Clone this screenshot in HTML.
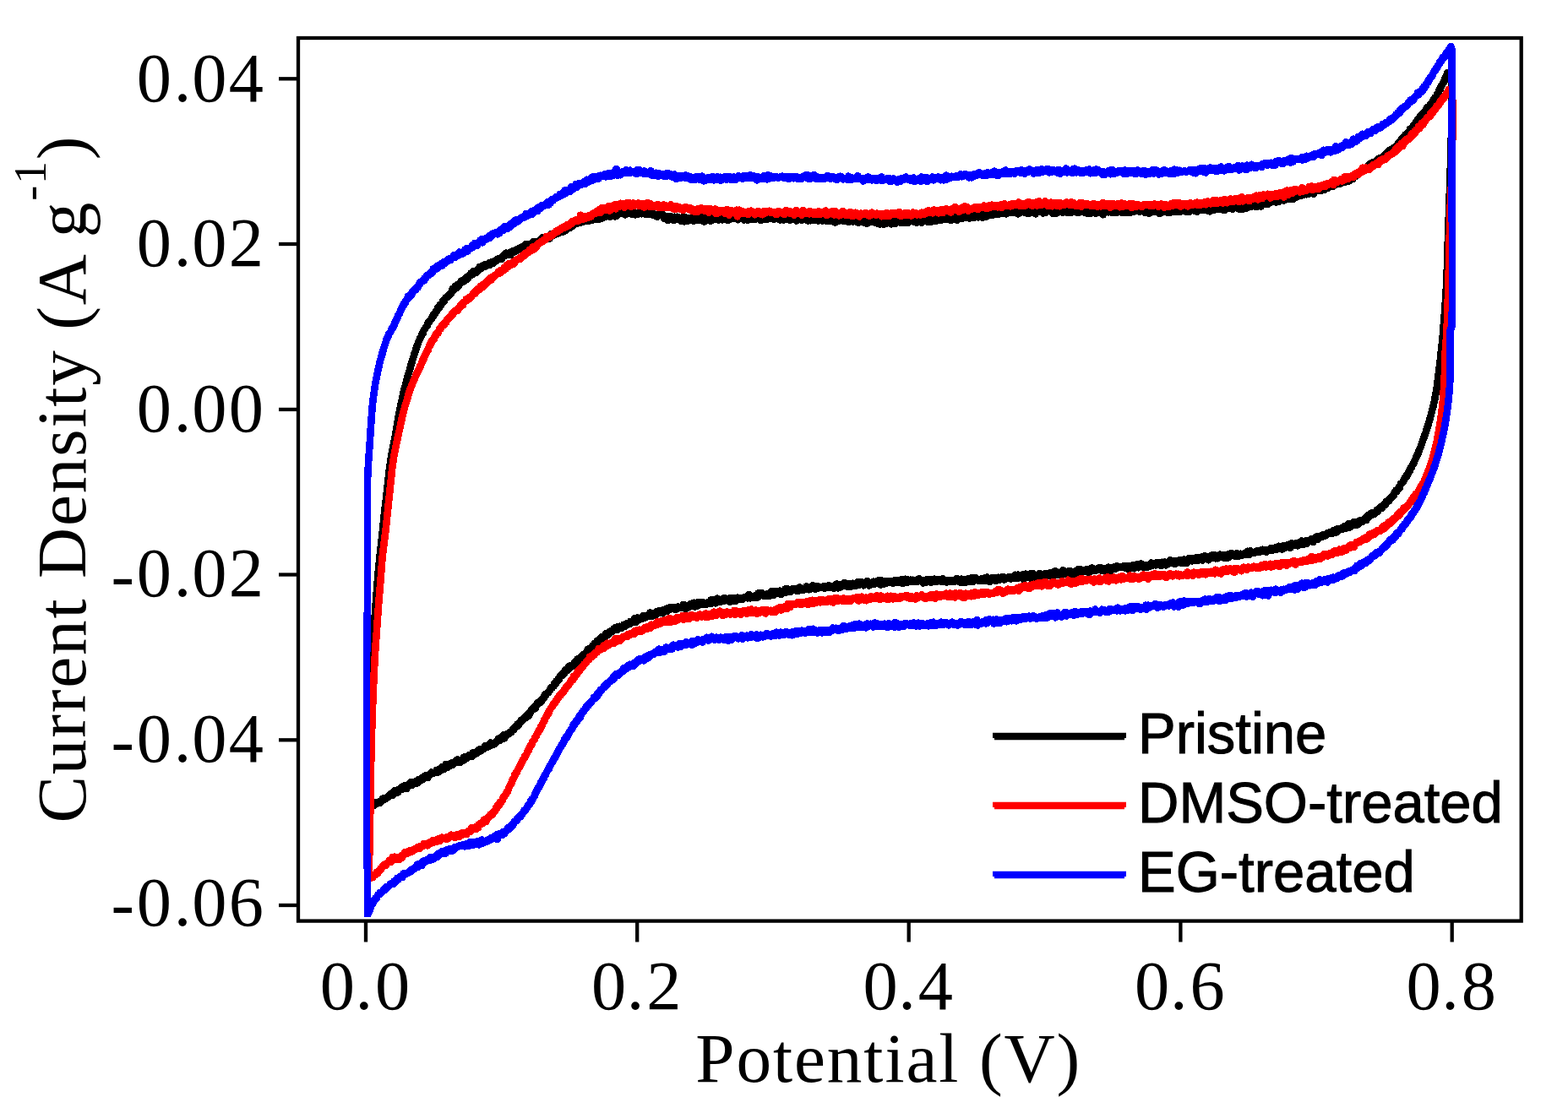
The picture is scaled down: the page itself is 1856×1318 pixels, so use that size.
<!DOCTYPE html>
<html lang="en"><head><meta charset="utf-8"><title>Cyclic voltammetry</title>
<style>html,body{margin:0;padding:0;background:#fff}svg{display:block}</style></head><body>
<svg width="1856" height="1318" viewBox="0 0 1856 1318">
<rect width="1856" height="1318" fill="#fff"/>
<defs><filter id="soft" x="-5%" y="-5%" width="110%" height="110%"><feGaussianBlur stdDeviation="0.7"/></filter></defs>
<path d="M437.0 955.0 L437.0 954.2 L437.0 953.4 L437.0 952.6 L437.0 951.8 L437.0 951.0 L437.0 950.1 L437.1 949.3 L437.1 948.5 L437.1 947.7 L437.1 946.9 L437.1 946.1 L437.1 945.3 L437.1 944.5 L437.1 943.7 L437.1 942.9 L437.1 942.1 L437.1 941.3 L437.1 940.4 L437.1 939.6 L437.2 938.8 L437.2 938.0 L437.2 937.2 L437.2 936.4 L437.2 935.6 L437.2 934.8 L437.2 934.0 L437.2 933.1 L437.2 932.4 L437.2 931.5 L437.2 930.7 L437.2 929.9 L437.2 929.1 L437.3 928.3 L437.3 927.5 L437.3 926.7 L437.3 925.9 L437.3 925.1 L437.3 924.3 L437.3 923.5 L437.3 922.6 L437.3 921.8 L437.3 921.0 L437.3 920.2 L437.3 919.4 L437.3 918.6 L437.4 917.8 L437.4 917.0 L437.4 916.2 L437.4 915.4 L437.4 914.6 L437.4 913.7 L437.4 913.0 L437.4 912.1 L437.4 911.3 L437.4 910.5 L437.4 909.7 L437.4 908.9 L437.4 908.1 L437.4 907.3 L437.4 906.5 L437.5 905.7 L437.5 904.9 L437.5 904.1 L437.5 903.2 L437.5 902.4 L437.5 901.6 L437.5 900.8 L437.5 900.0 L437.5 899.2 L437.5 898.4 L437.5 897.6 L437.5 896.8 L437.5 896.0 L437.5 895.2 L437.5 894.4 L437.5 893.6 L437.5 892.8 L437.5 892.0 L437.6 891.2 L437.6 890.4 L437.6 889.6 L437.6 888.8 L437.6 888.0 L437.6 887.2 L437.6 886.4 L437.6 885.6 L437.6 884.8 L437.6 884.0 L437.6 883.2 L437.6 882.4 L437.6 881.6 L437.6 880.8 L437.6 880.0 L437.6 879.2 L437.6 878.4 L437.6 877.6 L437.6 876.8 L437.6 876.0 L437.6 875.2 L437.6 874.4 L437.6 873.6 L437.6 872.8 L437.6 872.0 L437.6 871.2 L437.6 870.4 L437.6 869.6 L437.6 868.8 L437.6 868.0 L437.6 867.2 L437.6 866.4 L437.6 865.6 L437.6 864.8 L437.6 864.0 L437.6 863.2 L437.6 862.4 L437.6 861.6 L437.6 860.8 L437.6 860.0 L437.6 859.2 L437.6 858.4 L437.6 857.6 L437.6 856.8 L437.6 856.0 L437.6 855.2 L437.6 854.4 L437.6 853.6 L437.6 852.8 L437.6 852.0 L437.6 851.2 L437.6 850.4 L437.7 849.6 L437.7 848.8 L437.7 848.0 L437.7 847.2 L437.7 846.4 L437.7 845.6 L437.7 844.8 L437.7 844.0 L437.7 843.2 L437.7 842.4 L437.7 841.6 L437.7 840.8 L437.7 840.0 L437.7 839.2 L437.7 838.4 L437.7 837.6 L437.7 836.8 L437.8 836.0 L437.8 835.2 L437.8 834.4 L437.8 833.6 L437.8 832.8 L437.8 832.0 L437.8 831.2 L437.8 830.4 L437.8 829.6 L437.8 828.8 L437.9 828.0 L437.9 827.2 L437.9 826.4 L437.9 825.6 L437.9 824.8 L437.9 824.0 L437.9 823.2 L438.0 822.4 L438.0 821.6 L438.0 820.8 L438.0 820.0 L438.0 819.2 L438.0 818.4 L438.1 817.6 L438.1 816.7 L438.1 816.0 L438.1 815.2 L438.2 814.3 L438.2 813.6 L438.2 812.8 L438.2 812.1 L438.3 811.2 L438.3 810.4 L438.3 809.5 L438.4 808.8 L438.4 808.0 L438.4 807.1 L438.5 806.4 L438.5 805.7 L438.6 804.8 L438.6 804.1 L438.6 803.3 L438.7 802.4 L438.7 801.6 L438.8 800.7 L438.8 800.1 L438.8 799.2 L438.9 798.4 L438.9 797.7 L439.0 796.8 L439.0 796.0 L439.1 795.1 L439.1 794.5 L439.2 793.5 L439.2 792.7 L439.3 792.0 L439.3 791.2 L439.4 790.5 L439.4 789.6 L439.5 788.8 L439.5 787.9 L439.6 787.2 L439.6 786.5 L439.7 785.5 L439.7 784.7 L439.8 784.1 L439.8 783.0 L439.9 782.3 L439.9 781.6 L440.0 780.8 L440.0 780.2 L440.0 779.1 L440.1 778.4 L440.2 777.5 L440.2 776.9 L440.3 775.7 L440.3 775.2 L440.4 774.2 L440.4 773.5 L440.5 772.7 L440.5 771.8 L440.6 770.9 L440.7 770.3 L440.7 769.3 L440.8 768.6 L440.8 767.7 L440.9 767.0 L441.0 766.2 L441.0 765.4 L441.1 764.4 L441.1 763.7 L441.2 762.9 L441.3 762.1 L441.3 761.4 L441.4 760.4 L441.4 759.6 L441.5 758.7 L441.6 758.1 L441.6 757.2 L441.7 756.4 L441.8 755.4 L441.8 754.5 L441.9 753.8 L441.9 753.0 L442.0 752.2 L442.1 751.3 L442.1 750.5 L442.2 749.9 L442.3 748.9 L442.3 748.0 L442.4 747.5 L442.4 746.5 L442.5 745.6 L442.6 744.7 L442.6 744.0 L442.7 743.2 L442.7 742.2 L442.8 741.5 L442.9 740.9 L442.9 739.9 L443.0 739.2 L443.0 738.3 L443.1 737.7 L443.2 736.7 L443.2 735.8 L443.3 735.1 L443.3 734.2 L443.4 733.4 L443.5 732.5 L443.5 731.8 L443.6 730.9 L443.6 730.2 L443.7 729.4 L443.8 728.6 L443.8 727.6 L443.9 726.9 L443.9 726.1 L444.0 725.3 L444.1 724.3 L444.1 723.5 L444.2 722.7 L444.2 721.7 L444.3 721.1 L444.4 720.3 L444.4 719.6 L444.5 718.6 L444.5 717.7 L444.6 717.1 L444.7 716.1 L444.7 715.3 L444.8 714.6 L444.8 713.9 L444.9 712.8 L445.0 712.3 L445.0 711.4 L445.1 710.6 L445.1 709.6 L445.2 708.9 L445.2 708.2 L445.3 707.3 L445.4 706.6 L445.4 705.7 L445.5 705.0 L445.5 704.2 L445.6 703.3 L445.7 702.6 L445.7 701.9 L445.8 700.9 L445.8 700.0 L445.9 699.2 L446.0 698.6 L446.0 697.6 L446.1 696.8 L446.1 696.0 L446.2 695.1 L446.3 694.5 L446.3 693.6 L446.4 693.0 L446.5 692.0 L446.5 691.3 L446.6 690.6 L446.7 689.6 L446.7 688.7 L446.8 688.1 L446.9 687.3 L446.9 686.3 L447.0 685.7 L447.1 684.8 L447.1 684.0 L447.2 683.3 L447.3 682.4 L447.4 681.6 L447.4 680.9 L447.5 680.0 L447.6 679.4 L447.6 678.5 L447.7 677.7 L447.8 676.7 L447.9 676.2 L447.9 675.2 L448.0 674.6 L448.1 673.6 L448.2 672.7 L448.2 672.0 L448.3 671.2 L448.4 670.5 L448.5 669.6 L448.6 668.7 L448.6 668.1 L448.7 667.2 L448.8 666.7 L448.9 665.5 L448.9 665.1 L449.0 664.2 L449.1 663.3 L449.2 662.5 L449.3 661.8 L449.3 661.0 L449.4 660.3 L449.5 659.3 L449.6 658.5 L449.7 657.7 L449.7 656.9 L449.8 656.2 L449.9 655.4 L450.0 654.4 L450.1 653.6 L450.2 652.9 L450.2 652.3 L450.3 651.2 L450.4 650.2 L450.5 649.8 L450.6 648.8 L450.7 647.9 L450.8 647.3 L450.9 646.6 L450.9 645.8 L451.0 645.0 L451.1 644.2 L451.2 643.1 L451.3 642.4 L451.4 641.8 L451.5 640.8 L451.6 640.1 L451.6 639.3 L451.7 638.5 L451.8 638.0 L451.9 636.7 L452.0 636.4 L452.1 635.1 L452.2 634.3 L452.3 633.7 L452.3 632.8 L452.4 631.9 L452.5 631.2 L452.6 630.4 L452.7 629.6 L452.8 628.9 L452.9 627.8 L452.9 627.2 L453.0 626.5 L453.1 625.7 L453.2 624.9 L453.3 624.2 L453.4 623.2 L453.5 622.5 L453.5 621.6 L453.6 620.8 L453.7 619.9 L453.8 619.5 L453.9 618.6 L454.0 617.6 L454.1 616.7 L454.1 616.2 L454.2 615.4 L454.3 614.3 L454.4 613.7 L454.5 613.0 L454.6 611.9 L454.7 611.3 L454.7 610.6 L454.8 609.5 L454.9 608.8 L455.0 608.1 L455.1 607.4 L455.2 606.5 L455.3 605.7 L455.3 604.6 L455.4 603.9 L455.5 603.2 L455.6 602.6 L455.7 601.7 L455.8 600.8 L455.9 600.3 L456.0 599.4 L456.1 598.5 L456.1 597.7 L456.2 596.7 L456.3 596.4 L456.4 595.2 L456.5 594.8 L456.6 593.6 L456.7 592.9 L456.8 592.0 L456.9 591.2 L457.0 590.6 L457.1 589.7 L457.1 588.9 L457.2 588.2 L457.3 587.1 L457.4 586.5 L457.5 585.9 L457.6 584.7 L457.7 584.2 L457.8 583.0 L457.9 582.5 L458.0 582.0 L458.1 581.2 L458.2 580.1 L458.3 579.5 L458.3 578.4 L458.4 577.4 L458.5 577.1 L458.6 576.1 L458.7 575.6 L458.8 574.4 L458.9 573.5 L459.0 573.0 L459.1 572.1 L459.2 571.5 L459.3 570.5 L459.4 569.5 L459.5 568.8 L459.5 568.0 L459.6 567.5 L459.7 566.7 L459.8 565.7 L459.9 564.8 L460.0 564.4 L460.1 563.0 L460.2 562.6 L460.3 561.5 L460.3 561.0 L460.4 560.2 L460.5 559.6 L460.6 558.2 L460.7 557.4 L460.8 556.9 L460.9 556.0 L461.0 555.5 L461.1 554.5 L461.2 553.8 L461.3 552.6 L461.4 552.0 L461.5 551.2 L461.6 550.7 L461.7 549.5 L461.8 549.0 L461.9 548.2 L462.0 547.6 L462.1 546.6 L462.3 545.7 L462.4 545.0 L462.5 543.6 L462.6 543.1 L462.8 542.5 L462.9 541.8 L463.0 540.9 L463.2 539.9 L463.3 539.0 L463.5 538.2 L463.6 537.4 L463.7 536.9 L463.9 535.8 L464.1 534.8 L464.2 534.0 L464.4 533.5 L464.5 532.9 L464.7 532.1 L464.8 531.1 L465.0 531.0 L465.2 530.1 L465.3 528.5 L465.5 527.9 L465.6 526.9 L465.8 526.7 L466.0 525.6 L466.1 524.8 L466.3 524.5 L466.5 523.6 L466.6 522.8 L466.8 522.0 L466.9 520.4 L467.1 519.8 L467.2 519.4 L467.4 518.3 L467.6 517.8 L467.7 517.1 L467.9 516.2 L468.0 515.1 L468.1 514.6 L468.3 513.5 L468.4 512.8 L468.6 511.9 L468.7 510.8 L468.8 510.3 L469.0 509.4 L469.1 508.6 L469.3 507.7 L469.4 507.0 L469.5 506.5 L469.6 505.2 L469.8 505.0 L469.9 504.3 L470.0 503.3 L470.2 502.4 L470.3 501.2 L470.4 500.7 L470.6 500.2 L470.7 499.5 L470.8 498.6 L471.0 497.6 L471.1 496.6 L471.2 496.2 L471.4 495.2 L471.5 494.1 L471.7 493.7 L471.8 492.5 L471.9 491.6 L472.1 491.1 L472.2 490.2 L472.4 489.8 L472.5 488.7 L472.7 487.9 L472.8 487.3 L473.0 486.5 L473.2 485.6 L473.3 484.6 L473.5 484.3 L473.7 483.0 L473.8 482.4 L474.0 481.3 L474.2 480.7 L474.3 479.9 L474.5 478.8 L474.7 478.3 L474.8 477.6 L475.0 476.6 L475.2 476.1 L475.4 475.6 L475.5 474.4 L475.7 473.8 L475.9 472.8 L476.1 472.4 L476.3 470.9 L476.4 470.0 L476.6 469.4 L476.8 468.9 L477.0 468.0 L477.2 467.2 L477.4 465.9 L477.6 465.0 L477.7 464.2 L477.9 464.0 L478.1 463.0 L478.3 462.4 L478.5 461.8 L478.7 460.3 L478.9 459.6 L479.1 458.5 L479.3 458.2 L479.5 457.7 L479.7 457.2 L479.9 456.2 L480.1 455.2 L480.3 454.5 L480.5 454.1 L480.7 453.0 L480.9 451.4 L481.1 450.6 L481.3 450.1 L481.5 449.9 L481.7 449.5 L481.9 448.6 L482.2 447.5 L482.4 446.6 L482.6 445.8 L482.8 444.9 L483.0 444.6 L483.2 443.0 L483.4 442.9 L483.7 441.5 L483.9 441.4 L484.1 440.0 L484.3 439.6 L484.5 439.2 L484.8 438.4 L485.0 437.5 L485.2 436.5 L485.4 436.1 L485.7 435.8 L485.9 433.9 L486.1 433.0 L486.3 432.4 L486.6 431.9 L486.8 431.3 L487.0 431.1 L487.3 430.0 L487.5 429.2 L487.7 428.1 L488.0 426.8 L488.2 426.1 L488.4 425.8 L488.7 424.7 L488.9 423.6 L489.2 423.8 L489.4 422.9 L489.6 422.2 L489.9 420.9 L490.1 420.9 L490.4 419.4 L490.6 418.6 L490.9 417.9 L491.1 417.1 L491.4 417.1 L491.6 416.4 L491.9 414.4 L492.1 414.3 L492.4 412.6 L492.7 413.2 L492.9 412.4 L493.2 410.8 L493.5 409.6 L493.8 409.2 L494.0 409.4 L494.3 408.0 L494.6 407.3 L494.9 406.6 L495.2 405.4 L495.5 404.9 L495.8 404.0 L496.1 403.0 L496.5 402.9 L496.8 401.6 L497.1 400.6 L497.5 400.5 L497.8 399.5 L498.2 399.3 L498.5 398.8 L498.9 396.5 L499.3 395.5 L499.6 395.9 L500.0 395.3 L500.4 395.4 L500.8 394.3 L501.2 392.9 L501.6 391.2 L502.0 390.6 L502.4 389.9 L502.8 390.2 L503.2 389.1 L503.6 388.5 L504.0 387.4 L504.4 386.9 L504.8 386.7 L505.3 385.7 L505.7 385.7 L506.1 384.4 L506.5 382.9 L507.0 382.5 L507.4 381.3 L507.8 380.8 L508.3 380.7 L508.7 380.2 L509.2 379.2 L509.6 378.8 L510.1 378.1 L510.5 377.2 L511.0 377.0 L511.4 375.9 L511.9 376.2 L512.4 374.2 L512.8 373.7 L513.3 373.7 L513.7 371.4 L514.2 372.8 L514.7 371.0 L515.1 371.1 L515.6 370.0 L516.1 368.7 L516.5 368.1 L517.0 368.3 L517.5 366.8 L517.9 365.0 L518.4 366.6 L518.8 365.9 L519.3 365.5 L519.8 364.6 L520.2 363.5 L520.7 361.2 L521.1 361.2 L521.6 361.0 L522.1 361.9 L522.6 360.2 L523.0 360.0 L523.5 358.5 L524.0 357.5 L524.5 356.0 L524.9 357.3 L525.4 357.5 L525.9 356.2 L526.4 354.5 L526.9 354.2 L527.4 352.6 L528.0 352.1 L528.5 351.6 L529.0 352.5 L529.5 351.0 L530.1 350.9 L530.6 349.8 L531.2 350.0 L531.7 350.3 L532.3 347.8 L532.8 348.2 L533.4 347.7 L533.9 346.5 L534.5 346.5 L535.1 344.4 L535.6 342.1 L536.2 343.7 L536.8 341.6 L537.4 341.1 L538.0 341.0 L538.5 342.4 L539.1 338.8 L539.7 340.1 L540.3 341.2 L540.9 338.2 L541.5 339.7 L542.1 336.8 L542.7 337.0 L543.3 338.5 L544.0 335.1 L544.6 336.3 L545.2 335.1 L545.8 332.7 L546.4 333.2 L547.0 333.4 L547.7 333.5 L548.3 332.3 L548.9 333.5 L549.5 332.7 L550.2 330.5 L550.8 330.3 L551.4 329.1 L552.1 331.4 L552.7 328.6 L553.4 327.4 L554.0 329.6 L554.6 328.1 L555.3 326.7 L555.9 326.6 L556.6 326.0 L557.3 323.6 L557.9 324.6 L558.6 325.5 L559.2 324.8 L559.9 321.5 L560.6 323.2 L561.2 323.0 L561.9 322.0 L562.6 320.7 L563.3 320.8 L563.9 322.6 L564.6 320.0 L565.3 318.9 L566.0 320.8 L566.7 319.1 L567.4 316.2 L568.1 318.5 L568.8 318.5 L569.5 315.9 L570.2 317.1 L571.0 315.0 L571.7 314.9 L572.4 314.8 L573.1 313.6 L573.8 315.9 L574.6 314.0 L575.3 314.3 L576.0 314.6 L576.8 313.0 L577.5 313.1 L578.2 312.6 L579.0 311.3 L579.7 313.9 L580.4 310.8 L581.2 311.5 L581.9 311.6 L582.7 310.1 L583.4 312.1 L584.1 309.5 L584.9 310.6 L585.6 310.2 L586.3 309.1 L587.1 309.2 L587.8 309.0 L588.5 308.0 L589.3 306.4 L590.0 307.2 L590.7 307.0 L591.5 306.3 L592.2 305.9 L592.9 305.7 L593.6 306.8 L594.4 305.7 L595.1 303.9 L595.8 302.4 L596.6 303.1 L597.3 301.1 L598.0 302.9 L598.8 299.7 L599.5 301.7 L600.2 301.1 L601.0 300.1 L601.7 300.9 L602.4 300.6 L603.2 302.2 L603.9 298.7 L604.6 302.0 L605.4 298.0 L606.1 299.3 L606.8 297.1 L607.6 297.8 L608.3 298.6 L609.1 298.3 L609.8 296.4 L610.6 296.0 L611.3 296.2 L612.1 297.0 L612.8 295.0 L613.5 295.3 L614.3 294.3 L615.0 294.7 L615.8 293.6 L616.6 292.6 L617.3 295.3 L618.1 292.8 L618.8 294.0 L619.6 292.2 L620.3 292.8 L621.1 290.9 L621.9 289.3 L622.6 293.9 L623.4 291.3 L624.2 290.4 L624.9 289.7 L625.7 289.9 L626.5 289.6 L627.2 291.3 L628.0 289.7 L628.8 290.6 L629.5 290.3 L630.3 289.3 L631.1 286.2 L631.8 286.5 L632.6 286.2 L633.3 287.9 L634.1 287.8 L634.9 288.9 L635.6 287.8 L636.4 287.8 L637.1 286.7 L637.9 287.5 L638.6 284.9 L639.4 284.1 L640.1 284.0 L640.9 283.8 L641.6 283.2 L642.3 280.9 L643.1 280.8 L643.8 282.1 L644.6 281.8 L645.3 283.5 L646.0 283.7 L646.8 281.0 L647.5 281.5 L648.2 280.5 L649.0 280.5 L649.7 283.1 L650.4 282.8 L651.2 279.6 L651.9 280.5 L652.7 276.9 L653.4 279.5 L654.1 278.5 L654.9 276.6 L655.6 278.5 L656.3 277.2 L657.1 275.8 L657.8 277.2 L658.5 277.1 L659.2 276.1 L660.0 273.9 L660.7 276.3 L661.4 276.3 L662.2 274.5 L662.9 274.1 L663.6 272.8 L664.4 274.1 L665.1 274.4 L665.9 274.8 L666.6 272.4 L667.3 270.1 L668.1 270.4 L668.8 273.3 L669.5 271.4 L670.2 272.6 L671.0 268.2 L671.7 271.0 L672.4 270.0 L673.2 269.2 L673.9 269.5 L674.6 267.1 L675.3 269.4 L676.1 266.7 L676.8 267.8 L677.5 268.2 L678.3 267.2 L679.0 266.9 L679.7 265.9 L680.5 264.1 L681.2 263.8 L682.0 265.2 L682.7 263.5 L683.5 264.2 L684.2 263.1 L685.0 262.0 L685.7 261.6 L686.5 264.0 L687.2 263.8 L688.0 261.6 L688.8 262.4 L689.6 262.5 L690.3 262.6 L691.1 262.5 L691.9 259.8 L692.7 260.1 L693.5 259.8 L694.3 260.7 L695.1 261.1 L695.9 259.4 L696.7 261.9 L697.5 260.7 L698.3 258.7 L699.2 260.0 L700.0 257.8 L700.8 260.7 L701.6 258.9 L702.4 259.5 L703.2 260.2 L704.0 257.5 L704.9 258.0 L705.7 259.5 L706.5 259.1 L707.3 255.2 L708.1 259.1 L708.9 259.5 L709.8 259.4 L710.6 257.4 L711.4 255.7 L712.2 258.5 L713.0 256.2 L713.8 255.8 L714.6 257.3 L715.4 256.9 L716.2 257.1 L717.0 256.9 L717.8 254.5 L718.6 252.9 L719.4 253.3 L720.2 254.4 L721.0 256.4 L721.8 252.4 L722.6 256.7 L723.4 252.2 L724.2 254.0 L725.0 253.8 L725.8 252.9 L726.6 255.2 L727.4 254.4 L728.2 256.3 L729.0 251.6 L729.8 256.1 L730.6 255.0 L731.4 253.0 L732.2 253.2 L733.0 250.9 L733.8 253.1 L734.6 251.5 L735.4 252.5 L736.2 252.4 L737.0 252.9 L737.8 252.1 L738.6 252.7 L739.4 253.3 L740.2 254.4 L741.0 249.8 L741.8 252.9 L742.6 251.8 L743.4 252.8 L744.2 251.9 L745.0 249.7 L745.8 253.2 L746.6 251.3 L747.4 250.5 L748.2 252.4 L749.0 254.2 L749.8 251.8 L750.6 251.6 L751.4 252.8 L752.2 254.3 L753.0 253.6 L753.8 252.2 L754.6 252.7 L755.4 253.3 L756.3 252.2 L757.1 251.3 L757.9 253.0 L758.7 252.8 L759.5 253.3 L760.3 251.7 L761.1 250.7 L761.9 251.7 L762.7 250.9 L763.5 253.6 L764.3 249.9 L765.1 254.2 L766.0 253.5 L766.8 253.8 L767.6 253.4 L768.4 251.7 L769.2 253.9 L770.0 251.8 L770.8 253.2 L771.6 254.1 L772.4 252.5 L773.2 254.6 L774.0 253.0 L774.8 253.8 L775.6 254.5 L776.4 254.3 L777.2 256.5 L778.0 256.6 L778.8 254.6 L779.6 254.8 L780.5 254.7 L781.3 252.0 L782.1 253.5 L782.9 254.8 L783.7 255.0 L784.5 254.3 L785.3 256.0 L786.1 258.8 L786.9 255.9 L787.7 256.9 L788.5 256.3 L789.3 256.1 L790.1 257.6 L790.9 261.1 L791.7 258.1 L792.5 256.9 L793.3 256.1 L794.1 257.0 L794.9 257.0 L795.7 257.4 L796.5 257.7 L797.4 261.2 L798.2 256.8 L799.0 258.8 L799.8 258.2 L800.6 257.3 L801.4 256.8 L802.2 258.7 L803.0 257.1 L803.8 260.0 L804.6 258.2 L805.4 258.2 L806.2 261.9 L807.0 258.7 L807.8 260.5 L808.6 257.2 L809.4 262.3 L810.2 262.3 L811.0 257.3 L811.8 260.1 L812.6 262.0 L813.4 262.1 L814.2 259.1 L815.0 261.3 L815.8 259.3 L816.6 257.9 L817.4 260.5 L818.2 260.2 L819.0 257.0 L819.8 258.3 L820.6 258.1 L821.4 261.9 L822.2 257.8 L823.0 258.0 L823.8 259.6 L824.6 258.7 L825.4 259.9 L826.2 261.2 L827.0 257.9 L827.8 260.3 L828.6 261.2 L829.4 260.4 L830.2 256.6 L831.0 261.0 L831.8 259.8 L832.6 259.1 L833.4 262.5 L834.2 257.9 L835.0 256.8 L835.8 261.2 L836.6 259.9 L837.4 260.4 L838.2 260.8 L839.0 260.1 L839.8 261.1 L840.6 261.8 L841.4 257.2 L842.2 259.7 L843.0 258.3 L843.8 259.5 L844.7 260.1 L845.5 259.0 L846.3 257.9 L847.1 257.0 L847.9 259.9 L848.7 259.1 L849.5 258.3 L850.3 260.6 L851.1 258.7 L851.9 260.2 L852.7 257.7 L853.5 255.5 L854.3 255.5 L855.1 260.5 L855.9 256.1 L856.7 259.9 L857.5 257.1 L858.4 259.1 L859.2 256.7 L860.0 258.3 L860.8 256.6 L861.6 260.9 L862.4 257.9 L863.2 260.0 L864.0 257.9 L864.8 257.4 L865.6 258.6 L866.4 258.4 L867.2 256.9 L868.0 259.1 L868.8 256.8 L869.6 257.5 L870.4 256.7 L871.2 258.0 L872.0 258.0 L872.8 258.4 L873.6 260.3 L874.4 258.6 L875.2 257.0 L876.0 257.4 L876.8 257.3 L877.6 259.0 L878.4 257.1 L879.2 259.4 L880.0 258.1 L880.8 260.5 L881.6 257.6 L882.4 259.7 L883.2 257.6 L884.0 257.3 L884.8 260.8 L885.6 257.7 L886.4 259.8 L887.2 260.1 L888.0 258.5 L888.8 257.8 L889.6 259.0 L890.4 259.5 L891.3 260.1 L892.1 256.9 L892.9 260.2 L893.7 258.1 L894.5 258.6 L895.3 257.7 L896.1 256.6 L896.9 258.8 L897.7 258.6 L898.5 258.5 L899.3 258.1 L900.1 259.5 L900.9 261.1 L901.7 259.3 L902.5 257.6 L903.3 258.8 L904.1 260.0 L904.9 259.8 L905.7 258.0 L906.5 258.0 L907.3 260.0 L908.1 258.3 L908.9 259.0 L909.7 257.9 L910.5 258.7 L911.3 259.1 L912.1 257.2 L912.9 257.9 L913.7 257.5 L914.5 258.4 L915.3 257.4 L916.1 259.7 L916.9 258.9 L917.7 257.0 L918.5 257.2 L919.3 258.5 L920.1 258.7 L920.9 259.2 L921.7 257.3 L922.5 259.1 L923.3 260.6 L924.1 259.3 L924.9 258.1 L925.7 258.4 L926.5 258.5 L927.3 260.6 L928.1 256.9 L928.9 258.5 L929.7 259.3 L930.5 259.9 L931.3 258.9 L932.1 259.9 L932.9 258.8 L933.7 257.8 L934.5 259.5 L935.3 260.7 L936.1 260.1 L936.9 258.2 L937.7 257.7 L938.6 259.2 L939.4 259.9 L940.2 258.5 L941.0 258.3 L941.8 260.1 L942.6 261.6 L943.4 257.9 L944.2 258.6 L945.0 258.6 L945.8 256.5 L946.6 259.6 L947.4 257.6 L948.2 256.9 L949.0 260.6 L949.8 260.3 L950.6 257.8 L951.4 259.4 L952.2 258.6 L953.0 260.2 L953.8 259.7 L954.6 259.4 L955.4 259.6 L956.2 261.5 L957.0 260.3 L957.8 260.8 L958.6 257.8 L959.4 261.3 L960.2 259.0 L961.0 258.1 L961.8 259.4 L962.6 260.0 L963.4 259.8 L964.2 261.1 L965.0 259.8 L965.8 258.8 L966.6 260.6 L967.4 259.3 L968.2 261.5 L969.0 260.7 L969.9 260.4 L970.7 260.7 L971.5 257.9 L972.3 261.0 L973.1 258.1 L973.9 261.5 L974.7 261.2 L975.5 260.2 L976.3 259.5 L977.1 261.4 L977.9 260.2 L978.7 260.4 L979.5 258.1 L980.4 262.0 L981.2 261.0 L982.0 258.5 L982.8 259.4 L983.6 261.6 L984.4 259.5 L985.2 261.2 L986.0 258.5 L986.8 260.3 L987.6 260.7 L988.4 263.6 L989.2 260.2 L990.0 261.8 L990.9 260.3 L991.7 261.2 L992.5 261.6 L993.3 261.6 L994.1 261.1 L994.9 259.8 L995.7 258.6 L996.5 260.9 L997.3 260.3 L998.1 262.0 L998.9 260.9 L999.7 260.7 L1000.5 258.7 L1001.3 260.1 L1002.2 261.7 L1003.0 260.0 L1003.8 261.2 L1004.6 262.9 L1005.4 262.2 L1006.2 260.8 L1007.0 262.2 L1007.8 259.0 L1008.6 259.9 L1009.4 262.4 L1010.2 261.5 L1011.0 261.6 L1011.8 262.2 L1012.7 260.3 L1013.5 262.6 L1014.3 260.7 L1015.1 262.6 L1015.9 263.7 L1016.7 261.4 L1017.5 261.7 L1018.3 262.1 L1019.1 262.2 L1019.9 262.4 L1020.7 259.6 L1021.5 262.9 L1022.3 263.4 L1023.2 260.6 L1024.0 262.5 L1024.8 260.1 L1025.6 261.8 L1026.4 264.7 L1027.2 263.7 L1028.0 261.9 L1028.8 261.9 L1029.6 261.1 L1030.4 260.2 L1031.2 262.8 L1032.0 263.1 L1032.8 262.7 L1033.6 261.6 L1034.5 261.2 L1035.3 261.9 L1036.1 264.1 L1036.9 263.8 L1037.7 263.1 L1038.5 262.9 L1039.3 260.0 L1040.1 265.0 L1040.9 265.0 L1041.7 265.5 L1042.5 261.4 L1043.3 264.0 L1044.1 262.3 L1045.0 265.4 L1045.8 265.7 L1046.6 263.6 L1047.4 264.0 L1048.2 262.3 L1049.0 264.5 L1049.8 262.1 L1050.6 263.3 L1051.4 262.5 L1052.2 262.8 L1053.0 264.4 L1053.8 262.2 L1054.7 265.3 L1055.5 265.2 L1056.3 265.2 L1057.1 265.0 L1057.9 261.5 L1058.7 262.7 L1059.5 263.6 L1060.3 264.6 L1061.1 261.6 L1061.9 262.5 L1062.7 263.2 L1063.5 262.8 L1064.4 261.1 L1065.2 262.6 L1066.0 264.0 L1066.8 263.5 L1067.6 261.8 L1068.4 262.6 L1069.2 260.5 L1070.0 263.8 L1070.8 262.9 L1071.6 262.4 L1072.4 263.1 L1073.2 263.0 L1074.1 262.2 L1074.9 264.1 L1075.7 261.0 L1076.5 262.7 L1077.3 261.5 L1078.1 258.8 L1078.9 261.4 L1079.7 261.4 L1080.5 260.9 L1081.3 261.3 L1082.1 262.7 L1082.9 262.0 L1083.7 261.0 L1084.6 261.6 L1085.4 263.8 L1086.2 260.5 L1087.0 259.9 L1087.8 262.2 L1088.6 261.4 L1089.4 261.7 L1090.2 263.4 L1091.0 263.9 L1091.8 257.9 L1092.6 260.9 L1093.4 260.2 L1094.2 261.0 L1095.1 262.1 L1095.9 261.5 L1096.7 258.8 L1097.5 260.2 L1098.3 263.0 L1099.1 259.8 L1099.9 260.1 L1100.7 261.8 L1101.5 259.3 L1102.3 262.5 L1103.1 259.3 L1103.9 260.6 L1104.7 259.8 L1105.5 258.4 L1106.4 261.8 L1107.2 261.1 L1108.0 259.4 L1108.8 258.9 L1109.6 261.3 L1110.4 259.8 L1111.2 258.6 L1112.0 260.5 L1112.8 257.2 L1113.6 258.9 L1114.4 260.4 L1115.2 260.2 L1116.0 259.1 L1116.8 256.8 L1117.6 258.7 L1118.5 259.9 L1119.3 259.5 L1120.1 256.2 L1120.9 259.6 L1121.7 259.6 L1122.5 256.0 L1123.3 259.1 L1124.1 259.9 L1124.9 258.0 L1125.7 261.0 L1126.5 258.4 L1127.3 259.2 L1128.1 258.3 L1128.9 259.6 L1129.7 257.3 L1130.5 258.3 L1131.4 257.8 L1132.2 258.8 L1133.0 260.5 L1133.8 257.1 L1134.6 258.2 L1135.4 257.6 L1136.2 257.1 L1137.0 259.2 L1137.8 259.1 L1138.6 258.8 L1139.4 258.5 L1140.2 257.5 L1141.0 257.0 L1141.8 255.7 L1142.6 256.4 L1143.4 257.3 L1144.2 257.6 L1145.0 255.1 L1145.8 256.6 L1146.6 257.4 L1147.4 258.5 L1148.2 255.9 L1149.0 253.6 L1149.8 257.4 L1150.6 254.8 L1151.4 255.2 L1152.2 257.9 L1153.0 257.0 L1153.8 255.8 L1154.6 254.6 L1155.4 254.9 L1156.2 255.3 L1157.0 255.6 L1157.8 257.3 L1158.6 256.5 L1159.4 255.7 L1160.2 254.3 L1161.0 255.6 L1161.8 254.4 L1162.6 255.2 L1163.4 257.9 L1164.2 254.2 L1165.0 253.9 L1165.8 255.7 L1166.6 253.2 L1167.4 252.0 L1168.2 256.5 L1169.0 253.9 L1169.8 251.1 L1170.6 252.8 L1171.4 254.1 L1172.2 255.0 L1173.0 253.3 L1173.8 253.7 L1174.6 251.7 L1175.4 254.4 L1176.2 252.5 L1177.0 253.8 L1177.8 254.1 L1178.6 251.0 L1179.4 251.3 L1180.2 251.7 L1181.0 252.9 L1181.8 253.9 L1182.6 251.9 L1183.4 251.0 L1184.2 252.1 L1185.0 252.9 L1185.8 252.1 L1186.6 251.8 L1187.4 248.7 L1188.2 252.9 L1189.0 251.0 L1189.8 252.2 L1190.6 251.3 L1191.4 253.3 L1192.2 251.0 L1193.0 251.7 L1193.8 250.2 L1194.6 251.6 L1195.4 252.2 L1196.2 249.4 L1197.0 252.1 L1197.8 250.0 L1198.6 250.6 L1199.4 248.8 L1200.2 250.8 L1201.0 251.5 L1201.8 250.2 L1202.6 252.0 L1203.4 251.5 L1204.2 249.7 L1205.0 253.4 L1205.8 250.7 L1206.6 252.0 L1207.4 252.1 L1208.2 248.5 L1209.0 251.5 L1209.8 247.7 L1210.6 250.9 L1211.4 250.6 L1212.2 251.3 L1213.0 251.8 L1213.8 250.6 L1214.6 252.3 L1215.4 249.7 L1216.2 251.2 L1217.0 251.6 L1217.8 252.9 L1218.6 248.6 L1219.4 250.7 L1220.3 248.8 L1221.1 250.7 L1221.9 249.4 L1222.7 251.9 L1223.5 249.3 L1224.3 250.3 L1225.1 250.9 L1225.9 253.3 L1226.7 248.3 L1227.5 249.5 L1228.3 249.1 L1229.1 250.1 L1229.9 249.4 L1230.8 250.8 L1231.6 249.0 L1232.4 248.9 L1233.2 247.4 L1234.0 251.3 L1234.8 252.5 L1235.6 249.8 L1236.4 249.8 L1237.2 249.5 L1238.0 251.6 L1238.8 249.8 L1239.6 250.0 L1240.5 249.4 L1241.3 248.7 L1242.1 249.9 L1242.9 249.4 L1243.7 250.2 L1244.5 250.1 L1245.3 247.5 L1246.1 252.7 L1246.9 250.0 L1247.7 249.8 L1248.5 251.8 L1249.3 252.7 L1250.2 248.7 L1251.0 252.5 L1251.8 249.8 L1252.6 249.4 L1253.4 250.1 L1254.2 250.4 L1255.0 249.8 L1255.8 249.6 L1256.6 248.6 L1257.4 251.3 L1258.2 251.9 L1259.0 250.5 L1259.9 250.1 L1260.7 249.3 L1261.5 249.6 L1262.3 250.3 L1263.1 250.7 L1263.9 252.2 L1264.7 250.0 L1265.5 252.0 L1266.3 249.1 L1267.1 249.8 L1267.9 249.8 L1268.7 251.3 L1269.5 250.0 L1270.3 250.0 L1271.1 249.1 L1271.9 250.1 L1272.7 251.0 L1273.5 248.3 L1274.3 251.5 L1275.1 249.8 L1275.9 248.3 L1276.7 251.9 L1277.5 251.3 L1278.3 250.4 L1279.1 249.9 L1279.9 249.9 L1280.7 250.0 L1281.5 251.0 L1282.3 250.5 L1283.1 251.4 L1283.9 250.5 L1284.7 250.3 L1285.5 250.5 L1286.3 250.1 L1287.1 252.8 L1287.9 247.9 L1288.7 250.3 L1289.5 250.0 L1290.3 249.7 L1291.1 252.8 L1291.9 249.6 L1292.7 251.4 L1293.5 246.9 L1294.3 250.4 L1295.1 247.7 L1295.9 250.3 L1296.8 252.7 L1297.6 249.6 L1298.4 250.8 L1299.2 249.5 L1300.0 251.3 L1300.8 249.8 L1301.6 249.5 L1302.4 250.5 L1303.2 251.6 L1304.0 251.4 L1304.8 248.1 L1305.6 254.3 L1306.4 251.1 L1307.2 249.2 L1308.0 248.0 L1308.8 251.2 L1309.6 250.4 L1310.4 249.1 L1311.2 249.5 L1312.0 251.4 L1312.8 249.8 L1313.6 249.6 L1314.4 249.1 L1315.2 247.3 L1316.0 250.1 L1316.8 252.2 L1317.6 249.7 L1318.4 250.2 L1319.2 249.2 L1320.0 250.1 L1320.8 250.2 L1321.6 251.9 L1322.4 249.1 L1323.2 248.2 L1324.0 249.8 L1324.8 250.1 L1325.6 251.2 L1326.4 248.7 L1327.2 251.3 L1328.0 250.3 L1328.8 248.7 L1329.6 250.4 L1330.4 252.1 L1331.2 250.7 L1332.0 249.1 L1332.8 250.1 L1333.7 248.8 L1334.5 251.4 L1335.3 249.0 L1336.1 247.7 L1336.9 251.4 L1337.7 250.2 L1338.5 251.5 L1339.3 248.8 L1340.1 249.6 L1340.9 251.1 L1341.7 251.2 L1342.5 249.3 L1343.4 249.0 L1344.2 249.4 L1345.0 249.2 L1345.8 249.9 L1346.6 248.8 L1347.4 249.5 L1348.2 249.1 L1349.0 250.6 L1349.8 249.0 L1350.6 249.5 L1351.4 246.8 L1352.2 249.6 L1353.1 250.1 L1353.9 250.0 L1354.7 248.8 L1355.5 251.8 L1356.3 248.3 L1357.1 250.8 L1357.9 249.7 L1358.7 249.6 L1359.5 248.9 L1360.3 252.9 L1361.1 249.1 L1361.9 250.7 L1362.7 248.7 L1363.6 248.3 L1364.4 249.3 L1365.2 249.3 L1366.0 250.9 L1366.8 249.8 L1367.6 248.3 L1368.4 250.4 L1369.2 249.5 L1370.0 250.2 L1370.8 249.7 L1371.6 248.2 L1372.4 253.0 L1373.3 248.0 L1374.1 248.0 L1374.9 251.6 L1375.7 250.2 L1376.5 249.9 L1377.3 251.2 L1378.1 249.5 L1378.9 249.7 L1379.7 249.4 L1380.5 247.1 L1381.3 251.5 L1382.1 249.5 L1383.0 248.6 L1383.8 251.4 L1384.6 250.5 L1385.4 250.2 L1386.2 251.4 L1387.0 250.8 L1387.8 249.3 L1388.6 247.9 L1389.4 250.6 L1390.2 249.1 L1391.0 250.4 L1391.8 246.9 L1392.7 250.3 L1393.5 248.8 L1394.3 248.8 L1395.1 251.0 L1395.9 249.0 L1396.7 247.0 L1397.5 249.2 L1398.3 250.3 L1399.1 248.9 L1399.9 250.0 L1400.7 248.1 L1401.5 249.4 L1402.4 249.8 L1403.2 247.5 L1404.0 250.9 L1404.8 249.1 L1405.6 250.3 L1406.4 248.7 L1407.2 251.1 L1408.0 248.0 L1408.8 247.3 L1409.6 246.5 L1410.4 248.7 L1411.2 248.2 L1412.0 248.0 L1412.9 247.7 L1413.7 249.2 L1414.5 249.8 L1415.3 248.4 L1416.1 247.4 L1416.9 250.7 L1417.7 249.9 L1418.5 248.3 L1419.3 248.7 L1420.1 248.7 L1420.9 247.3 L1421.7 247.0 L1422.5 248.4 L1423.4 248.0 L1424.2 247.7 L1425.0 248.6 L1425.8 247.0 L1426.6 249.2 L1427.4 248.8 L1428.2 246.7 L1429.0 249.5 L1429.8 248.0 L1430.6 249.1 L1431.4 248.7 L1432.2 250.4 L1433.0 248.6 L1433.9 248.8 L1434.7 245.0 L1435.5 246.4 L1436.3 248.9 L1437.1 248.1 L1437.9 246.8 L1438.7 247.2 L1439.5 247.9 L1440.3 246.9 L1441.1 247.0 L1441.9 246.0 L1442.8 247.6 L1443.6 246.3 L1444.4 247.2 L1445.2 248.2 L1446.0 247.0 L1446.8 247.4 L1447.6 246.4 L1448.4 248.8 L1449.2 249.1 L1450.0 245.1 L1450.8 245.3 L1451.6 246.1 L1452.5 245.3 L1453.3 245.9 L1454.1 245.4 L1454.9 246.8 L1455.7 245.0 L1456.5 245.0 L1457.3 244.8 L1458.1 247.2 L1458.9 247.7 L1459.7 244.9 L1460.5 246.1 L1461.3 245.9 L1462.1 245.4 L1463.0 243.4 L1463.8 245.3 L1464.6 246.8 L1465.4 243.1 L1466.2 246.2 L1467.0 248.0 L1467.8 246.1 L1468.6 244.8 L1469.4 245.8 L1470.2 245.4 L1471.0 248.0 L1471.8 242.4 L1472.6 242.4 L1473.4 246.3 L1474.2 246.6 L1475.0 242.4 L1475.8 246.5 L1476.6 244.6 L1477.4 243.9 L1478.2 244.8 L1479.0 244.0 L1479.8 243.6 L1480.6 243.7 L1481.4 244.6 L1482.1 244.4 L1482.9 242.1 L1483.7 243.2 L1484.5 243.4 L1485.3 242.5 L1486.1 241.9 L1486.9 245.1 L1487.7 242.6 L1488.4 243.6 L1489.2 244.4 L1490.0 242.6 L1490.8 241.0 L1491.6 240.9 L1492.4 244.6 L1493.2 239.3 L1493.9 241.0 L1494.7 241.2 L1495.5 240.7 L1496.3 239.2 L1497.1 238.6 L1497.9 241.2 L1498.6 241.7 L1499.4 240.9 L1500.2 242.1 L1501.0 237.3 L1501.8 240.9 L1502.6 239.7 L1503.3 240.3 L1504.1 238.9 L1504.9 238.1 L1505.7 237.5 L1506.5 239.2 L1507.2 237.6 L1508.0 237.1 L1508.8 237.8 L1509.6 237.3 L1510.4 239.5 L1511.2 239.0 L1511.9 237.5 L1512.7 237.3 L1513.5 239.0 L1514.3 236.1 L1515.1 237.8 L1515.8 236.3 L1516.6 236.3 L1517.4 236.4 L1518.2 235.8 L1519.0 236.5 L1519.7 237.6 L1520.5 235.5 L1521.3 234.0 L1522.1 236.0 L1522.8 235.5 L1523.6 235.2 L1524.4 235.1 L1525.2 235.5 L1526.0 232.3 L1526.7 236.2 L1527.5 231.2 L1528.3 234.2 L1529.1 231.7 L1529.9 234.8 L1530.7 235.7 L1531.5 231.5 L1532.2 232.3 L1533.0 234.3 L1533.8 233.3 L1534.6 232.4 L1535.4 230.4 L1536.2 230.8 L1537.0 232.4 L1537.8 231.5 L1538.6 230.0 L1539.4 230.0 L1540.1 231.4 L1540.9 231.2 L1541.7 231.3 L1542.5 229.1 L1543.3 229.2 L1544.1 229.7 L1544.9 229.5 L1545.7 226.8 L1546.4 227.6 L1547.2 230.2 L1548.0 230.0 L1548.8 229.5 L1549.6 229.4 L1550.4 226.7 L1551.2 227.2 L1551.9 227.7 L1552.7 228.4 L1553.5 227.9 L1554.3 229.2 L1555.1 229.6 L1555.8 227.7 L1556.6 226.8 L1557.4 224.4 L1558.2 226.4 L1559.0 224.2 L1559.7 224.9 L1560.5 226.1 L1561.3 224.8 L1562.0 224.0 L1562.8 224.6 L1563.6 225.7 L1564.4 225.6 L1565.1 223.4 L1565.9 222.5 L1566.7 224.4 L1567.4 222.4 L1568.2 224.5 L1569.0 222.2 L1569.7 221.9 L1570.5 221.0 L1571.3 223.1 L1572.0 221.1 L1572.8 219.7 L1573.5 220.9 L1574.3 219.5 L1575.1 217.5 L1575.8 219.8 L1576.6 220.2 L1577.4 218.0 L1578.1 220.9 L1578.9 219.0 L1579.6 218.9 L1580.4 219.1 L1581.2 216.8 L1581.9 216.5 L1582.7 218.2 L1583.4 217.2 L1584.2 216.3 L1584.9 217.7 L1585.7 217.7 L1586.4 213.3 L1587.2 215.3 L1588.0 215.9 L1588.7 216.3 L1589.4 214.5 L1590.2 215.8 L1590.9 213.2 L1591.7 215.9 L1592.4 212.8 L1593.2 214.3 L1593.9 212.6 L1594.7 214.4 L1595.4 213.9 L1596.1 211.9 L1596.9 214.3 L1597.6 211.6 L1598.3 209.4 L1599.1 211.0 L1599.8 212.3 L1600.5 211.5 L1601.2 212.2 L1602.0 208.9 L1602.7 208.5 L1603.4 209.2 L1604.1 207.2 L1604.9 209.1 L1605.6 207.0 L1606.3 206.6 L1607.0 205.9 L1607.7 204.9 L1608.4 206.3 L1609.0 204.9 L1609.7 203.9 L1610.4 202.9 L1611.1 204.1 L1611.7 203.7 L1612.4 201.7 L1613.1 202.2 L1613.7 201.3 L1614.4 202.4 L1615.0 200.7 L1615.7 199.5 L1616.3 201.2 L1617.0 198.0 L1617.7 197.8 L1618.3 197.1 L1619.0 197.9 L1619.7 196.8 L1620.3 195.1 L1621.0 195.2 L1621.7 193.8 L1622.3 196.1 L1623.0 194.6 L1623.7 193.0 L1624.4 192.7 L1625.0 192.5 L1625.7 192.0 L1626.4 193.7 L1627.1 193.8 L1627.8 192.0 L1628.4 192.0 L1629.1 190.6 L1629.8 189.9 L1630.5 189.5 L1631.2 190.0 L1631.9 187.9 L1632.5 189.2 L1633.2 186.9 L1633.9 187.2 L1634.6 187.5 L1635.3 186.9 L1636.0 186.5 L1636.6 185.7 L1637.3 185.4 L1638.0 186.6 L1638.7 183.9 L1639.3 184.9 L1640.0 183.3 L1640.7 183.8 L1641.3 181.2 L1642.0 182.2 L1642.7 181.0 L1643.3 181.3 L1644.0 178.5 L1644.7 178.6 L1645.3 179.3 L1646.0 180.8 L1646.6 177.2 L1647.2 178.5 L1647.9 177.5 L1648.5 175.7 L1649.1 177.3 L1649.8 176.4 L1650.4 175.6 L1651.0 175.0 L1651.6 174.7 L1652.2 173.2 L1652.8 173.5 L1653.4 174.0 L1654.0 172.8 L1654.5 172.2 L1655.1 171.0 L1655.6 168.5 L1656.2 169.3 L1656.7 170.1 L1657.3 168.6 L1657.8 169.8 L1658.3 168.1 L1658.8 166.8 L1659.3 164.5 L1659.9 163.5 L1660.4 165.2 L1660.9 164.7 L1661.4 164.4 L1661.9 162.3 L1662.4 161.7 L1662.9 163.2 L1663.4 159.6 L1663.9 160.5 L1664.4 159.4 L1665.0 160.6 L1665.5 158.2 L1666.0 157.3 L1666.5 157.9 L1667.0 156.7 L1667.6 155.8 L1668.1 155.5 L1668.6 154.4 L1669.1 152.7 L1669.7 153.4 L1670.2 154.3 L1670.7 151.4 L1671.2 151.2 L1671.7 151.4 L1672.2 151.1 L1672.8 148.8 L1673.3 148.2 L1673.8 148.8 L1674.3 147.0 L1674.8 146.7 L1675.3 146.0 L1675.9 145.6 L1676.4 143.8 L1676.9 143.4 L1677.4 144.1 L1677.9 144.0 L1678.4 141.0 L1678.9 143.0 L1679.5 140.6 L1680.0 140.1 L1680.5 139.5 L1681.0 138.0 L1681.5 136.8 L1682.0 136.6 L1682.5 137.8 L1683.0 136.1 L1683.5 135.8 L1684.1 134.7 L1684.6 135.2 L1685.1 133.3 L1685.6 134.1 L1686.1 132.5 L1686.7 133.6 L1687.2 130.5 L1687.7 130.4 L1688.2 131.2 L1688.7 127.9 L1689.2 127.9 L1689.8 127.4 L1690.3 126.6 L1690.8 127.2 L1691.3 128.2 L1691.8 125.2 L1692.3 126.3 L1692.8 123.9 L1693.3 124.4 L1693.7 124.2 L1694.2 122.9 L1694.7 122.8 L1695.2 121.5 L1695.6 121.3 L1696.1 119.9 L1696.6 118.1 L1697.0 118.7 L1697.4 117.6 L1697.9 118.7 L1698.3 116.3 L1698.7 115.3 L1699.1 116.4 L1699.5 114.7 L1699.9 115.3 L1700.3 115.0 L1700.7 112.7 L1701.1 111.1 L1701.5 111.1 L1701.8 110.6 L1702.2 110.5 L1702.6 109.7 L1702.9 109.3 L1703.3 107.8 L1703.6 106.4 L1704.0 107.0 L1704.4 105.1 L1704.7 105.7 L1705.1 104.6 L1705.4 103.5 L1705.8 102.1 L1706.2 101.4 L1706.5 101.0 L1706.9 100.5 L1707.3 100.0 L1707.6 99.4 L1708.0 98.5 L1708.4 97.2 L1708.8 97.1 L1709.2 97.3 L1709.5 95.4 L1709.9 94.1 L1710.3 92.5 L1710.7 92.8 L1711.0 92.2 L1711.4 91.1 L1711.8 90.0 L1712.2 89.1 L1712.6 89.6 L1712.9 87.2 L1713.3 86.0 L1713.7 87.3 L1714.1 86.4 L1714.5 87.9 L1715.0 86.4 L1715.5 85.8 L1716.1 86.6 L1716.6 86.9 L1717.1 88.3 L1717.6 90.7 L1717.9 91.0 L1718.0 92.1 L1718.0 92.8 L1718.1 93.6 L1718.1 94.3 L1718.2 95.1 L1718.2 95.9 L1718.2 96.8 L1718.3 97.5 L1718.3 98.4 L1718.3 99.2 L1718.3 100.0 L1718.4 100.8 L1718.4 101.5 L1718.4 102.4 L1718.4 103.2 L1718.4 104.0 L1718.4 104.8 L1718.5 105.6 L1718.5 106.4 L1718.5 107.2 L1718.5 108.0 L1718.5 108.8 L1718.5 109.6 L1718.5 110.4 L1718.5 111.2 L1718.5 112.0 L1718.5 112.8 L1718.5 113.6 L1718.5 114.4 L1718.5 115.2 L1718.5 116.1 L1718.5 116.8 L1718.5 117.7 L1718.5 118.5 L1718.5 119.3 L1718.5 120.1 L1718.5 120.9 L1718.5 121.7 L1718.5 122.5 L1718.5 123.3 L1718.4 124.1 L1718.4 124.9 L1718.4 125.7 L1718.4 126.5 L1718.4 127.4 L1718.4 128.2 L1718.4 129.0 L1718.4 129.8 L1718.3 130.6 L1718.3 131.4 L1718.3 132.2 L1718.3 133.1 L1718.3 133.8 L1718.3 134.7 L1718.3 135.5 L1718.2 136.3 L1718.2 137.1 L1718.2 137.9 L1718.2 138.7 L1718.2 139.5 L1718.2 140.3 L1718.1 141.2 L1718.1 141.9 L1718.1 142.7 L1718.1 143.6 L1718.1 144.4 L1718.1 145.2 L1718.1 146.0 L1718.0 146.8 L1718.0 147.6 L1718.0 148.4 L1718.0 149.2 L1718.0 150.0 L1718.0 150.8 L1718.0 151.6 L1718.0 152.4 L1718.0 153.2 L1717.9 154.0 L1717.9 154.8 L1717.9 155.7 L1717.9 156.4 L1717.9 157.2 L1717.9 158.0 L1717.9 158.8 L1717.8 159.7 L1717.8 160.4 L1717.8 161.3 L1717.8 162.0 L1717.8 162.9 L1717.8 163.7 L1717.7 164.4 L1717.7 165.2 L1717.7 166.1 L1717.7 166.9 L1717.7 167.7 L1717.6 168.5 L1717.6 169.3 L1717.6 170.1 L1717.6 170.8 L1717.6 171.7 L1717.5 172.5 L1717.5 173.3 L1717.5 174.1 L1717.5 174.9 L1717.5 175.7 L1717.4 176.5 L1717.4 177.3 L1717.4 178.1 L1717.4 178.9 L1717.3 179.6 L1717.3 180.5 L1717.3 181.3 L1717.3 182.1 L1717.2 182.9 L1717.2 183.7 L1717.2 184.5 L1717.2 185.4 L1717.2 186.1 L1717.1 187.0 L1717.1 187.8 L1717.1 188.5 L1717.1 189.3 L1717.0 190.1 L1717.0 190.9 L1717.0 191.8 L1717.0 192.6 L1716.9 193.4 L1716.9 194.1 L1716.9 194.9 L1716.9 195.7 L1716.8 196.6 L1716.8 197.3 L1716.8 198.2 L1716.8 198.9 L1716.7 199.8 L1716.7 200.5 L1716.7 201.3 L1716.7 202.2 L1716.6 203.0 L1716.6 203.8 L1716.6 204.5 L1716.5 205.3 L1716.5 206.2 L1716.5 207.1 L1716.5 207.7 L1716.5 208.6 L1716.4 209.4 L1716.4 210.2 L1716.4 211.0 L1716.3 211.7 L1716.3 212.6 L1716.3 213.4 L1716.3 214.2 L1716.2 215.0 L1716.2 215.8 L1716.2 216.6 L1716.2 217.4 L1716.1 218.2 L1716.1 218.9 L1716.1 219.8 L1716.1 220.6 L1716.0 221.4 L1716.0 222.2 L1716.0 223.0 L1716.0 223.8 L1715.9 224.6 L1715.9 225.5 L1715.9 226.3 L1715.8 227.0 L1715.8 227.8 L1715.8 228.6 L1715.8 229.4 L1715.7 230.3 L1715.7 230.9 L1715.7 231.9 L1715.6 232.6 L1715.6 233.4 L1715.6 234.2 L1715.6 235.0 L1715.5 235.8 L1715.5 236.5 L1715.5 237.4 L1715.4 238.2 L1715.4 239.1 L1715.4 239.8 L1715.4 240.5 L1715.3 241.4 L1715.3 242.2 L1715.3 243.0 L1715.2 243.7 L1715.2 244.6 L1715.2 245.4 L1715.2 246.2 L1715.1 246.9 L1715.1 247.8 L1715.1 248.6 L1715.0 249.4 L1715.0 250.2 L1715.0 251.0 L1715.0 251.8 L1714.9 252.6 L1714.9 253.5 L1714.9 254.2 L1714.8 255.0 L1714.8 255.8 L1714.8 256.6 L1714.8 257.4 L1714.7 258.2 L1714.7 259.0 L1714.7 259.8 L1714.6 260.7 L1714.6 261.5 L1714.6 262.3 L1714.6 263.1 L1714.5 263.8 L1714.5 264.5 L1714.5 265.3 L1714.4 266.1 L1714.4 267.0 L1714.4 267.8 L1714.4 268.6 L1714.3 269.3 L1714.3 270.2 L1714.3 271.0 L1714.2 271.8 L1714.2 272.5 L1714.2 273.4 L1714.2 274.3 L1714.1 275.0 L1714.1 275.8 L1714.1 276.7 L1714.1 277.4 L1714.0 278.1 L1714.0 278.9 L1714.0 279.8 L1713.9 280.6 L1713.9 281.4 L1713.9 282.2 L1713.9 283.0 L1713.8 283.9 L1713.8 284.6 L1713.8 285.4 L1713.8 286.1 L1713.7 287.0 L1713.7 287.8 L1713.7 288.6 L1713.7 289.5 L1713.6 290.2 L1713.6 291.0 L1713.6 291.7 L1713.6 292.6 L1713.5 293.4 L1713.5 294.1 L1713.5 295.1 L1713.5 295.8 L1713.5 296.6 L1713.4 297.4 L1713.4 298.2 L1713.4 299.0 L1713.4 299.7 L1713.3 300.6 L1713.3 301.5 L1713.3 302.3 L1713.3 303.0 L1713.2 303.8 L1713.2 304.6 L1713.2 305.4 L1713.2 306.2 L1713.1 307.1 L1713.1 307.8 L1713.1 308.6 L1713.1 309.4 L1713.0 310.2 L1713.0 311.0 L1713.0 311.8 L1713.0 312.6 L1712.9 313.4 L1712.9 314.2 L1712.9 315.0 L1712.9 315.8 L1712.8 316.6 L1712.8 317.4 L1712.8 318.1 L1712.8 318.9 L1712.7 319.8 L1712.7 320.6 L1712.7 321.5 L1712.6 322.2 L1712.6 323.1 L1712.6 323.7 L1712.6 324.5 L1712.5 325.3 L1712.5 326.2 L1712.5 327.1 L1712.4 327.8 L1712.4 328.5 L1712.4 329.3 L1712.3 330.2 L1712.3 331.0 L1712.3 331.8 L1712.2 332.6 L1712.2 333.5 L1712.2 334.1 L1712.1 335.0 L1712.1 335.8 L1712.0 336.7 L1712.0 337.5 L1712.0 338.2 L1711.9 339.0 L1711.9 339.8 L1711.8 340.7 L1711.8 341.5 L1711.8 342.2 L1711.7 343.0 L1711.7 343.8 L1711.6 344.9 L1711.6 345.6 L1711.5 346.2 L1711.5 346.9 L1711.4 348.0 L1711.4 348.6 L1711.3 349.6 L1711.3 350.2 L1711.2 351.2 L1711.2 352.0 L1711.1 352.6 L1711.1 353.5 L1711.0 354.2 L1711.0 355.2 L1710.9 355.8 L1710.9 356.7 L1710.8 357.6 L1710.8 358.2 L1710.7 359.3 L1710.7 359.9 L1710.6 360.8 L1710.6 361.4 L1710.5 362.5 L1710.5 363.2 L1710.4 364.0 L1710.4 364.8 L1710.3 365.5 L1710.2 366.3 L1710.2 367.2 L1710.1 368.0 L1710.1 368.8 L1710.0 369.6 L1710.0 370.3 L1709.9 371.2 L1709.8 371.9 L1709.8 372.7 L1709.7 373.6 L1709.7 374.4 L1709.6 375.1 L1709.5 376.0 L1709.5 376.9 L1709.4 377.4 L1709.3 378.4 L1709.3 379.2 L1709.2 380.0 L1709.1 380.6 L1709.1 381.5 L1709.0 382.2 L1709.0 383.1 L1708.9 383.9 L1708.8 384.7 L1708.7 385.6 L1708.7 386.5 L1708.6 387.2 L1708.5 388.0 L1708.5 388.9 L1708.4 389.6 L1708.3 390.1 L1708.3 391.2 L1708.2 392.0 L1708.1 392.7 L1708.1 393.7 L1708.0 394.3 L1707.9 395.2 L1707.9 396.0 L1707.8 396.8 L1707.7 397.8 L1707.6 398.6 L1707.6 399.3 L1707.5 400.3 L1707.4 401.0 L1707.3 401.6 L1707.2 402.6 L1707.2 403.6 L1707.1 404.2 L1707.0 404.9 L1706.9 406.1 L1706.8 406.9 L1706.8 407.4 L1706.7 408.4 L1706.6 409.1 L1706.5 410.2 L1706.4 410.8 L1706.3 411.5 L1706.2 412.4 L1706.2 413.5 L1706.1 414.0 L1706.0 414.9 L1705.9 415.5 L1705.8 416.3 L1705.7 417.2 L1705.6 418.2 L1705.6 418.9 L1705.5 419.5 L1705.4 420.2 L1705.3 421.3 L1705.2 422.0 L1705.1 423.2 L1705.0 423.7 L1704.9 424.9 L1704.9 425.4 L1704.8 426.3 L1704.7 426.8 L1704.6 427.8 L1704.5 428.4 L1704.4 429.3 L1704.3 430.1 L1704.2 431.3 L1704.1 432.0 L1704.0 432.6 L1703.9 433.6 L1703.8 434.1 L1703.7 435.1 L1703.6 435.9 L1703.5 436.6 L1703.4 437.6 L1703.3 438.2 L1703.2 439.0 L1703.1 439.9 L1703.0 440.6 L1702.9 441.4 L1702.8 442.3 L1702.7 443.3 L1702.6 444.1 L1702.5 444.8 L1702.4 445.9 L1702.4 446.5 L1702.3 447.2 L1702.2 447.9 L1702.1 448.6 L1702.0 449.7 L1701.8 450.7 L1701.7 451.3 L1701.6 452.2 L1701.5 453.2 L1701.4 453.7 L1701.3 454.6 L1701.2 455.5 L1701.1 456.1 L1701.0 456.9 L1700.9 457.8 L1700.7 458.6 L1700.6 459.6 L1700.5 460.0 L1700.4 461.2 L1700.2 461.9 L1700.1 463.1 L1700.0 463.8 L1699.8 464.2 L1699.7 465.2 L1699.6 465.7 L1699.4 466.5 L1699.3 467.7 L1699.1 467.8 L1699.0 469.1 L1698.8 470.2 L1698.7 470.4 L1698.5 471.1 L1698.4 472.4 L1698.2 472.8 L1698.0 474.1 L1697.9 474.5 L1697.7 475.6 L1697.5 476.5 L1697.4 477.2 L1697.2 477.9 L1697.0 478.6 L1696.8 479.6 L1696.7 479.8 L1696.5 480.9 L1696.3 482.0 L1696.1 482.7 L1695.9 483.1 L1695.7 484.1 L1695.5 485.0 L1695.3 485.2 L1695.1 486.4 L1694.9 487.8 L1694.7 487.7 L1694.5 488.7 L1694.3 489.4 L1694.1 490.7 L1693.9 490.7 L1693.7 491.8 L1693.5 492.6 L1693.3 493.5 L1693.1 494.6 L1692.9 495.2 L1692.6 495.3 L1692.4 496.6 L1692.2 497.2 L1692.0 497.9 L1691.7 498.5 L1691.5 499.9 L1691.3 500.4 L1691.1 501.1 L1690.8 501.8 L1690.6 502.5 L1690.3 503.9 L1690.1 504.4 L1689.9 504.9 L1689.6 506.1 L1689.4 505.8 L1689.1 507.4 L1688.9 508.3 L1688.6 508.2 L1688.4 509.9 L1688.1 509.6 L1687.9 511.0 L1687.6 512.2 L1687.3 513.3 L1687.1 513.3 L1686.8 513.7 L1686.6 515.1 L1686.3 514.7 L1686.0 516.7 L1685.8 517.6 L1685.5 517.9 L1685.2 518.0 L1685.0 519.5 L1684.7 519.8 L1684.4 521.3 L1684.1 521.4 L1683.9 522.5 L1683.6 523.1 L1683.3 524.2 L1683.0 525.0 L1682.8 525.3 L1682.5 526.4 L1682.2 528.1 L1681.9 528.4 L1681.6 529.4 L1681.3 529.6 L1681.0 530.6 L1680.7 530.9 L1680.4 531.6 L1680.2 532.2 L1679.9 533.7 L1679.6 533.6 L1679.2 534.9 L1678.9 535.9 L1678.6 537.0 L1678.3 536.5 L1678.0 537.7 L1677.7 538.3 L1677.4 539.6 L1677.0 540.3 L1676.7 540.6 L1676.4 541.3 L1676.1 541.6 L1675.7 542.6 L1675.4 544.0 L1675.0 544.3 L1674.7 545.0 L1674.4 546.2 L1674.0 547.8 L1673.7 547.6 L1673.3 549.1 L1672.9 549.0 L1672.6 549.3 L1672.2 550.8 L1671.8 551.2 L1671.5 551.7 L1671.1 553.3 L1670.7 553.8 L1670.3 553.3 L1669.9 554.7 L1669.6 555.0 L1669.2 557.0 L1668.8 556.0 L1668.4 558.0 L1668.0 558.3 L1667.6 557.8 L1667.2 559.5 L1666.8 560.7 L1666.4 560.8 L1666.0 562.2 L1665.6 563.6 L1665.1 562.0 L1664.7 564.9 L1664.3 563.3 L1663.9 565.2 L1663.5 565.6 L1663.0 565.8 L1662.6 567.4 L1662.2 568.2 L1661.8 568.0 L1661.4 569.3 L1660.9 570.2 L1660.5 571.2 L1660.1 571.4 L1659.6 571.9 L1659.2 572.4 L1658.8 572.5 L1658.3 573.4 L1657.9 573.3 L1657.5 574.8 L1657.0 576.4 L1656.6 578.3 L1656.1 576.9 L1655.7 577.4 L1655.2 578.2 L1654.8 579.5 L1654.3 580.3 L1653.8 579.9 L1653.4 580.2 L1652.9 582.4 L1652.4 580.7 L1651.9 582.2 L1651.4 583.5 L1650.9 583.7 L1650.4 583.7 L1649.9 587.0 L1649.4 586.1 L1648.9 587.3 L1648.4 587.4 L1647.9 587.3 L1647.3 588.4 L1646.8 589.5 L1646.3 589.7 L1645.7 590.9 L1645.2 590.1 L1644.6 592.6 L1644.1 593.0 L1643.5 591.8 L1642.9 593.8 L1642.4 594.5 L1641.8 594.3 L1641.2 593.9 L1640.6 594.1 L1640.0 597.6 L1639.4 595.9 L1638.8 597.4 L1638.2 597.1 L1637.6 599.4 L1637.0 598.9 L1636.4 599.9 L1635.8 601.9 L1635.2 601.0 L1634.6 599.8 L1634.0 601.8 L1633.4 602.6 L1632.8 602.6 L1632.1 602.4 L1631.5 602.7 L1630.9 605.6 L1630.3 604.5 L1629.6 604.3 L1629.0 605.8 L1628.3 605.9 L1627.6 607.4 L1627.0 608.8 L1626.3 607.4 L1625.6 606.9 L1625.0 607.9 L1624.3 609.5 L1623.6 609.0 L1622.9 607.6 L1622.2 610.4 L1621.5 610.7 L1620.8 611.3 L1620.2 612.3 L1619.5 609.8 L1618.7 613.6 L1618.0 612.7 L1617.3 616.1 L1616.6 614.2 L1615.9 613.5 L1615.2 614.3 L1614.5 615.7 L1613.7 616.0 L1613.0 618.0 L1612.3 615.8 L1611.5 617.2 L1610.8 616.1 L1610.1 616.5 L1609.3 619.5 L1608.5 616.8 L1607.8 618.3 L1607.0 621.5 L1606.3 619.7 L1605.5 618.6 L1604.7 620.0 L1603.9 617.9 L1603.2 622.0 L1602.4 619.6 L1601.6 618.5 L1600.8 619.5 L1600.1 622.9 L1599.3 621.6 L1598.5 624.2 L1597.7 624.3 L1596.9 622.0 L1596.2 619.9 L1595.4 621.8 L1594.6 624.9 L1593.8 624.4 L1593.1 623.7 L1592.3 626.2 L1591.5 624.9 L1590.8 623.5 L1590.0 626.2 L1589.3 624.9 L1588.5 627.2 L1587.8 625.3 L1587.0 626.9 L1586.2 625.9 L1585.5 627.6 L1584.7 626.9 L1584.0 627.8 L1583.2 629.5 L1582.5 626.5 L1581.7 627.5 L1581.0 631.0 L1580.2 629.8 L1579.4 630.7 L1578.7 628.6 L1577.9 628.3 L1577.2 631.7 L1576.4 630.5 L1575.7 630.2 L1574.9 630.1 L1574.1 630.2 L1573.4 632.1 L1572.6 631.5 L1571.9 631.8 L1571.1 630.9 L1570.3 633.5 L1569.6 633.3 L1568.8 632.9 L1568.1 634.5 L1567.3 633.2 L1566.5 635.2 L1565.8 634.6 L1565.0 633.6 L1564.3 636.2 L1563.5 634.6 L1562.8 634.8 L1562.0 636.0 L1561.3 635.5 L1560.5 638.3 L1559.8 638.8 L1559.0 638.7 L1558.3 635.6 L1557.5 637.2 L1556.7 636.8 L1556.0 637.8 L1555.2 638.9 L1554.5 641.8 L1553.7 641.5 L1553.0 639.2 L1552.2 638.3 L1551.4 640.6 L1550.7 640.5 L1549.9 641.1 L1549.1 640.4 L1548.4 640.0 L1547.6 643.4 L1546.8 642.2 L1546.1 640.3 L1545.3 641.6 L1544.5 642.1 L1543.8 643.3 L1543.0 644.7 L1542.2 641.5 L1541.4 644.3 L1540.6 640.6 L1539.8 642.6 L1539.1 645.0 L1538.3 642.3 L1537.5 642.9 L1536.7 644.5 L1535.9 646.4 L1535.1 646.0 L1534.3 644.3 L1533.5 643.3 L1532.7 646.1 L1531.9 645.3 L1531.1 645.8 L1530.3 644.4 L1529.5 646.0 L1528.7 643.3 L1527.9 645.7 L1527.1 649.0 L1526.3 648.5 L1525.5 648.2 L1524.7 646.6 L1523.9 645.5 L1523.1 647.3 L1522.3 647.1 L1521.5 648.7 L1520.7 646.0 L1519.9 645.9 L1519.1 646.5 L1518.3 648.9 L1517.5 650.5 L1516.7 648.1 L1515.9 649.8 L1515.1 648.0 L1514.3 648.8 L1513.5 646.7 L1512.7 650.3 L1511.9 649.3 L1511.1 649.8 L1510.3 651.2 L1509.5 648.6 L1508.7 650.7 L1507.9 649.9 L1507.1 651.4 L1506.3 650.0 L1505.5 650.9 L1504.7 649.1 L1503.9 652.2 L1503.1 652.1 L1502.3 651.1 L1501.5 652.2 L1500.7 651.2 L1499.9 650.8 L1499.1 653.7 L1498.3 650.8 L1497.5 651.2 L1496.7 653.2 L1495.9 651.1 L1495.1 652.0 L1494.3 650.9 L1493.5 651.4 L1492.7 651.9 L1491.9 651.7 L1491.1 652.6 L1490.3 654.2 L1489.5 652.1 L1488.7 653.0 L1487.9 652.2 L1487.1 653.7 L1486.3 653.4 L1485.5 653.4 L1484.7 654.7 L1483.9 654.4 L1483.1 654.5 L1482.3 654.9 L1481.5 653.6 L1480.7 655.4 L1479.9 652.2 L1479.1 656.6 L1478.3 655.9 L1477.5 656.5 L1476.7 652.8 L1475.9 655.4 L1475.1 656.6 L1474.3 654.6 L1473.5 655.7 L1472.7 655.3 L1471.9 657.0 L1471.1 657.3 L1470.3 657.0 L1469.5 656.6 L1468.7 655.7 L1467.9 656.8 L1467.1 657.2 L1466.3 658.8 L1465.5 656.7 L1464.7 657.2 L1463.9 655.4 L1463.1 659.2 L1462.3 657.0 L1461.5 657.8 L1460.7 657.5 L1459.9 657.0 L1459.1 656.7 L1458.3 655.4 L1457.5 655.3 L1456.7 657.5 L1455.9 655.8 L1455.2 658.9 L1454.4 660.3 L1453.6 658.2 L1452.8 656.7 L1452.0 660.6 L1451.2 656.8 L1450.4 657.2 L1449.6 660.0 L1448.8 660.9 L1448.0 658.1 L1447.2 659.1 L1446.4 658.3 L1445.6 657.0 L1444.8 659.0 L1444.0 656.7 L1443.2 657.1 L1442.4 659.0 L1441.6 661.3 L1440.8 658.9 L1440.0 658.3 L1439.2 661.3 L1438.4 657.9 L1437.6 657.2 L1436.8 660.5 L1436.0 660.2 L1435.2 659.8 L1434.4 657.6 L1433.6 661.1 L1432.8 661.4 L1432.0 659.3 L1431.2 660.1 L1430.4 663.3 L1429.6 661.6 L1428.8 659.1 L1428.0 660.8 L1427.2 660.1 L1426.4 658.2 L1425.6 661.0 L1424.8 659.0 L1424.0 660.6 L1423.2 663.6 L1422.4 659.5 L1421.6 661.4 L1420.8 662.6 L1420.0 661.1 L1419.2 660.6 L1418.4 663.2 L1417.6 664.0 L1416.8 660.1 L1416.0 661.4 L1415.2 662.4 L1414.4 660.9 L1413.6 663.7 L1412.8 662.6 L1412.0 661.5 L1411.2 664.3 L1410.4 663.0 L1409.6 664.1 L1408.8 663.2 L1408.0 664.3 L1407.2 661.1 L1406.4 663.5 L1405.6 664.4 L1404.8 664.1 L1404.0 667.0 L1403.2 667.0 L1402.4 665.7 L1401.6 662.7 L1400.8 662.8 L1400.0 666.4 L1399.2 663.5 L1398.4 666.8 L1397.6 663.8 L1396.8 664.4 L1396.0 663.5 L1395.2 665.7 L1394.5 666.2 L1393.7 665.2 L1392.9 666.7 L1392.1 664.5 L1391.3 664.7 L1390.5 668.2 L1389.7 664.1 L1388.9 666.1 L1388.1 665.0 L1387.3 666.0 L1386.5 666.1 L1385.7 665.4 L1384.9 663.4 L1384.1 667.4 L1383.3 666.2 L1382.5 666.2 L1381.7 667.6 L1380.9 668.3 L1380.1 669.3 L1379.3 667.2 L1378.5 665.3 L1377.7 667.0 L1376.9 667.0 L1376.1 667.2 L1375.3 665.8 L1374.5 669.9 L1373.8 668.1 L1373.0 667.9 L1372.2 669.0 L1371.4 667.2 L1370.6 665.8 L1369.8 665.8 L1369.0 667.2 L1368.2 669.3 L1367.4 668.1 L1366.6 669.0 L1365.8 667.3 L1365.0 667.9 L1364.2 667.6 L1363.4 670.1 L1362.6 666.6 L1361.8 668.7 L1361.0 670.8 L1360.2 670.2 L1359.4 670.5 L1358.6 671.6 L1357.8 669.1 L1357.0 669.0 L1356.2 671.2 L1355.4 671.8 L1354.6 669.6 L1353.8 669.4 L1353.0 672.0 L1352.2 670.0 L1351.5 667.9 L1350.7 667.6 L1349.9 670.6 L1349.1 671.4 L1348.3 671.6 L1347.5 672.3 L1346.7 668.9 L1345.9 668.2 L1345.1 670.2 L1344.3 670.2 L1343.5 670.7 L1342.7 673.3 L1341.9 669.0 L1341.1 669.2 L1340.3 670.7 L1339.5 669.9 L1338.7 673.3 L1337.9 671.8 L1337.1 671.1 L1336.3 670.3 L1335.5 673.4 L1334.7 671.5 L1333.9 673.4 L1333.1 670.5 L1332.3 672.9 L1331.5 670.8 L1330.7 671.4 L1329.9 670.3 L1329.1 672.0 L1328.3 671.6 L1327.6 671.7 L1326.8 671.6 L1326.0 672.1 L1325.2 671.8 L1324.4 671.9 L1323.6 671.4 L1322.8 671.1 L1322.0 670.3 L1321.2 673.1 L1320.4 673.7 L1319.6 671.9 L1318.8 671.2 L1318.0 674.0 L1317.2 672.4 L1316.4 672.4 L1315.6 674.8 L1314.8 675.7 L1314.0 672.0 L1313.2 675.0 L1312.4 671.7 L1311.6 672.3 L1310.8 675.4 L1310.0 674.0 L1309.2 675.1 L1308.4 675.9 L1307.6 674.5 L1306.8 675.5 L1306.0 673.3 L1305.2 673.8 L1304.4 676.1 L1303.6 674.7 L1302.8 672.1 L1302.0 673.1 L1301.2 673.4 L1300.4 672.5 L1299.6 673.6 L1298.8 674.3 L1298.0 675.3 L1297.2 675.8 L1296.4 674.9 L1295.6 674.1 L1294.8 676.2 L1294.0 673.5 L1293.2 675.9 L1292.4 672.3 L1291.6 676.3 L1290.8 676.9 L1290.0 675.2 L1289.2 677.4 L1288.4 675.6 L1287.6 674.1 L1286.8 677.3 L1286.0 674.2 L1285.2 676.9 L1284.4 675.9 L1283.6 675.9 L1282.9 675.6 L1282.1 675.8 L1281.3 676.1 L1280.5 677.9 L1279.7 676.7 L1278.9 673.9 L1278.1 676.9 L1277.3 678.6 L1276.5 674.1 L1275.7 679.8 L1274.9 678.3 L1274.1 677.1 L1273.3 676.4 L1272.5 676.6 L1271.7 677.8 L1270.9 680.2 L1270.1 680.1 L1269.3 677.1 L1268.5 677.2 L1267.7 676.6 L1266.9 678.5 L1266.1 677.7 L1265.3 676.2 L1264.5 677.9 L1263.7 677.6 L1262.9 680.5 L1262.1 678.4 L1261.3 680.1 L1260.5 678.0 L1259.7 676.0 L1258.9 675.6 L1258.1 675.5 L1257.3 677.9 L1256.5 677.7 L1255.7 680.8 L1254.9 678.6 L1254.1 680.1 L1253.3 679.5 L1252.5 680.9 L1251.7 678.2 L1250.9 679.9 L1250.1 678.6 L1249.3 676.2 L1248.5 680.7 L1247.7 676.8 L1246.9 678.5 L1246.1 677.6 L1245.3 679.4 L1244.5 679.2 L1243.7 682.7 L1242.9 678.3 L1242.1 680.5 L1241.3 680.9 L1240.5 680.7 L1239.7 681.8 L1238.9 680.1 L1238.1 679.2 L1237.3 681.4 L1236.5 679.6 L1235.7 681.3 L1234.9 680.7 L1234.1 680.8 L1233.3 681.8 L1232.5 680.5 L1231.7 679.8 L1230.9 682.7 L1230.1 679.0 L1229.3 679.8 L1228.5 681.9 L1227.7 682.1 L1226.9 681.3 L1226.1 682.8 L1225.3 681.8 L1224.5 680.7 L1223.7 683.4 L1222.9 682.6 L1222.1 679.0 L1221.3 681.7 L1220.5 684.9 L1219.7 682.1 L1218.9 679.7 L1218.1 682.5 L1217.3 682.9 L1216.5 682.2 L1215.7 682.3 L1214.9 683.7 L1214.1 679.7 L1213.4 684.5 L1212.6 683.7 L1211.8 684.3 L1211.0 685.6 L1210.2 680.7 L1209.4 684.3 L1208.6 683.3 L1207.8 683.7 L1207.0 683.0 L1206.2 682.4 L1205.4 684.8 L1204.6 680.6 L1203.8 684.0 L1203.0 685.1 L1202.2 683.1 L1201.4 680.8 L1200.6 683.4 L1199.8 684.0 L1199.0 684.0 L1198.2 684.7 L1197.4 683.7 L1196.6 685.4 L1195.8 684.1 L1195.0 683.6 L1194.2 683.0 L1193.4 684.7 L1192.6 683.8 L1191.8 683.8 L1191.0 684.4 L1190.2 684.9 L1189.4 686.1 L1188.6 686.5 L1187.8 684.3 L1187.0 682.9 L1186.2 683.2 L1185.4 685.3 L1184.6 685.9 L1183.8 685.7 L1183.0 686.8 L1182.2 686.2 L1181.4 683.8 L1180.6 685.2 L1179.8 686.1 L1179.0 687.7 L1178.2 684.3 L1177.4 687.4 L1176.6 685.9 L1175.8 687.1 L1175.0 684.0 L1174.2 685.6 L1173.4 684.4 L1172.6 686.7 L1171.8 689.1 L1171.0 687.2 L1170.2 687.1 L1169.4 686.0 L1168.6 683.6 L1167.8 686.2 L1167.0 687.1 L1166.2 688.2 L1165.4 684.4 L1164.6 686.6 L1163.8 686.9 L1163.0 687.0 L1162.2 685.4 L1161.4 687.3 L1160.6 687.9 L1159.8 686.1 L1159.0 687.3 L1158.2 688.1 L1157.4 686.6 L1156.6 686.1 L1155.8 685.2 L1155.0 684.0 L1154.2 685.8 L1153.4 687.5 L1152.6 687.4 L1151.8 688.8 L1151.0 684.3 L1150.2 685.5 L1149.4 684.6 L1148.6 688.4 L1147.8 687.5 L1147.0 687.9 L1146.2 685.3 L1145.4 687.5 L1144.6 686.0 L1143.8 689.5 L1143.0 688.4 L1142.2 686.3 L1141.4 687.4 L1140.6 687.8 L1139.8 689.6 L1139.0 687.3 L1138.2 685.7 L1137.4 686.0 L1136.6 689.5 L1135.8 687.7 L1135.0 688.3 L1134.2 688.4 L1133.4 688.1 L1132.6 684.9 L1131.8 686.5 L1131.0 687.5 L1130.2 686.8 L1129.4 689.1 L1128.6 687.0 L1127.8 689.0 L1127.0 688.2 L1126.2 688.7 L1125.4 688.5 L1124.6 687.3 L1123.8 687.8 L1123.0 688.1 L1122.2 687.4 L1121.4 688.3 L1120.6 689.6 L1119.8 688.5 L1119.0 687.3 L1118.2 687.6 L1117.4 687.7 L1116.6 687.0 L1115.8 685.2 L1115.0 689.1 L1114.2 686.8 L1113.4 686.7 L1112.6 686.1 L1111.8 688.1 L1111.0 686.4 L1110.2 686.2 L1109.4 688.6 L1108.6 688.6 L1107.8 686.6 L1107.0 687.2 L1106.2 685.7 L1105.4 686.9 L1104.6 688.9 L1103.8 686.2 L1103.0 688.6 L1102.2 689.7 L1101.4 687.5 L1100.6 688.5 L1099.8 685.8 L1099.0 688.8 L1098.2 687.9 L1097.4 687.7 L1096.6 686.6 L1095.8 690.1 L1095.0 687.1 L1094.2 688.4 L1093.4 687.2 L1092.6 690.4 L1091.8 688.7 L1091.0 688.0 L1090.2 687.9 L1089.4 688.0 L1088.6 686.8 L1087.8 685.3 L1087.0 686.6 L1086.2 686.1 L1085.4 689.2 L1084.5 688.5 L1083.7 687.1 L1082.9 688.7 L1082.1 688.3 L1081.3 687.8 L1080.5 686.7 L1079.7 689.1 L1078.9 689.1 L1078.1 686.6 L1077.3 688.0 L1076.5 687.6 L1075.7 688.7 L1074.8 686.5 L1074.0 689.9 L1073.2 688.6 L1072.4 690.0 L1071.6 685.7 L1070.8 689.4 L1070.0 686.9 L1069.2 689.5 L1068.4 691.0 L1067.6 687.7 L1066.8 686.2 L1066.0 688.8 L1065.2 689.3 L1064.3 690.0 L1063.5 688.8 L1062.7 687.6 L1061.9 689.5 L1061.1 689.6 L1060.3 687.1 L1059.5 688.0 L1058.7 688.3 L1057.9 687.7 L1057.1 690.6 L1056.3 690.3 L1055.5 689.0 L1054.6 689.7 L1053.8 689.0 L1053.0 688.5 L1052.2 688.9 L1051.4 689.9 L1050.6 688.4 L1049.8 688.7 L1049.0 689.2 L1048.2 691.2 L1047.4 688.4 L1046.6 689.6 L1045.8 691.7 L1045.0 689.6 L1044.1 688.5 L1043.3 687.5 L1042.5 692.7 L1041.7 690.0 L1040.9 689.5 L1040.1 687.3 L1039.3 691.0 L1038.5 687.7 L1037.7 691.2 L1036.9 690.9 L1036.1 690.5 L1035.3 691.0 L1034.5 692.2 L1033.7 688.7 L1032.8 691.7 L1032.0 691.6 L1031.2 692.0 L1030.4 690.4 L1029.6 691.5 L1028.8 693.5 L1028.0 692.2 L1027.2 690.9 L1026.4 688.0 L1025.6 690.3 L1024.8 691.1 L1024.0 691.0 L1023.2 692.2 L1022.4 693.4 L1021.5 690.4 L1020.7 691.4 L1019.9 688.9 L1019.1 691.2 L1018.3 692.4 L1017.5 691.8 L1016.7 692.8 L1015.9 691.9 L1015.1 689.0 L1014.3 690.7 L1013.5 690.5 L1012.7 694.1 L1011.9 693.2 L1011.1 693.9 L1010.3 693.5 L1009.5 690.7 L1008.7 692.9 L1007.9 692.4 L1007.1 691.5 L1006.3 695.2 L1005.5 692.6 L1004.7 691.1 L1003.9 692.5 L1003.1 693.0 L1002.3 694.5 L1001.5 693.0 L1000.7 691.7 L999.9 693.4 L999.1 689.9 L998.3 692.1 L997.5 692.7 L996.7 692.4 L995.9 694.7 L995.1 691.9 L994.3 692.9 L993.5 695.9 L992.7 693.3 L991.9 696.4 L991.1 694.2 L990.3 691.5 L989.5 694.2 L988.7 692.5 L987.9 693.5 L987.1 696.7 L986.3 695.5 L985.5 693.8 L984.7 693.8 L983.9 694.5 L983.1 695.7 L982.3 695.3 L981.5 694.5 L980.7 693.3 L979.9 695.5 L979.1 696.2 L978.3 695.0 L977.5 695.2 L976.7 694.1 L975.9 696.9 L975.1 694.5 L974.3 695.0 L973.5 695.1 L972.7 695.1 L971.9 695.7 L971.1 695.1 L970.3 695.2 L969.5 696.3 L968.7 696.2 L967.9 694.1 L967.1 695.9 L966.3 695.9 L965.5 696.8 L964.7 697.8 L963.9 693.8 L963.1 695.7 L962.3 696.0 L961.5 693.6 L960.7 695.0 L959.9 697.3 L959.2 695.9 L958.4 697.3 L957.6 698.3 L956.8 698.1 L956.0 696.4 L955.2 697.3 L954.4 694.4 L953.6 698.0 L952.8 697.1 L952.0 698.4 L951.2 698.7 L950.4 698.2 L949.6 698.4 L948.8 698.9 L948.0 698.6 L947.2 698.0 L946.4 695.3 L945.6 696.9 L944.8 699.0 L944.0 700.1 L943.2 698.1 L942.4 699.4 L941.6 699.4 L940.8 698.2 L940.0 697.4 L939.2 698.5 L938.4 697.9 L937.6 697.5 L936.8 698.9 L936.0 701.1 L935.2 700.1 L934.4 699.3 L933.6 697.9 L932.8 699.6 L932.0 697.3 L931.2 700.9 L930.4 701.8 L929.6 697.4 L928.8 700.1 L928.0 699.5 L927.3 700.7 L926.5 700.0 L925.7 701.9 L924.9 701.3 L924.1 704.1 L923.3 699.7 L922.5 701.7 L921.7 702.4 L920.9 700.4 L920.1 702.5 L919.3 701.1 L918.5 699.9 L917.7 703.0 L916.9 699.8 L916.1 702.2 L915.3 705.0 L914.5 701.1 L913.7 699.8 L912.9 702.2 L912.2 703.4 L911.4 705.7 L910.6 702.5 L909.8 704.0 L909.0 704.7 L908.2 705.7 L907.4 705.6 L906.6 703.7 L905.8 705.1 L905.0 704.7 L904.2 705.6 L903.4 705.0 L902.6 704.1 L901.8 703.8 L901.0 701.8 L900.2 703.9 L899.4 705.1 L898.6 705.8 L897.8 702.1 L897.0 707.0 L896.3 707.7 L895.5 705.8 L894.7 704.7 L893.9 705.3 L893.1 707.2 L892.3 706.9 L891.5 707.7 L890.7 707.1 L889.9 706.7 L889.1 705.6 L888.3 708.3 L887.5 705.2 L886.7 704.1 L885.9 707.3 L885.1 708.5 L884.3 707.6 L883.5 706.5 L882.7 708.2 L881.9 707.8 L881.1 708.1 L880.3 707.6 L879.5 708.5 L878.8 709.8 L878.0 710.0 L877.2 708.1 L876.4 708.7 L875.6 709.5 L874.8 708.6 L874.0 708.4 L873.2 707.6 L872.4 709.1 L871.6 709.7 L870.8 711.8 L870.0 709.3 L869.2 707.9 L868.4 711.9 L867.6 709.5 L866.8 709.1 L866.0 708.0 L865.2 709.3 L864.4 712.7 L863.6 708.3 L862.8 712.3 L862.0 709.8 L861.1 709.6 L860.3 709.3 L859.5 711.0 L858.7 708.6 L857.9 708.4 L857.1 710.6 L856.3 712.1 L855.5 708.8 L854.7 710.4 L853.9 710.3 L853.1 712.7 L852.3 710.3 L851.5 710.2 L850.7 711.0 L849.9 711.8 L849.1 708.7 L848.3 713.5 L847.5 714.4 L846.6 710.1 L845.8 711.6 L845.0 713.3 L844.2 712.8 L843.4 714.1 L842.6 714.6 L841.8 710.2 L841.0 714.7 L840.2 713.3 L839.4 713.8 L838.6 712.8 L837.8 713.5 L837.0 715.3 L836.2 714.6 L835.4 716.2 L834.6 715.5 L833.8 715.4 L833.0 716.1 L832.2 713.2 L831.4 713.0 L830.6 714.2 L829.8 714.4 L829.0 716.2 L828.2 713.3 L827.4 716.4 L826.6 714.8 L825.8 717.3 L825.0 713.7 L824.2 714.2 L823.4 716.8 L822.6 718.7 L821.8 713.8 L821.0 718.2 L820.2 715.9 L819.4 716.4 L818.6 714.7 L817.8 714.9 L817.0 717.5 L816.2 718.9 L815.4 718.1 L814.6 717.7 L813.8 717.6 L813.0 720.1 L812.2 720.7 L811.4 716.7 L810.6 720.8 L809.8 719.3 L809.0 715.8 L808.2 718.3 L807.4 718.9 L806.6 718.6 L805.8 720.2 L805.0 719.7 L804.2 719.6 L803.4 719.5 L802.6 718.3 L801.8 719.9 L801.0 721.4 L800.2 718.8 L799.4 722.1 L798.6 721.5 L797.8 720.0 L797.0 721.0 L796.2 719.2 L795.4 721.2 L794.6 719.8 L793.8 721.2 L793.0 718.9 L792.3 722.1 L791.5 722.2 L790.7 722.4 L789.9 720.1 L789.1 724.0 L788.3 721.5 L787.5 721.6 L786.7 722.8 L786.0 722.3 L785.2 724.7 L784.4 726.3 L783.6 722.8 L782.8 726.1 L782.0 723.9 L781.2 723.7 L780.5 725.5 L779.7 723.5 L778.9 724.9 L778.1 726.4 L777.3 724.1 L776.6 725.1 L775.8 728.7 L775.0 726.7 L774.2 728.1 L773.5 729.0 L772.7 726.2 L771.9 729.9 L771.2 726.7 L770.4 729.6 L769.6 725.4 L768.9 728.9 L768.1 728.2 L767.3 729.3 L766.5 728.8 L765.8 729.0 L765.0 731.0 L764.2 730.3 L763.5 731.2 L762.7 732.2 L762.0 731.6 L761.2 729.1 L760.4 729.7 L759.7 732.6 L758.9 732.6 L758.2 732.0 L757.4 733.4 L756.6 732.1 L755.9 734.5 L755.1 732.1 L754.4 731.6 L753.6 736.0 L752.9 737.1 L752.1 734.4 L751.4 732.1 L750.6 734.4 L749.9 737.2 L749.1 735.0 L748.4 735.4 L747.6 737.2 L746.9 737.9 L746.1 735.8 L745.4 739.1 L744.7 739.0 L743.9 737.9 L743.2 739.3 L742.5 740.2 L741.7 738.2 L741.0 739.3 L740.3 740.3 L739.5 741.9 L738.8 739.9 L738.1 739.8 L737.3 741.3 L736.6 741.4 L735.9 743.7 L735.1 741.9 L734.4 744.0 L733.7 741.8 L733.0 742.7 L732.2 743.3 L731.5 742.2 L730.8 746.1 L730.1 743.2 L729.3 745.7 L728.6 746.2 L727.9 743.2 L727.2 745.5 L726.5 744.5 L725.8 745.9 L725.1 747.9 L724.4 747.0 L723.7 748.1 L723.0 747.1 L722.3 748.9 L721.7 747.8 L721.0 750.9 L720.3 751.4 L719.6 750.7 L718.9 751.1 L718.3 751.3 L717.6 752.8 L717.0 750.4 L716.3 752.8 L715.7 753.6 L715.0 756.1 L714.4 754.8 L713.8 754.2 L713.2 754.7 L712.5 756.8 L711.9 754.2 L711.3 755.4 L710.7 756.2 L710.1 759.4 L709.5 760.8 L708.9 760.4 L708.3 759.8 L707.7 758.6 L707.1 758.6 L706.4 761.3 L705.8 762.8 L705.2 761.7 L704.6 762.2 L704.0 765.5 L703.4 762.1 L702.8 764.9 L702.2 765.8 L701.6 764.2 L701.0 766.4 L700.4 768.5 L699.7 767.0 L699.1 767.3 L698.5 768.4 L697.9 767.8 L697.3 767.9 L696.7 768.4 L696.1 772.3 L695.5 769.1 L694.9 772.7 L694.3 771.7 L693.7 773.0 L693.1 775.2 L692.5 774.5 L691.9 774.3 L691.3 774.9 L690.7 775.3 L690.1 777.4 L689.5 775.6 L688.9 776.8 L688.3 778.6 L687.7 777.5 L687.1 781.0 L686.5 779.7 L685.9 780.3 L685.3 780.7 L684.7 780.5 L684.1 783.0 L683.4 780.5 L682.8 784.1 L682.2 784.1 L681.6 785.7 L680.9 785.8 L680.3 785.8 L679.7 784.4 L679.1 787.9 L678.4 786.8 L677.8 787.8 L677.2 788.0 L676.5 789.6 L675.9 787.8 L675.3 789.2 L674.7 788.3 L674.0 790.7 L673.4 789.5 L672.8 792.5 L672.2 790.6 L671.6 793.6 L671.0 794.4 L670.4 793.9 L669.8 794.5 L669.2 793.3 L668.6 794.9 L668.1 797.4 L667.5 795.7 L666.9 796.6 L666.4 799.4 L665.8 798.0 L665.3 799.1 L664.8 798.9 L664.2 799.9 L663.7 800.1 L663.2 801.5 L662.7 801.3 L662.1 804.0 L661.6 803.0 L661.1 805.8 L660.6 804.0 L660.1 805.2 L659.6 806.1 L659.1 807.3 L658.6 808.7 L658.1 806.8 L657.6 808.8 L657.1 809.2 L656.6 809.5 L656.1 809.7 L655.6 812.6 L655.1 812.3 L654.6 812.9 L654.1 813.8 L653.5 814.6 L653.0 813.8 L652.5 815.4 L652.0 815.2 L651.5 815.2 L650.9 817.4 L650.4 817.6 L649.9 819.0 L649.4 819.7 L648.9 820.4 L648.4 820.5 L647.8 820.4 L647.3 820.9 L646.8 822.4 L646.3 822.7 L645.7 823.5 L645.2 822.3 L644.7 823.7 L644.2 826.1 L643.7 824.8 L643.1 827.7 L642.6 827.3 L642.1 827.5 L641.5 830.2 L641.0 830.3 L640.5 829.1 L639.9 829.9 L639.4 831.8 L638.9 831.4 L638.3 832.3 L637.8 831.1 L637.2 833.8 L636.7 833.3 L636.2 833.2 L635.6 833.1 L635.1 834.1 L634.5 835.9 L634.0 839.0 L633.4 837.5 L632.9 837.4 L632.3 836.9 L631.8 839.3 L631.2 840.2 L630.7 839.8 L630.1 839.9 L629.5 841.3 L629.0 840.4 L628.4 842.5 L627.9 843.8 L627.3 844.8 L626.7 843.7 L626.2 846.2 L625.6 847.9 L625.0 845.7 L624.5 846.8 L623.9 848.5 L623.3 846.8 L622.8 848.9 L622.2 849.8 L621.6 850.7 L621.0 849.6 L620.4 850.1 L619.9 851.8 L619.3 851.6 L618.7 851.7 L618.1 853.7 L617.5 852.6 L617.0 854.6 L616.4 853.2 L615.8 855.6 L615.2 856.5 L614.6 856.1 L614.0 857.1 L613.5 859.4 L612.9 859.6 L612.3 857.5 L611.7 860.2 L611.1 859.8 L610.5 861.2 L609.9 861.6 L609.3 861.6 L608.8 861.6 L608.2 863.8 L607.6 864.7 L607.0 863.1 L606.4 865.2 L605.7 865.6 L605.1 867.3 L604.5 866.6 L603.9 867.3 L603.3 868.2 L602.7 868.8 L602.1 868.3 L601.4 869.0 L600.8 869.2 L600.2 870.7 L599.5 869.4 L598.9 869.9 L598.2 872.0 L597.6 872.0 L597.0 874.4 L596.3 872.1 L595.6 870.5 L595.0 871.5 L594.3 874.9 L593.6 874.8 L593.0 874.8 L592.3 875.3 L591.6 877.2 L590.9 875.2 L590.3 874.5 L589.6 875.4 L588.9 876.4 L588.2 877.9 L587.5 879.3 L586.8 878.9 L586.1 880.7 L585.4 881.2 L584.7 880.3 L584.0 880.6 L583.3 880.8 L582.6 881.0 L581.9 882.3 L581.2 880.4 L580.5 879.6 L579.8 883.6 L579.1 882.5 L578.4 882.9 L577.6 883.2 L576.9 884.6 L576.2 883.1 L575.5 883.7 L574.8 885.3 L574.1 883.2 L573.4 885.9 L572.7 886.8 L572.0 887.2 L571.3 886.9 L570.6 887.6 L569.9 887.9 L569.2 889.1 L568.5 887.8 L567.8 888.8 L567.1 887.6 L566.4 890.4 L565.7 890.3 L565.0 889.4 L564.3 892.3 L563.6 892.5 L562.8 891.1 L562.1 892.4 L561.4 893.4 L560.7 891.6 L560.0 894.7 L559.3 891.6 L558.6 893.0 L557.9 896.2 L557.2 894.4 L556.5 895.4 L555.7 894.0 L555.0 895.7 L554.3 895.0 L553.6 897.0 L552.9 897.7 L552.2 897.1 L551.5 898.1 L550.7 895.8 L550.0 899.6 L549.3 899.4 L548.6 897.0 L547.9 898.9 L547.2 900.4 L546.4 901.7 L545.7 900.7 L545.0 902.0 L544.2 903.1 L543.5 901.3 L542.7 900.2 L542.0 900.9 L541.2 899.5 L540.4 902.6 L539.6 902.9 L538.9 901.4 L538.1 903.6 L537.3 904.4 L536.5 903.8 L535.8 903.4 L535.0 906.2 L534.2 903.7 L533.4 906.5 L532.7 907.2 L531.9 904.6 L531.1 907.7 L530.4 907.1 L529.6 908.0 L528.9 909.2 L528.1 906.9 L527.4 905.3 L526.7 908.4 L526.0 909.0 L525.2 911.2 L524.5 908.6 L523.8 911.2 L523.1 908.1 L522.4 911.2 L521.6 912.7 L520.9 911.7 L520.2 913.5 L519.5 912.3 L518.8 911.5 L518.1 914.6 L517.3 912.0 L516.6 912.1 L515.9 913.8 L515.2 914.5 L514.5 914.5 L513.8 914.6 L513.0 915.7 L512.3 916.1 L511.6 915.0 L510.9 914.5 L510.2 916.1 L509.4 917.5 L508.7 917.1 L508.0 918.6 L507.3 918.4 L506.6 920.5 L505.8 920.3 L505.1 918.6 L504.4 918.1 L503.7 920.5 L503.0 920.6 L502.2 919.1 L501.5 921.4 L500.8 922.8 L500.1 922.0 L499.4 922.6 L498.6 921.5 L497.9 924.3 L497.2 924.3 L496.5 923.5 L495.8 922.9 L495.0 926.6 L494.3 927.0 L493.6 925.9 L492.9 924.9 L492.2 928.2 L491.4 925.5 L490.7 927.0 L490.0 927.1 L489.3 926.7 L488.6 927.9 L487.8 929.8 L487.1 926.8 L486.4 926.0 L485.7 929.4 L485.0 927.8 L484.2 930.5 L483.5 929.2 L482.8 931.6 L482.1 931.0 L481.3 934.2 L480.6 931.1 L479.9 929.9 L479.2 933.0 L478.4 931.6 L477.7 932.6 L477.0 934.4 L476.3 933.9 L475.6 931.7 L474.8 933.4 L474.1 935.0 L473.4 935.8 L472.7 934.9 L472.0 935.7 L471.3 938.3 L470.6 936.9 L469.9 935.6 L469.2 936.6 L468.5 936.4 L467.8 938.1 L467.2 936.3 L466.5 939.5 L465.8 940.3 L465.1 941.8 L464.4 939.8 L463.8 939.5 L463.1 942.0 L462.4 939.8 L461.7 942.3 L461.0 942.1 L460.3 943.7 L459.7 943.9 L459.0 943.5 L458.3 944.0 L457.6 944.8 L456.9 945.5 L456.2 946.3 L455.4 945.1 L454.7 946.7 L454.0 947.4 L453.3 947.0 L452.6 945.8 L451.8 949.2 L451.1 948.7 L450.4 948.4 L449.7 951.2 L449.0 949.1 L448.2 950.0 L447.5 950.0 L446.8 950.9 L446.1 951.7 L445.4 950.5 L444.6 950.8 L443.9 950.2 L443.2 952.1 L442.5 952.3 L441.7 954.7 L441.0 955.3 L440.3 956.5" fill="none" stroke="#000" stroke-width="8.6" stroke-linejoin="round" stroke-linecap="butt" shape-rendering="crispEdges"/>
<path d="M436.0 1040.1 L436.0 1039.2 L436.1 1038.4 L436.1 1037.5 L436.1 1036.7 L436.2 1035.9 L436.2 1035.1 L436.2 1034.4 L436.3 1033.6 L436.3 1032.7 L436.3 1031.9 L436.4 1031.1 L436.4 1030.2 L436.4 1029.6 L436.5 1028.7 L436.5 1027.9 L436.6 1026.9 L436.6 1026.2 L436.6 1025.5 L436.7 1024.6 L436.7 1023.8 L436.7 1022.9 L436.8 1022.2 L436.8 1021.4 L436.8 1020.5 L436.9 1019.8 L436.9 1018.9 L436.9 1018.2 L437.0 1017.4 L437.0 1016.5 L437.0 1015.7 L437.1 1014.9 L437.1 1014.1 L437.1 1013.3 L437.2 1012.6 L437.2 1011.7 L437.2 1010.8 L437.3 1010.1 L437.3 1009.3 L437.3 1008.5 L437.3 1007.6 L437.4 1006.8 L437.4 1006.1 L437.4 1005.2 L437.4 1004.4 L437.5 1003.6 L437.5 1002.8 L437.5 1002.0 L437.5 1001.2 L437.5 1000.5 L437.6 999.6 L437.6 998.8 L437.6 998.1 L437.6 997.2 L437.6 996.4 L437.6 995.6 L437.7 994.8 L437.7 994.0 L437.7 993.2 L437.7 992.4 L437.7 991.5 L437.7 990.7 L437.8 990.0 L437.8 989.2 L437.8 988.4 L437.8 987.5 L437.8 986.7 L437.8 986.0 L437.8 985.2 L437.9 984.4 L437.9 983.5 L437.9 982.7 L437.9 982.0 L437.9 981.1 L437.9 980.4 L437.9 979.5 L437.9 978.7 L438.0 977.9 L438.0 977.1 L438.0 976.3 L438.0 975.5 L438.0 974.7 L438.0 973.9 L438.0 973.1 L438.0 972.3 L438.0 971.5 L438.1 970.7 L438.1 969.9 L438.1 969.1 L438.1 968.3 L438.1 967.5 L438.1 966.7 L438.1 965.9 L438.1 965.1 L438.1 964.3 L438.2 963.5 L438.2 962.7 L438.2 961.9 L438.2 961.1 L438.2 960.3 L438.2 959.5 L438.2 958.7 L438.2 957.9 L438.2 957.1 L438.3 956.3 L438.3 955.4 L438.3 954.7 L438.3 953.8 L438.3 953.1 L438.3 952.3 L438.3 951.5 L438.3 950.7 L438.3 949.8 L438.3 949.0 L438.4 948.2 L438.4 947.5 L438.4 946.6 L438.4 945.8 L438.4 945.0 L438.4 944.2 L438.4 943.4 L438.4 942.6 L438.5 941.8 L438.5 941.0 L438.5 940.2 L438.5 939.4 L438.5 938.6 L438.5 937.8 L438.5 937.0 L438.5 936.2 L438.6 935.4 L438.6 934.6 L438.6 933.8 L438.6 932.9 L438.6 932.2 L438.6 931.4 L438.6 930.6 L438.7 929.8 L438.7 929.0 L438.7 928.2 L438.7 927.4 L438.7 926.6 L438.7 925.8 L438.7 925.0 L438.8 924.1 L438.8 923.4 L438.8 922.5 L438.8 921.7 L438.8 920.9 L438.8 920.1 L438.8 919.3 L438.9 918.5 L438.9 917.7 L438.9 916.9 L438.9 916.1 L438.9 915.2 L438.9 914.5 L438.9 913.6 L439.0 912.8 L439.0 912.1 L439.0 911.3 L439.0 910.5 L439.0 909.6 L439.0 908.8 L439.1 908.0 L439.1 907.2 L439.1 906.4 L439.1 905.6 L439.1 904.8 L439.1 904.0 L439.1 903.2 L439.2 902.4 L439.2 901.5 L439.2 900.8 L439.2 900.0 L439.2 899.2 L439.2 898.3 L439.3 897.6 L439.3 896.7 L439.3 895.9 L439.3 895.2 L439.3 894.3 L439.3 893.5 L439.4 892.7 L439.4 891.9 L439.4 891.1 L439.4 890.3 L439.4 889.5 L439.5 888.7 L439.5 887.9 L439.5 887.1 L439.5 886.2 L439.5 885.5 L439.5 884.7 L439.6 883.8 L439.6 883.0 L439.6 882.3 L439.6 881.5 L439.6 880.6 L439.7 879.8 L439.7 879.0 L439.7 878.2 L439.7 877.4 L439.8 876.6 L439.8 875.8 L439.8 875.0 L439.8 874.2 L439.8 873.4 L439.9 872.6 L439.9 871.8 L439.9 871.0 L439.9 870.1 L440.0 869.3 L440.0 868.6 L440.0 867.7 L440.0 866.9 L440.1 866.1 L440.1 865.4 L440.1 864.5 L440.1 863.6 L440.2 862.9 L440.2 862.0 L440.2 861.2 L440.2 860.4 L440.3 859.6 L440.3 858.8 L440.3 858.1 L440.3 857.3 L440.4 856.4 L440.4 855.6 L440.4 854.8 L440.4 854.0 L440.5 853.2 L440.5 852.4 L440.5 851.5 L440.5 850.7 L440.6 850.0 L440.6 849.1 L440.6 848.3 L440.7 847.5 L440.7 846.7 L440.7 846.0 L440.7 845.1 L440.8 844.3 L440.8 843.4 L440.8 842.7 L440.9 841.9 L440.9 841.0 L440.9 840.1 L440.9 839.5 L441.0 838.6 L441.0 837.8 L441.0 836.9 L441.1 836.2 L441.1 835.4 L441.1 834.5 L441.2 833.8 L441.2 833.0 L441.2 832.2 L441.2 831.3 L441.3 830.4 L441.3 829.8 L441.3 828.9 L441.4 828.1 L441.4 827.2 L441.4 826.6 L441.5 825.7 L441.5 824.9 L441.5 824.0 L441.6 823.2 L441.6 822.6 L441.6 821.6 L441.7 820.9 L441.7 820.1 L441.7 819.2 L441.8 818.4 L441.8 817.5 L441.8 816.8 L441.9 816.0 L441.9 815.1 L441.9 814.5 L442.0 813.6 L442.0 812.7 L442.0 812.0 L442.1 811.1 L442.1 810.4 L442.2 809.5 L442.2 808.7 L442.2 807.9 L442.3 807.2 L442.3 806.4 L442.3 805.5 L442.4 804.6 L442.4 803.8 L442.4 803.1 L442.5 802.2 L442.5 801.5 L442.6 800.5 L442.6 799.9 L442.6 799.1 L442.7 798.3 L442.7 797.6 L442.8 796.6 L442.8 795.8 L442.8 795.0 L442.9 794.1 L442.9 793.3 L443.0 792.6 L443.0 791.8 L443.0 790.9 L443.1 790.2 L443.1 789.3 L443.2 788.5 L443.2 787.8 L443.3 787.0 L443.3 786.0 L443.3 785.3 L443.4 784.5 L443.4 783.7 L443.5 783.0 L443.5 782.0 L443.6 781.3 L443.6 780.5 L443.6 779.6 L443.7 779.0 L443.7 778.0 L443.8 777.3 L443.8 776.4 L443.9 775.7 L443.9 774.9 L444.0 774.0 L444.0 773.2 L444.1 772.4 L444.1 771.6 L444.2 770.9 L444.2 770.1 L444.2 769.0 L444.3 768.3 L444.3 767.6 L444.4 766.6 L444.5 766.1 L444.5 765.1 L444.6 764.4 L444.6 763.4 L444.7 762.7 L444.7 762.0 L444.8 761.2 L444.9 760.4 L444.9 759.6 L445.0 758.6 L445.1 757.9 L445.1 757.1 L445.2 756.4 L445.3 755.6 L445.3 754.6 L445.4 753.7 L445.4 752.9 L445.5 752.2 L445.6 751.3 L445.6 750.4 L445.7 749.7 L445.8 748.9 L445.8 748.0 L445.9 747.3 L445.9 746.6 L446.0 745.8 L446.1 744.8 L446.1 744.1 L446.2 743.0 L446.2 742.5 L446.3 741.7 L446.3 740.7 L446.4 739.8 L446.5 739.3 L446.5 738.4 L446.6 737.4 L446.6 736.7 L446.7 736.0 L446.7 735.0 L446.8 734.2 L446.8 733.2 L446.9 732.6 L447.0 731.8 L447.0 731.1 L447.1 730.1 L447.1 729.2 L447.2 728.6 L447.2 727.5 L447.3 726.8 L447.3 726.1 L447.4 725.3 L447.5 724.3 L447.5 723.5 L447.6 722.7 L447.6 721.9 L447.7 721.2 L447.8 720.1 L447.8 719.5 L447.9 718.6 L447.9 717.8 L448.0 717.1 L448.1 716.0 L448.1 715.5 L448.2 714.5 L448.3 713.8 L448.3 712.9 L448.4 712.2 L448.4 711.5 L448.5 710.5 L448.6 709.8 L448.6 708.8 L448.7 708.3 L448.8 707.4 L448.8 706.4 L448.9 705.8 L449.0 704.8 L449.0 704.0 L449.1 703.3 L449.2 702.6 L449.2 701.6 L449.3 700.8 L449.4 700.3 L449.5 699.2 L449.5 698.4 L449.6 697.6 L449.7 696.9 L449.7 696.2 L449.8 695.4 L449.9 694.6 L449.9 693.6 L450.0 692.8 L450.1 692.0 L450.1 691.3 L450.2 690.5 L450.3 689.7 L450.3 688.9 L450.4 687.9 L450.5 687.3 L450.5 686.4 L450.6 685.6 L450.7 684.7 L450.7 683.9 L450.8 683.0 L450.8 682.4 L450.9 681.5 L451.0 680.5 L451.0 679.8 L451.1 679.2 L451.1 678.1 L451.2 677.5 L451.3 676.3 L451.3 675.7 L451.4 674.8 L451.5 674.0 L451.5 673.3 L451.6 672.5 L451.6 671.6 L451.7 670.7 L451.8 669.9 L451.8 669.1 L451.9 668.3 L452.0 667.6 L452.0 666.7 L452.1 666.0 L452.2 664.9 L452.2 664.1 L452.3 663.3 L452.4 662.6 L452.5 661.7 L452.5 660.7 L452.6 660.1 L452.7 659.2 L452.8 658.6 L452.9 657.7 L453.0 657.0 L453.0 656.0 L453.1 655.2 L453.2 654.7 L453.3 653.8 L453.4 652.9 L453.5 651.7 L453.6 651.4 L453.7 650.4 L453.8 649.7 L453.9 648.9 L454.0 648.0 L454.1 647.3 L454.2 646.7 L454.3 645.6 L454.4 644.9 L454.5 644.1 L454.6 643.2 L454.7 642.3 L454.8 641.5 L454.9 641.1 L455.0 640.4 L455.1 639.5 L455.2 638.7 L455.3 638.1 L455.4 636.8 L455.5 636.4 L455.6 635.2 L455.7 634.5 L455.8 633.7 L455.9 633.1 L456.0 631.9 L456.1 631.5 L456.2 630.5 L456.3 629.9 L456.4 629.0 L456.5 628.2 L456.6 627.0 L456.7 626.6 L456.7 625.8 L456.8 624.8 L456.9 624.1 L457.0 623.3 L457.1 622.4 L457.2 621.8 L457.3 621.0 L457.4 620.2 L457.4 619.2 L457.5 618.5 L457.6 617.8 L457.7 617.1 L457.8 616.2 L457.9 615.3 L458.0 614.4 L458.0 613.8 L458.1 612.9 L458.2 612.2 L458.3 611.5 L458.4 610.4 L458.5 609.7 L458.5 608.8 L458.6 608.1 L458.7 607.2 L458.8 606.6 L458.9 605.7 L459.0 605.1 L459.0 604.3 L459.1 603.6 L459.2 602.5 L459.3 601.8 L459.4 600.9 L459.5 600.1 L459.6 599.6 L459.6 598.4 L459.7 597.7 L459.8 596.8 L459.9 595.8 L460.0 595.1 L460.0 594.4 L460.1 593.6 L460.2 592.9 L460.3 592.2 L460.4 591.3 L460.5 590.4 L460.5 589.5 L460.6 588.9 L460.7 587.9 L460.8 587.2 L460.9 586.3 L460.9 585.7 L461.0 584.9 L461.1 584.1 L461.2 583.4 L461.3 582.6 L461.4 581.8 L461.4 580.6 L461.5 580.1 L461.6 579.2 L461.7 578.6 L461.8 577.6 L461.9 576.7 L462.0 576.3 L462.0 575.2 L462.1 574.6 L462.2 573.8 L462.3 572.9 L462.4 572.0 L462.5 571.2 L462.6 570.3 L462.6 569.7 L462.7 568.6 L462.8 568.0 L462.9 567.4 L463.0 566.5 L463.1 565.7 L463.2 565.1 L463.2 564.3 L463.3 563.5 L463.4 562.3 L463.5 561.8 L463.6 560.8 L463.7 560.2 L463.7 559.0 L463.8 558.6 L463.9 557.8 L464.0 556.8 L464.1 556.0 L464.2 555.0 L464.3 554.2 L464.4 553.2 L464.5 553.0 L464.6 552.0 L464.7 551.1 L464.8 550.4 L464.9 549.6 L465.0 548.8 L465.1 547.7 L465.2 547.5 L465.3 546.5 L465.5 545.6 L465.6 544.4 L465.7 544.2 L465.8 543.1 L466.0 542.4 L466.1 541.7 L466.2 540.5 L466.4 540.1 L466.5 539.3 L466.7 538.7 L466.8 537.8 L467.0 537.3 L467.1 535.8 L467.3 534.8 L467.4 534.6 L467.6 533.2 L467.8 532.6 L467.9 532.6 L468.1 530.9 L468.2 530.6 L468.4 529.7 L468.6 528.3 L468.7 528.5 L468.9 526.8 L469.1 526.6 L469.3 525.4 L469.4 524.6 L469.6 523.6 L469.8 523.3 L469.9 522.5 L470.1 521.8 L470.3 520.9 L470.5 520.2 L470.6 518.9 L470.8 517.8 L471.0 517.8 L471.2 516.8 L471.3 515.8 L471.5 515.2 L471.7 514.7 L471.8 513.6 L472.0 512.5 L472.2 512.1 L472.3 511.3 L472.5 510.4 L472.7 509.7 L472.9 509.4 L473.0 508.1 L473.2 507.1 L473.4 506.2 L473.5 505.5 L473.7 505.4 L473.9 503.8 L474.0 503.3 L474.2 502.1 L474.4 502.2 L474.6 500.8 L474.7 499.9 L474.9 499.0 L475.1 498.5 L475.3 497.5 L475.5 497.0 L475.6 495.9 L475.8 495.0 L476.0 494.3 L476.2 493.8 L476.4 492.8 L476.6 491.5 L476.8 491.6 L477.0 490.7 L477.2 489.7 L477.4 488.7 L477.6 487.8 L477.8 487.2 L478.0 485.7 L478.2 485.9 L478.4 484.8 L478.6 484.4 L478.8 483.1 L479.1 482.7 L479.3 481.1 L479.5 481.0 L479.7 480.2 L479.9 479.7 L480.2 478.2 L480.4 477.7 L480.6 476.9 L480.8 476.7 L481.1 475.1 L481.3 475.4 L481.5 474.7 L481.7 473.6 L482.0 472.3 L482.2 471.5 L482.5 471.3 L482.7 470.0 L482.9 469.9 L483.2 468.4 L483.4 467.2 L483.7 466.5 L483.9 466.8 L484.2 465.4 L484.5 464.9 L484.7 463.4 L485.0 462.5 L485.2 462.0 L485.5 460.6 L485.8 460.6 L486.1 459.7 L486.3 459.3 L486.6 458.0 L486.9 458.0 L487.2 457.3 L487.5 455.9 L487.8 455.7 L488.1 454.7 L488.4 453.7 L488.7 452.9 L489.0 451.9 L489.3 451.5 L489.6 450.7 L489.9 450.9 L490.2 450.0 L490.5 449.0 L490.8 447.7 L491.2 447.3 L491.5 446.2 L491.8 446.2 L492.1 444.7 L492.5 444.5 L492.8 443.1 L493.1 442.7 L493.5 442.1 L493.8 441.5 L494.1 441.8 L494.5 439.0 L494.8 440.1 L495.2 438.1 L495.5 437.2 L495.8 436.8 L496.2 436.8 L496.5 435.3 L496.9 435.4 L497.2 433.4 L497.6 433.0 L497.9 433.2 L498.2 431.7 L498.6 431.1 L498.9 429.4 L499.3 428.5 L499.6 429.1 L499.9 428.1 L500.3 427.2 L500.6 425.8 L500.9 425.0 L501.3 426.2 L501.6 424.5 L501.9 424.2 L502.3 421.7 L502.6 421.9 L502.9 421.7 L503.3 420.6 L503.6 420.5 L503.9 419.3 L504.3 418.5 L504.6 417.9 L505.0 416.3 L505.3 416.9 L505.6 415.1 L506.0 414.6 L506.3 414.3 L506.7 414.7 L507.0 412.5 L507.4 411.7 L507.7 411.3 L508.1 409.4 L508.4 409.5 L508.8 409.6 L509.2 407.1 L509.6 408.2 L509.9 406.4 L510.3 407.4 L510.7 404.1 L511.1 404.8 L511.5 404.6 L511.9 403.2 L512.3 402.5 L512.7 402.6 L513.1 401.2 L513.5 401.2 L514.0 401.5 L514.4 398.6 L514.8 398.5 L515.2 398.0 L515.7 397.9 L516.1 395.7 L516.6 394.9 L517.0 395.0 L517.5 394.6 L517.9 394.5 L518.4 394.7 L518.8 392.5 L519.3 392.3 L519.8 390.8 L520.2 389.5 L520.7 389.5 L521.2 388.1 L521.7 389.7 L522.2 387.7 L522.6 387.7 L523.1 385.5 L523.6 385.6 L524.1 385.0 L524.6 383.5 L525.1 383.8 L525.6 385.2 L526.1 382.5 L526.6 382.5 L527.1 382.1 L527.6 380.6 L528.1 382.0 L528.7 378.9 L529.2 378.6 L529.7 378.6 L530.2 377.4 L530.7 376.5 L531.3 376.9 L531.8 376.0 L532.3 375.9 L532.9 374.2 L533.4 374.9 L534.0 373.2 L534.5 372.6 L535.1 371.5 L535.6 373.0 L536.2 370.8 L536.8 371.3 L537.3 369.0 L537.9 369.6 L538.5 368.2 L539.1 368.2 L539.6 367.9 L540.2 368.3 L540.8 366.7 L541.4 366.3 L542.0 367.8 L542.5 365.1 L543.1 364.9 L543.7 364.3 L544.3 363.2 L544.9 362.7 L545.5 361.0 L546.1 362.8 L546.7 359.7 L547.3 360.9 L547.8 361.6 L548.4 359.2 L549.0 357.9 L549.6 357.5 L550.2 357.5 L550.8 356.2 L551.4 356.6 L552.0 354.0 L552.5 356.1 L553.1 354.6 L553.7 353.6 L554.3 354.4 L554.9 352.2 L555.5 354.0 L556.1 353.3 L556.7 353.1 L557.2 351.7 L557.8 351.0 L558.4 350.8 L559.0 349.7 L559.6 349.0 L560.2 347.2 L560.8 347.7 L561.4 346.6 L562.0 346.9 L562.6 347.7 L563.2 344.4 L563.8 346.0 L564.4 344.9 L565.0 343.4 L565.6 342.1 L566.2 342.0 L566.8 341.6 L567.4 341.1 L568.0 342.8 L568.6 340.5 L569.2 338.5 L569.8 340.0 L570.4 338.4 L571.0 339.0 L571.6 339.9 L572.2 336.7 L572.8 338.9 L573.5 336.8 L574.1 337.8 L574.7 336.0 L575.3 334.1 L575.9 335.6 L576.5 334.5 L577.2 334.1 L577.8 332.3 L578.4 331.2 L579.0 331.7 L579.7 330.4 L580.3 329.8 L580.9 328.8 L581.6 331.7 L582.2 330.0 L582.8 328.9 L583.5 327.3 L584.1 327.3 L584.7 328.0 L585.4 327.1 L586.0 326.0 L586.7 326.3 L587.3 325.3 L587.9 324.6 L588.6 324.3 L589.2 323.4 L589.9 321.9 L590.5 323.9 L591.2 323.8 L591.8 320.5 L592.5 322.5 L593.1 320.3 L593.8 321.1 L594.4 320.9 L595.1 319.6 L595.7 320.5 L596.4 317.3 L597.0 318.1 L597.7 316.9 L598.3 318.9 L599.0 315.7 L599.6 314.2 L600.3 316.2 L601.0 316.2 L601.6 315.8 L602.3 313.8 L603.0 311.8 L603.6 312.6 L604.3 312.0 L605.0 313.8 L605.7 312.4 L606.3 311.9 L607.0 312.9 L607.7 309.7 L608.4 312.4 L609.1 309.4 L609.7 309.9 L610.4 308.1 L611.1 308.8 L611.8 307.5 L612.5 307.0 L613.2 306.8 L613.8 306.5 L614.5 306.7 L615.2 305.3 L615.9 307.2 L616.6 304.7 L617.3 304.6 L618.0 304.4 L618.6 302.4 L619.3 302.2 L620.0 301.9 L620.7 302.0 L621.4 302.5 L622.0 300.0 L622.7 300.1 L623.4 299.5 L624.1 298.5 L624.7 298.6 L625.4 299.4 L626.1 298.0 L626.7 296.7 L627.4 295.3 L628.1 297.1 L628.7 295.3 L629.4 296.8 L630.0 293.9 L630.7 292.3 L631.3 295.8 L632.0 295.1 L632.6 293.4 L633.3 294.7 L634.0 291.7 L634.6 291.2 L635.3 292.1 L635.9 289.8 L636.6 289.3 L637.2 288.9 L637.9 288.1 L638.5 287.5 L639.2 287.3 L639.8 286.6 L640.5 287.0 L641.1 286.2 L641.8 285.2 L642.4 284.9 L643.1 285.7 L643.7 285.1 L644.4 283.5 L645.1 284.0 L645.7 283.2 L646.4 282.1 L647.0 279.9 L647.7 281.3 L648.4 281.7 L649.1 279.5 L649.7 280.2 L650.4 280.5 L651.1 280.6 L651.8 279.5 L652.4 278.4 L653.1 277.5 L653.8 278.9 L654.5 277.7 L655.1 277.1 L655.8 276.2 L656.5 275.4 L657.2 275.1 L657.9 274.8 L658.6 273.4 L659.2 274.7 L659.9 274.4 L660.6 273.2 L661.3 272.2 L662.0 272.1 L662.7 271.3 L663.4 271.8 L664.1 270.7 L664.8 270.8 L665.5 269.3 L666.2 270.4 L666.9 268.6 L667.6 268.8 L668.3 269.8 L669.0 268.8 L669.7 267.9 L670.4 266.7 L671.1 266.3 L671.8 266.6 L672.5 267.6 L673.2 265.6 L674.0 265.6 L674.7 265.8 L675.4 264.9 L676.1 265.2 L676.8 263.4 L677.5 261.9 L678.3 263.3 L679.0 262.5 L679.7 261.6 L680.4 261.0 L681.2 261.4 L681.9 260.5 L682.6 260.3 L683.4 261.5 L684.1 261.5 L684.8 259.5 L685.6 260.9 L686.3 258.5 L687.1 254.8 L687.8 257.9 L688.6 258.9 L689.3 258.5 L690.1 259.7 L690.8 257.9 L691.6 257.2 L692.3 256.3 L693.0 256.6 L693.8 258.3 L694.5 256.4 L695.3 257.3 L696.0 256.6 L696.8 257.5 L697.5 255.0 L698.3 255.6 L699.0 255.1 L699.8 256.4 L700.5 254.1 L701.3 253.8 L702.0 252.8 L702.8 252.3 L703.6 252.6 L704.4 252.1 L705.1 252.2 L705.9 252.5 L706.7 249.7 L707.5 251.1 L708.2 251.1 L709.0 251.4 L709.8 248.1 L710.6 251.2 L711.4 251.6 L712.2 246.3 L713.0 249.0 L713.8 248.0 L714.6 246.3 L715.4 247.8 L716.1 248.8 L716.9 248.8 L717.7 248.4 L718.5 248.2 L719.3 246.6 L720.1 247.5 L720.9 244.0 L721.7 249.5 L722.5 248.3 L723.2 247.2 L724.0 247.1 L724.8 245.9 L725.6 244.6 L726.4 243.7 L727.2 242.4 L728.0 245.6 L728.8 247.4 L729.6 242.0 L730.4 243.5 L731.2 244.9 L732.0 245.1 L732.8 243.3 L733.6 243.3 L734.4 240.8 L735.2 243.7 L736.0 240.8 L736.8 242.1 L737.6 244.3 L738.4 241.3 L739.2 245.8 L740.0 243.3 L740.8 241.8 L741.6 243.9 L742.4 240.1 L743.2 242.5 L744.0 241.3 L744.8 240.4 L745.6 242.2 L746.4 241.6 L747.2 244.7 L748.0 241.7 L748.8 242.9 L749.6 240.6 L750.4 243.4 L751.2 242.8 L752.0 243.3 L752.9 241.6 L753.7 241.1 L754.5 242.8 L755.3 240.6 L756.1 244.1 L756.9 242.8 L757.7 241.3 L758.5 241.3 L759.3 242.6 L760.2 241.5 L761.0 243.6 L761.8 245.3 L762.6 243.2 L763.4 245.3 L764.2 241.8 L765.0 240.8 L765.9 243.3 L766.7 240.1 L767.5 242.2 L768.3 244.3 L769.1 243.9 L769.9 241.0 L770.7 244.6 L771.5 242.4 L772.4 244.2 L773.2 245.1 L774.0 243.8 L774.8 243.6 L775.6 244.8 L776.4 243.9 L777.2 244.4 L778.0 242.0 L778.8 243.9 L779.6 246.2 L780.4 242.7 L781.2 243.5 L782.1 243.4 L782.9 245.9 L783.7 245.7 L784.5 243.2 L785.3 242.5 L786.1 244.1 L786.9 245.7 L787.7 243.0 L788.5 244.3 L789.3 243.6 L790.1 245.8 L790.9 244.6 L791.7 245.5 L792.5 245.1 L793.3 245.9 L794.1 242.3 L795.0 244.5 L795.8 246.0 L796.6 247.1 L797.4 245.8 L798.2 248.2 L799.0 247.5 L799.8 247.6 L800.6 244.1 L801.4 245.7 L802.2 247.0 L803.0 246.6 L803.8 246.0 L804.6 245.4 L805.4 247.7 L806.2 246.3 L807.0 248.3 L807.8 247.7 L808.6 248.9 L809.4 248.0 L810.2 246.0 L811.0 246.1 L811.8 245.1 L812.6 247.0 L813.4 247.0 L814.2 247.3 L815.0 246.4 L815.8 245.9 L816.6 246.3 L817.4 248.6 L818.2 249.6 L819.0 247.2 L819.8 248.1 L820.6 248.8 L821.4 250.4 L822.2 249.1 L823.0 248.0 L823.8 249.4 L824.6 250.5 L825.4 248.1 L826.2 250.6 L827.0 246.8 L827.8 249.5 L828.6 247.1 L829.4 247.1 L830.2 246.4 L831.0 247.4 L831.8 248.4 L832.6 249.1 L833.4 246.9 L834.2 247.7 L835.0 250.1 L835.8 250.0 L836.6 248.2 L837.4 247.7 L838.2 248.4 L839.0 251.9 L839.8 246.8 L840.6 250.5 L841.4 249.8 L842.2 249.2 L843.0 250.1 L843.8 248.6 L844.6 249.2 L845.5 250.3 L846.3 247.5 L847.1 252.7 L847.9 249.8 L848.7 252.8 L849.5 248.7 L850.3 250.0 L851.1 249.1 L851.9 250.7 L852.7 251.2 L853.5 250.8 L854.3 248.9 L855.1 250.7 L855.9 251.2 L856.7 249.6 L857.5 249.1 L858.3 252.7 L859.2 250.5 L860.0 250.5 L860.8 247.9 L861.6 250.8 L862.4 251.9 L863.2 254.9 L864.0 252.2 L864.8 250.9 L865.6 249.0 L866.4 252.2 L867.2 251.7 L868.0 251.6 L868.8 252.0 L869.6 249.9 L870.4 250.8 L871.2 250.3 L872.0 248.7 L872.8 256.3 L873.6 253.0 L874.4 252.5 L875.2 248.6 L876.0 252.4 L876.8 250.2 L877.6 250.1 L878.4 252.8 L879.2 250.2 L880.0 253.1 L880.8 252.5 L881.6 253.2 L882.4 251.3 L883.2 252.9 L884.0 252.1 L884.8 250.9 L885.6 254.1 L886.4 250.1 L887.2 250.4 L888.0 251.7 L888.8 249.7 L889.6 250.9 L890.4 250.6 L891.2 251.5 L892.0 251.1 L892.8 251.7 L893.6 254.3 L894.5 252.0 L895.3 252.2 L896.1 251.6 L896.9 253.0 L897.7 250.1 L898.5 250.6 L899.3 251.8 L900.1 252.6 L900.9 250.9 L901.7 254.0 L902.5 254.2 L903.3 253.4 L904.1 250.4 L904.9 252.6 L905.7 251.3 L906.5 252.1 L907.3 250.4 L908.1 250.6 L908.9 249.9 L909.7 250.1 L910.5 249.8 L911.3 250.0 L912.1 251.9 L912.9 251.6 L913.7 250.7 L914.5 251.7 L915.3 251.6 L916.1 251.9 L916.9 252.3 L917.7 251.7 L918.5 253.9 L919.3 251.7 L920.1 253.8 L920.9 250.2 L921.7 250.5 L922.5 251.1 L923.3 250.7 L924.1 251.4 L924.9 252.3 L925.7 251.3 L926.5 251.5 L927.3 251.7 L928.1 252.6 L928.9 254.0 L929.7 249.3 L930.5 252.0 L931.3 249.4 L932.1 251.7 L932.9 251.2 L933.7 252.1 L934.5 250.0 L935.3 251.0 L936.1 253.2 L936.9 252.4 L937.7 251.4 L938.5 252.1 L939.3 251.4 L940.2 254.9 L941.0 252.4 L941.8 252.0 L942.6 249.0 L943.4 252.9 L944.2 251.1 L945.0 251.8 L945.8 251.4 L946.6 252.2 L947.4 251.4 L948.2 252.6 L949.0 255.0 L949.8 251.2 L950.6 249.2 L951.4 252.3 L952.2 251.1 L953.0 252.6 L953.8 251.0 L954.6 251.8 L955.4 251.5 L956.2 252.1 L957.0 252.7 L957.8 253.3 L958.6 249.9 L959.4 251.8 L960.2 251.2 L961.0 252.3 L961.8 253.2 L962.6 253.7 L963.4 250.9 L964.2 252.3 L965.0 253.7 L965.8 253.6 L966.6 252.1 L967.4 252.0 L968.2 254.1 L969.0 250.3 L969.9 254.2 L970.7 250.9 L971.5 252.9 L972.3 252.1 L973.1 252.5 L973.9 252.0 L974.7 251.3 L975.5 252.1 L976.3 251.9 L977.1 249.5 L977.9 252.8 L978.7 254.9 L979.5 253.9 L980.4 251.9 L981.2 251.7 L982.0 253.4 L982.8 251.5 L983.6 251.4 L984.4 251.7 L985.2 250.2 L986.0 253.6 L986.8 251.9 L987.6 254.7 L988.4 249.9 L989.2 252.6 L990.0 253.8 L990.8 253.7 L991.7 252.9 L992.5 252.6 L993.3 255.3 L994.1 255.1 L994.9 254.1 L995.7 253.6 L996.5 251.1 L997.3 250.1 L998.1 252.4 L998.9 252.0 L999.7 254.1 L1000.5 251.8 L1001.3 254.8 L1002.2 254.8 L1003.0 253.8 L1003.8 253.2 L1004.6 253.7 L1005.4 254.4 L1006.2 250.9 L1007.0 251.9 L1007.8 253.7 L1008.6 256.0 L1009.4 255.1 L1010.2 255.7 L1011.0 253.0 L1011.8 253.0 L1012.7 251.7 L1013.5 254.6 L1014.3 253.9 L1015.1 252.7 L1015.9 253.5 L1016.7 254.8 L1017.5 256.5 L1018.3 252.9 L1019.1 252.6 L1019.9 253.7 L1020.7 253.1 L1021.5 253.8 L1022.3 253.2 L1023.1 253.0 L1024.0 252.3 L1024.8 253.6 L1025.6 253.3 L1026.4 252.7 L1027.2 252.9 L1028.0 253.1 L1028.8 255.8 L1029.6 254.1 L1030.4 253.8 L1031.2 254.6 L1032.0 251.7 L1032.8 253.6 L1033.6 253.6 L1034.5 253.0 L1035.3 252.9 L1036.1 254.2 L1036.9 254.6 L1037.7 252.7 L1038.5 254.3 L1039.3 254.2 L1040.1 253.3 L1040.9 254.4 L1041.7 253.5 L1042.6 253.7 L1043.4 256.3 L1044.2 253.0 L1045.0 253.1 L1045.8 253.7 L1046.6 255.4 L1047.5 255.8 L1048.3 255.8 L1049.1 252.4 L1049.9 252.1 L1050.7 253.5 L1051.5 254.7 L1052.4 256.1 L1053.2 253.8 L1054.0 254.7 L1054.8 254.1 L1055.6 251.9 L1056.4 253.0 L1057.2 253.8 L1058.1 253.3 L1058.9 252.4 L1059.7 253.2 L1060.5 254.2 L1061.3 252.0 L1062.1 254.0 L1063.0 251.7 L1063.8 251.7 L1064.6 251.2 L1065.4 255.5 L1066.2 254.2 L1067.0 254.0 L1067.8 255.5 L1068.7 253.3 L1069.5 252.7 L1070.3 252.5 L1071.1 254.2 L1071.9 252.1 L1072.7 254.7 L1073.5 255.0 L1074.4 252.3 L1075.2 252.3 L1076.0 254.3 L1076.8 254.5 L1077.6 253.8 L1078.4 255.6 L1079.2 253.8 L1080.0 252.3 L1080.8 251.5 L1081.6 253.2 L1082.4 252.2 L1083.2 251.9 L1084.0 252.4 L1084.8 252.9 L1085.6 254.6 L1086.4 253.2 L1087.2 252.9 L1088.0 252.9 L1088.8 253.5 L1089.6 254.5 L1090.4 252.8 L1091.2 251.7 L1092.0 252.3 L1092.8 252.7 L1093.6 254.0 L1094.4 252.2 L1095.2 251.2 L1096.0 250.6 L1096.8 252.5 L1097.6 251.3 L1098.4 251.0 L1099.2 249.1 L1100.0 251.6 L1100.8 250.9 L1101.6 251.4 L1102.4 250.8 L1103.2 251.3 L1104.0 252.3 L1104.8 251.7 L1105.6 248.4 L1106.4 249.5 L1107.2 250.0 L1108.0 249.8 L1108.8 251.1 L1109.6 249.4 L1110.4 251.0 L1111.2 252.3 L1112.0 250.7 L1112.8 250.1 L1113.6 249.4 L1114.4 248.2 L1115.2 249.6 L1116.0 252.1 L1116.8 249.8 L1117.6 249.5 L1118.4 248.0 L1119.2 248.9 L1120.1 247.1 L1120.9 249.0 L1121.7 248.3 L1122.5 248.2 L1123.3 250.4 L1124.1 248.9 L1124.9 250.2 L1125.7 251.5 L1126.5 249.1 L1127.3 246.9 L1128.1 249.0 L1128.9 247.3 L1129.7 248.7 L1130.6 245.2 L1131.4 247.1 L1132.2 248.5 L1133.0 248.6 L1133.8 248.7 L1134.6 247.2 L1135.4 250.7 L1136.2 249.0 L1137.0 248.8 L1137.8 246.8 L1138.6 245.7 L1139.4 249.1 L1140.3 246.0 L1141.1 248.1 L1141.9 244.3 L1142.7 246.3 L1143.5 244.9 L1144.3 244.9 L1145.1 247.4 L1145.9 249.6 L1146.7 247.1 L1147.5 246.7 L1148.3 246.9 L1149.1 248.1 L1150.0 247.3 L1150.8 246.8 L1151.6 246.3 L1152.4 245.8 L1153.2 247.1 L1154.0 246.7 L1154.8 245.1 L1155.6 245.6 L1156.4 246.6 L1157.2 247.9 L1158.0 246.8 L1158.8 245.5 L1159.7 246.1 L1160.5 245.2 L1161.3 245.4 L1162.1 245.6 L1162.9 245.2 L1163.7 246.2 L1164.5 243.6 L1165.3 245.0 L1166.1 244.4 L1166.9 246.7 L1167.7 245.8 L1168.5 245.1 L1169.3 246.5 L1170.2 243.6 L1171.0 245.4 L1171.8 245.8 L1172.6 244.0 L1173.4 244.0 L1174.2 242.6 L1175.0 245.0 L1175.8 244.4 L1176.6 243.8 L1177.4 243.0 L1178.2 244.5 L1179.0 244.3 L1179.8 243.1 L1180.7 245.3 L1181.5 244.0 L1182.3 243.9 L1183.1 243.2 L1183.9 245.2 L1184.7 242.5 L1185.5 246.1 L1186.3 242.9 L1187.1 242.3 L1187.9 244.2 L1188.7 241.3 L1189.5 242.8 L1190.3 243.9 L1191.2 242.9 L1192.0 243.7 L1192.8 244.2 L1193.6 244.0 L1194.4 243.3 L1195.2 241.9 L1196.0 244.5 L1196.8 243.6 L1197.6 241.3 L1198.4 242.9 L1199.2 243.3 L1200.0 243.2 L1200.9 241.1 L1201.7 242.9 L1202.5 242.9 L1203.3 242.8 L1204.1 241.8 L1204.9 240.5 L1205.7 239.5 L1206.5 240.4 L1207.3 244.0 L1208.1 241.4 L1208.9 241.6 L1209.7 242.4 L1210.6 240.9 L1211.4 243.9 L1212.2 244.0 L1213.0 240.9 L1213.8 243.3 L1214.6 240.3 L1215.4 241.9 L1216.2 239.5 L1217.0 240.7 L1217.8 241.4 L1218.6 239.5 L1219.4 242.5 L1220.2 241.2 L1221.1 239.9 L1221.9 243.7 L1222.7 243.6 L1223.5 242.5 L1224.3 242.3 L1225.1 242.5 L1225.9 241.8 L1226.7 239.6 L1227.5 243.4 L1228.3 241.3 L1229.1 242.6 L1229.9 238.2 L1230.8 240.1 L1231.6 240.1 L1232.4 242.9 L1233.2 240.5 L1234.0 240.4 L1234.8 241.6 L1235.6 240.2 L1236.4 241.8 L1237.2 238.2 L1238.0 242.1 L1238.8 241.6 L1239.6 242.7 L1240.4 244.0 L1241.3 241.1 L1242.1 243.7 L1242.9 242.4 L1243.7 239.7 L1244.5 242.8 L1245.3 244.2 L1246.1 243.9 L1246.9 240.7 L1247.7 242.2 L1248.5 240.9 L1249.3 241.9 L1250.2 243.3 L1251.0 239.9 L1251.8 241.1 L1252.6 241.4 L1253.4 240.2 L1254.2 244.3 L1255.0 240.2 L1255.8 240.7 L1256.6 241.3 L1257.4 241.7 L1258.2 242.5 L1259.0 243.0 L1259.9 242.9 L1260.7 242.5 L1261.5 241.4 L1262.3 239.5 L1263.1 242.0 L1263.9 242.0 L1264.7 241.6 L1265.5 242.7 L1266.3 242.1 L1267.1 240.3 L1267.9 239.4 L1268.7 242.1 L1269.5 242.9 L1270.3 242.4 L1271.1 240.1 L1271.9 243.4 L1272.7 242.3 L1273.5 243.4 L1274.3 242.4 L1275.1 243.1 L1275.9 242.2 L1276.7 241.3 L1277.5 243.9 L1278.3 240.0 L1279.1 242.3 L1279.9 244.8 L1280.7 240.3 L1281.5 241.2 L1282.3 241.6 L1283.1 240.9 L1283.9 242.6 L1284.7 241.9 L1285.5 241.0 L1286.3 241.9 L1287.1 241.3 L1287.9 242.0 L1288.7 243.0 L1289.5 242.2 L1290.3 242.5 L1291.1 243.8 L1291.9 243.9 L1292.7 242.1 L1293.5 242.8 L1294.3 241.0 L1295.1 243.7 L1295.9 242.8 L1296.8 244.0 L1297.6 242.3 L1298.4 244.4 L1299.2 244.5 L1300.0 243.3 L1300.8 242.9 L1301.6 241.9 L1302.4 242.7 L1303.2 244.4 L1304.0 241.9 L1304.8 241.5 L1305.6 240.2 L1306.4 244.2 L1307.2 243.4 L1308.0 243.6 L1308.8 241.2 L1309.6 243.5 L1310.4 244.2 L1311.2 242.8 L1312.0 241.5 L1312.8 241.1 L1313.6 243.0 L1314.4 245.7 L1315.2 242.7 L1316.0 243.1 L1316.8 243.4 L1317.6 241.2 L1318.4 243.6 L1319.2 243.1 L1320.0 242.5 L1320.8 243.2 L1321.6 243.8 L1322.4 242.9 L1323.2 241.2 L1324.0 244.3 L1324.8 244.2 L1325.6 245.3 L1326.4 242.9 L1327.2 245.1 L1328.0 240.5 L1328.8 244.8 L1329.6 241.3 L1330.4 242.8 L1331.2 243.0 L1332.0 241.6 L1332.8 243.3 L1333.7 243.7 L1334.5 243.0 L1335.3 242.8 L1336.1 243.9 L1336.9 243.2 L1337.7 240.9 L1338.5 241.5 L1339.3 246.0 L1340.1 240.8 L1340.9 243.0 L1341.7 243.0 L1342.5 244.0 L1343.4 243.0 L1344.2 244.9 L1345.0 242.3 L1345.8 244.3 L1346.6 243.4 L1347.4 242.5 L1348.2 243.5 L1349.0 244.0 L1349.8 244.1 L1350.6 243.0 L1351.4 245.0 L1352.2 244.1 L1353.1 243.6 L1353.9 242.5 L1354.7 243.0 L1355.5 242.7 L1356.3 242.3 L1357.1 242.4 L1357.9 242.2 L1358.7 243.1 L1359.5 242.4 L1360.3 242.2 L1361.1 243.6 L1361.9 241.9 L1362.8 242.0 L1363.6 243.2 L1364.4 244.0 L1365.2 242.1 L1366.0 243.4 L1366.8 241.5 L1367.6 241.9 L1368.4 242.7 L1369.2 242.4 L1370.0 242.6 L1370.8 244.7 L1371.6 242.4 L1372.4 243.6 L1373.3 243.8 L1374.1 241.5 L1374.9 241.9 L1375.7 243.0 L1376.5 244.2 L1377.3 244.0 L1378.1 245.7 L1378.9 243.4 L1379.7 242.1 L1380.5 244.8 L1381.3 243.3 L1382.1 244.1 L1383.0 242.8 L1383.8 244.4 L1384.6 244.5 L1385.4 241.7 L1386.2 243.5 L1387.0 243.6 L1387.8 243.6 L1388.6 243.2 L1389.4 240.1 L1390.2 243.1 L1391.0 242.0 L1391.8 240.3 L1392.7 242.4 L1393.5 240.1 L1394.3 242.1 L1395.1 240.0 L1395.9 240.2 L1396.7 241.6 L1397.5 244.7 L1398.3 242.7 L1399.1 242.1 L1399.9 241.7 L1400.7 241.2 L1401.5 243.2 L1402.4 242.8 L1403.2 241.4 L1404.0 243.4 L1404.8 243.6 L1405.6 244.4 L1406.4 241.7 L1407.2 243.0 L1408.0 240.8 L1408.8 240.1 L1409.6 241.7 L1410.4 241.0 L1411.2 242.2 L1412.1 242.9 L1412.9 241.2 L1413.7 242.2 L1414.5 240.3 L1415.3 241.2 L1416.1 240.5 L1416.9 239.6 L1417.7 243.1 L1418.5 240.7 L1419.3 241.2 L1420.1 240.4 L1420.9 242.9 L1421.7 240.8 L1422.6 240.1 L1423.4 240.9 L1424.2 240.7 L1425.0 240.9 L1425.8 241.6 L1426.6 238.9 L1427.4 242.3 L1428.2 241.2 L1429.0 239.6 L1429.8 238.5 L1430.6 239.3 L1431.4 241.2 L1432.2 239.8 L1433.0 241.4 L1433.9 241.1 L1434.7 241.1 L1435.5 239.1 L1436.3 237.0 L1437.1 238.6 L1437.9 240.9 L1438.7 237.5 L1439.5 239.7 L1440.3 237.6 L1441.1 240.7 L1441.9 238.3 L1442.7 239.7 L1443.5 238.1 L1444.4 237.8 L1445.2 237.3 L1446.0 238.2 L1446.8 239.1 L1447.6 240.6 L1448.4 238.4 L1449.2 235.8 L1450.0 238.4 L1450.8 238.2 L1451.6 239.5 L1452.4 240.1 L1453.2 239.1 L1454.0 237.4 L1454.8 237.8 L1455.7 238.3 L1456.5 235.4 L1457.3 236.0 L1458.1 238.1 L1458.9 239.2 L1459.7 238.3 L1460.5 236.5 L1461.3 235.4 L1462.1 236.4 L1462.9 237.4 L1463.7 235.6 L1464.5 236.9 L1465.3 236.0 L1466.1 237.6 L1466.9 239.1 L1467.7 234.6 L1468.5 237.8 L1469.4 235.7 L1470.2 233.4 L1471.0 238.3 L1471.8 236.5 L1472.6 235.1 L1473.4 235.9 L1474.2 235.1 L1475.0 236.6 L1475.8 235.8 L1476.6 234.4 L1477.4 235.3 L1478.2 235.2 L1479.0 238.1 L1479.8 236.3 L1480.6 234.2 L1481.4 234.4 L1482.2 235.7 L1483.0 236.0 L1483.8 234.6 L1484.6 233.3 L1485.4 233.6 L1486.2 234.4 L1487.0 231.6 L1487.8 235.5 L1488.6 236.4 L1489.4 232.9 L1490.2 232.2 L1491.0 231.0 L1491.8 231.2 L1492.6 234.8 L1493.3 230.9 L1494.1 235.0 L1494.9 233.1 L1495.7 230.4 L1496.5 231.6 L1497.3 232.5 L1498.1 232.4 L1498.9 231.9 L1499.7 230.7 L1500.5 229.8 L1501.3 232.0 L1502.1 230.6 L1502.9 230.1 L1503.7 234.6 L1504.5 232.7 L1505.3 230.3 L1506.1 232.4 L1506.9 231.6 L1507.7 230.8 L1508.5 232.9 L1509.3 231.6 L1510.1 229.3 L1510.9 230.4 L1511.6 229.7 L1512.4 232.8 L1513.2 229.8 L1514.0 228.5 L1514.8 231.5 L1515.6 231.1 L1516.4 228.4 L1517.2 229.4 L1518.0 229.9 L1518.8 228.3 L1519.6 233.6 L1520.4 227.3 L1521.2 231.5 L1522.0 228.3 L1522.8 227.7 L1523.5 225.4 L1524.3 231.1 L1525.1 226.3 L1525.9 229.5 L1526.7 227.4 L1527.5 225.6 L1528.3 228.6 L1529.1 228.5 L1529.9 228.9 L1530.7 227.6 L1531.5 227.5 L1532.2 224.2 L1533.0 223.9 L1533.8 225.6 L1534.6 225.1 L1535.4 226.1 L1536.2 225.7 L1537.0 225.2 L1537.8 224.9 L1538.5 227.5 L1539.3 224.0 L1540.1 226.7 L1540.9 222.2 L1541.7 226.6 L1542.5 226.3 L1543.3 225.3 L1544.1 223.6 L1544.8 225.8 L1545.6 225.0 L1546.4 225.5 L1547.2 224.1 L1548.0 224.7 L1548.8 223.7 L1549.6 221.0 L1550.3 223.4 L1551.1 223.0 L1551.9 221.4 L1552.7 220.4 L1553.5 224.9 L1554.2 222.5 L1555.0 221.8 L1555.8 223.3 L1556.6 223.9 L1557.4 221.1 L1558.1 223.8 L1558.9 223.0 L1559.7 222.0 L1560.5 220.3 L1561.3 223.6 L1562.0 220.8 L1562.8 221.9 L1563.6 220.4 L1564.4 219.8 L1565.1 218.9 L1565.9 219.2 L1566.7 219.1 L1567.5 218.5 L1568.2 221.2 L1569.0 218.3 L1569.8 220.1 L1570.6 217.9 L1571.3 217.2 L1572.1 218.5 L1572.9 217.1 L1573.7 216.9 L1574.5 218.1 L1575.2 216.7 L1576.0 215.5 L1576.8 215.3 L1577.6 214.4 L1578.3 218.8 L1579.1 212.9 L1579.9 215.8 L1580.7 216.0 L1581.4 215.4 L1582.2 214.2 L1583.0 215.6 L1583.7 214.5 L1584.5 213.9 L1585.3 213.9 L1586.1 214.0 L1586.8 212.3 L1587.6 214.0 L1588.4 214.6 L1589.1 214.0 L1589.9 214.0 L1590.6 212.4 L1591.4 209.5 L1592.2 210.9 L1592.9 212.5 L1593.7 210.9 L1594.4 209.7 L1595.2 209.2 L1596.0 211.8 L1596.7 209.8 L1597.5 209.0 L1598.2 209.8 L1599.0 210.2 L1599.7 208.8 L1600.4 207.8 L1601.2 207.9 L1601.9 207.3 L1602.7 209.4 L1603.4 205.7 L1604.1 206.6 L1604.9 206.1 L1605.6 205.7 L1606.3 204.6 L1607.1 205.8 L1607.8 206.7 L1608.5 205.8 L1609.3 202.7 L1610.0 203.1 L1610.7 203.4 L1611.5 204.0 L1612.2 201.2 L1612.9 198.7 L1613.6 202.9 L1614.4 202.8 L1615.1 200.8 L1615.8 199.3 L1616.5 198.5 L1617.3 201.3 L1618.0 199.6 L1618.7 201.0 L1619.4 200.0 L1620.1 201.1 L1620.9 199.5 L1621.6 197.8 L1622.3 198.0 L1623.0 198.6 L1623.7 197.6 L1624.4 197.7 L1625.1 197.5 L1625.8 194.9 L1626.5 195.3 L1627.2 195.4 L1627.9 195.5 L1628.6 194.7 L1629.3 193.8 L1630.0 193.0 L1630.7 192.3 L1631.4 195.1 L1632.1 192.0 L1632.8 192.8 L1633.5 191.9 L1634.2 189.5 L1634.9 190.9 L1635.6 190.6 L1636.3 188.5 L1636.9 188.4 L1637.6 189.0 L1638.3 189.2 L1639.0 188.1 L1639.7 189.2 L1640.3 187.1 L1641.0 186.7 L1641.7 187.0 L1642.3 184.4 L1643.0 185.2 L1643.7 184.4 L1644.3 183.9 L1645.0 183.4 L1645.7 183.4 L1646.3 182.8 L1647.0 182.7 L1647.6 181.8 L1648.2 181.9 L1648.9 180.5 L1649.5 180.4 L1650.2 180.3 L1650.8 180.5 L1651.4 177.9 L1652.1 176.7 L1652.7 178.9 L1653.3 177.5 L1653.9 174.8 L1654.5 176.5 L1655.2 173.6 L1655.8 172.8 L1656.4 175.4 L1657.0 172.7 L1657.6 173.8 L1658.2 172.2 L1658.8 170.0 L1659.4 171.1 L1660.0 171.5 L1660.6 172.7 L1661.2 169.9 L1661.8 167.5 L1662.4 167.0 L1663.0 169.0 L1663.6 167.0 L1664.2 165.2 L1664.8 165.2 L1665.4 165.9 L1666.0 166.1 L1666.6 164.1 L1667.2 164.4 L1667.8 164.5 L1668.3 164.7 L1668.9 163.8 L1669.5 162.5 L1670.1 160.5 L1670.7 162.1 L1671.2 158.3 L1671.8 160.6 L1672.4 160.2 L1672.9 159.6 L1673.5 158.7 L1674.0 157.1 L1674.6 158.4 L1675.1 154.8 L1675.7 154.5 L1676.3 153.7 L1676.8 153.4 L1677.4 154.3 L1677.9 152.5 L1678.5 152.4 L1679.0 149.9 L1679.5 151.2 L1680.1 152.0 L1680.6 150.3 L1681.2 150.1 L1681.7 148.8 L1682.3 148.1 L1682.8 145.8 L1683.4 146.0 L1683.9 147.0 L1684.5 147.7 L1685.0 144.3 L1685.6 143.4 L1686.1 144.7 L1686.7 143.1 L1687.2 143.8 L1687.8 141.8 L1688.3 140.9 L1688.9 140.4 L1689.4 139.2 L1690.0 138.7 L1690.5 139.4 L1691.1 138.6 L1691.6 138.5 L1692.2 137.0 L1692.7 137.9 L1693.3 134.3 L1693.8 135.2 L1694.4 134.1 L1694.9 134.6 L1695.4 131.9 L1696.0 133.4 L1696.5 130.7 L1697.0 132.1 L1697.6 129.8 L1698.1 130.5 L1698.6 128.8 L1699.1 129.6 L1699.6 127.5 L1700.1 125.8 L1700.6 127.2 L1701.1 125.6 L1701.6 124.8 L1702.1 124.5 L1702.5 124.1 L1703.0 124.9 L1703.5 123.6 L1704.0 121.4 L1704.5 122.5 L1704.9 121.0 L1705.4 118.7 L1705.9 118.9 L1706.4 119.6 L1706.8 118.4 L1707.3 117.6 L1707.8 117.7 L1708.3 114.9 L1708.7 115.2 L1709.2 115.3 L1709.7 115.3 L1710.2 113.6 L1710.6 113.8 L1711.1 113.4 L1711.6 111.4 L1712.1 110.6 L1712.6 109.7 L1713.1 110.3 L1713.6 108.0 L1714.1 108.8 L1714.6 106.2 L1715.0 106.7 L1715.5 106.1 L1716.0 108.7 L1716.6 107.7 L1717.1 106.6 L1717.7 107.9 L1718.2 107.9 L1718.6 110.0 L1718.9 110.7 L1719.0 111.7 L1719.0 112.8 L1719.0 113.6 L1719.1 114.4 L1719.1 115.1 L1719.1 116.0 L1719.1 116.7 L1719.2 117.5 L1719.2 118.3 L1719.2 119.1 L1719.2 119.9 L1719.2 120.7 L1719.2 121.5 L1719.3 122.3 L1719.3 123.1 L1719.3 123.9 L1719.3 124.7 L1719.3 125.5 L1719.3 126.3 L1719.3 127.1 L1719.3 127.9 L1719.3 128.7 L1719.4 129.5 L1719.4 130.3 L1719.4 131.1 L1719.4 131.9 L1719.4 132.7 L1719.4 133.5 L1719.4 134.3 L1719.4 135.1 L1719.4 135.9 L1719.4 136.7 L1719.4 137.5 L1719.4 138.3 L1719.4 139.1 L1719.4 139.9 L1719.4 140.7 L1719.4 141.5 L1719.4 142.3 L1719.4 143.1 L1719.4 143.9 L1719.4 144.7 L1719.4 145.5 L1719.4 146.3 L1719.4 147.1 L1719.4 147.9 L1719.4 148.7 L1719.4 149.5 L1719.4 150.3 L1719.3 151.1 L1719.3 151.9 L1719.3 152.7 L1719.3 153.5 L1719.3 154.3 L1719.3 155.1 L1719.3 155.9 L1719.3 156.7 L1719.3 157.5 L1719.3 158.3 L1719.3 159.1 L1719.2 159.9 L1719.2 160.7 L1719.2 161.5 L1719.2 162.4 L1719.2 163.1 L1719.2 163.9 L1719.2 164.7 L1719.2 165.5 L1719.1 166.3 L1719.1 167.2 L1719.1 167.9 L1719.1 168.7 L1719.1 169.6 L1719.1 170.4 L1719.1 171.1 L1719.0 171.9 L1719.0 172.7 L1719.0 173.6 L1719.0 174.4 L1719.0 175.2 L1719.0 175.9 L1719.0 176.8 L1718.9 177.6 L1718.9 178.4 L1718.9 179.2 L1718.9 180.0 L1718.9 180.8 L1718.9 181.6 L1718.8 182.4 L1718.8 183.2 L1718.8 184.0 L1718.8 184.8 L1718.8 185.6 L1718.8 186.4 L1718.7 187.2 L1718.7 188.0 L1718.7 188.8 L1718.7 189.6 L1718.7 190.4 L1718.7 191.2 L1718.7 192.0 L1718.6 192.9 L1718.6 193.6 L1718.6 194.3 L1718.6 195.2 L1718.6 196.0 L1718.6 196.8 L1718.5 197.6 L1718.5 198.4 L1718.5 199.2 L1718.5 200.0 L1718.5 200.8 L1718.5 201.6 L1718.5 202.5 L1718.4 203.2 L1718.4 204.0 L1718.4 204.9 L1718.4 205.7 L1718.3 206.5 L1718.3 207.2 L1718.3 208.1 L1718.3 208.9 L1718.2 209.8 L1718.2 210.5 L1718.2 211.2 L1718.1 212.1 L1718.1 212.9 L1718.1 213.7 L1718.1 214.5 L1718.0 215.4 L1718.0 216.1 L1717.9 217.0 L1717.9 217.8 L1717.9 218.5 L1717.8 219.3 L1717.8 220.2 L1717.8 221.0 L1717.7 221.8 L1717.7 222.6 L1717.7 223.4 L1717.6 224.4 L1717.6 224.9 L1717.5 225.7 L1717.5 226.5 L1717.5 227.3 L1717.4 228.2 L1717.4 229.0 L1717.3 229.9 L1717.3 230.6 L1717.3 231.5 L1717.2 232.4 L1717.2 233.1 L1717.2 233.9 L1717.1 234.6 L1717.1 235.4 L1717.0 236.2 L1717.0 237.1 L1717.0 237.9 L1716.9 238.7 L1716.9 239.5 L1716.9 240.3 L1716.8 241.2 L1716.8 241.9 L1716.8 242.8 L1716.7 243.5 L1716.7 244.3 L1716.7 245.2 L1716.6 246.0 L1716.6 246.9 L1716.6 247.6 L1716.6 248.4 L1716.5 249.2 L1716.5 250.0 L1716.5 250.9 L1716.5 251.5 L1716.4 252.4 L1716.4 253.2 L1716.4 254.0 L1716.4 254.8 L1716.3 255.6 L1716.3 256.4 L1716.3 257.2 L1716.3 258.0 L1716.2 258.8 L1716.2 259.6 L1716.2 260.4 L1716.2 261.3 L1716.2 262.0 L1716.1 262.8 L1716.1 263.5 L1716.1 264.4 L1716.1 265.2 L1716.1 266.0 L1716.0 266.8 L1716.0 267.6 L1716.0 268.4 L1716.0 269.2 L1716.0 270.0 L1715.9 270.8 L1715.9 271.6 L1715.9 272.4 L1715.9 273.2 L1715.9 274.0 L1715.8 274.8 L1715.8 275.5 L1715.8 276.4 L1715.8 277.2 L1715.8 278.0 L1715.7 278.8 L1715.7 279.6 L1715.7 280.4 L1715.7 281.2 L1715.7 282.0 L1715.6 282.8 L1715.6 283.6 L1715.6 284.4 L1715.6 285.1 L1715.6 286.0 L1715.6 286.8 L1715.5 287.6 L1715.5 288.3 L1715.5 289.2 L1715.5 290.1 L1715.5 290.8 L1715.4 291.6 L1715.4 292.4 L1715.4 293.2 L1715.4 294.0 L1715.4 294.8 L1715.4 295.6 L1715.3 296.4 L1715.3 297.2 L1715.3 298.1 L1715.3 298.8 L1715.3 299.6 L1715.2 300.4 L1715.2 301.2 L1715.2 302.0 L1715.2 302.8 L1715.2 303.6 L1715.2 304.4 L1715.1 305.2 L1715.1 306.0 L1715.1 306.8 L1715.1 307.6 L1715.1 308.4 L1715.0 309.2 L1715.0 310.0 L1715.0 310.8 L1715.0 311.7 L1715.0 312.4 L1714.9 313.2 L1714.9 314.0 L1714.9 314.8 L1714.9 315.6 L1714.9 316.4 L1714.8 317.2 L1714.8 318.0 L1714.8 318.8 L1714.8 319.6 L1714.8 320.4 L1714.7 321.2 L1714.7 322.0 L1714.7 322.8 L1714.7 323.6 L1714.7 324.4 L1714.6 325.2 L1714.6 326.0 L1714.6 326.8 L1714.6 327.6 L1714.5 328.4 L1714.5 329.2 L1714.5 329.9 L1714.5 330.9 L1714.5 331.6 L1714.4 332.4 L1714.4 333.2 L1714.4 334.0 L1714.4 334.8 L1714.3 335.6 L1714.3 336.4 L1714.3 337.2 L1714.3 338.0 L1714.2 338.8 L1714.2 339.6 L1714.2 340.4 L1714.2 341.2 L1714.1 342.1 L1714.1 342.9 L1714.1 343.6 L1714.1 344.4 L1714.1 345.3 L1714.0 346.0 L1714.0 346.8 L1714.0 347.6 L1714.0 348.4 L1713.9 349.2 L1713.9 350.0 L1713.9 350.9 L1713.9 351.6 L1713.8 352.4 L1713.8 353.3 L1713.8 354.1 L1713.8 354.8 L1713.7 355.6 L1713.7 356.3 L1713.7 357.2 L1713.7 358.1 L1713.6 358.7 L1713.6 359.6 L1713.6 360.4 L1713.5 361.3 L1713.5 362.1 L1713.5 362.8 L1713.5 363.6 L1713.4 364.4 L1713.4 365.2 L1713.4 366.1 L1713.4 366.8 L1713.3 367.6 L1713.3 368.4 L1713.3 369.2 L1713.2 370.0 L1713.2 370.8 L1713.2 371.6 L1713.2 372.4 L1713.1 373.1 L1713.1 374.0 L1713.1 374.9 L1713.0 375.7 L1713.0 376.4 L1713.0 377.2 L1713.0 378.0 L1712.9 378.8 L1712.9 379.6 L1712.9 380.4 L1712.8 381.2 L1712.8 382.0 L1712.8 382.9 L1712.7 383.6 L1712.7 384.4 L1712.7 385.2 L1712.6 386.0 L1712.6 386.8 L1712.6 387.6 L1712.5 388.5 L1712.5 389.1 L1712.5 390.0 L1712.4 390.7 L1712.4 391.7 L1712.4 392.3 L1712.3 393.2 L1712.3 394.1 L1712.3 394.8 L1712.2 395.5 L1712.2 396.4 L1712.1 397.3 L1712.1 398.1 L1712.0 398.8 L1712.0 399.7 L1711.9 400.4 L1711.9 401.3 L1711.8 402.2 L1711.7 403.1 L1711.7 403.8 L1711.6 404.6 L1711.5 405.3 L1711.5 406.4 L1711.4 406.9 L1711.4 407.7 L1711.3 408.6 L1711.2 409.5 L1711.2 410.2 L1711.1 411.1 L1711.0 411.9 L1711.0 412.7 L1710.9 413.1 L1710.9 414.3 L1710.8 415.3 L1710.7 416.0 L1710.7 416.7 L1710.6 417.6 L1710.6 418.4 L1710.5 419.1 L1710.5 420.0 L1710.5 420.8 L1710.4 421.6 L1710.4 422.5 L1710.4 423.3 L1710.3 424.1 L1710.3 424.8 L1710.3 425.7 L1710.2 426.5 L1710.2 427.3 L1710.2 428.1 L1710.2 428.9 L1710.1 429.7 L1710.1 430.6 L1710.1 431.4 L1710.1 432.2 L1710.1 433.0 L1710.1 433.8 L1710.0 434.6 L1710.0 435.4 L1710.0 436.2 L1710.0 437.1 L1710.0 437.8 L1709.9 438.6 L1709.9 439.4 L1709.9 440.3 L1709.9 441.0 L1709.8 441.9 L1709.8 442.7 L1709.8 443.6 L1709.8 444.2 L1709.7 445.0 L1709.7 446.0 L1709.7 446.7 L1709.6 447.7 L1709.6 448.5 L1709.5 449.3 L1709.5 450.1 L1709.5 450.8 L1709.4 451.7 L1709.4 452.5 L1709.3 453.3 L1709.3 454.1 L1709.2 455.0 L1709.2 455.6 L1709.1 456.6 L1709.1 457.4 L1709.0 458.1 L1709.0 459.0 L1708.9 459.9 L1708.9 460.6 L1708.8 461.4 L1708.8 462.2 L1708.7 463.1 L1708.7 463.8 L1708.6 464.6 L1708.6 465.5 L1708.5 466.3 L1708.4 467.2 L1708.4 467.9 L1708.3 468.8 L1708.3 469.7 L1708.2 470.2 L1708.1 471.2 L1708.1 472.0 L1708.0 472.8 L1707.9 473.7 L1707.8 474.5 L1707.8 475.1 L1707.7 476.1 L1707.6 476.7 L1707.5 477.6 L1707.4 478.4 L1707.4 479.0 L1707.3 480.2 L1707.2 481.1 L1707.1 481.6 L1707.0 482.7 L1706.9 483.2 L1706.8 484.3 L1706.7 485.2 L1706.6 485.7 L1706.5 486.6 L1706.4 487.3 L1706.3 488.1 L1706.2 488.9 L1706.1 489.9 L1706.0 490.8 L1705.9 491.4 L1705.8 492.1 L1705.7 493.1 L1705.6 493.5 L1705.5 494.7 L1705.4 495.4 L1705.3 496.3 L1705.1 497.2 L1705.0 498.1 L1704.9 499.0 L1704.8 499.9 L1704.7 500.2 L1704.6 501.3 L1704.4 502.2 L1704.3 502.3 L1704.2 503.1 L1704.1 504.3 L1703.9 505.4 L1703.8 505.8 L1703.7 506.7 L1703.6 507.5 L1703.4 508.5 L1703.3 509.5 L1703.2 510.0 L1703.0 510.6 L1702.9 511.5 L1702.7 512.1 L1702.6 513.5 L1702.4 514.3 L1702.3 514.8 L1702.1 515.1 L1702.0 516.2 L1701.8 516.8 L1701.7 517.7 L1701.5 518.5 L1701.4 519.2 L1701.2 520.4 L1701.0 521.0 L1700.9 521.8 L1700.7 522.5 L1700.5 523.2 L1700.4 523.7 L1700.2 525.5 L1700.0 525.6 L1699.9 526.5 L1699.7 527.4 L1699.5 528.3 L1699.3 528.6 L1699.1 529.2 L1698.9 530.6 L1698.8 531.2 L1698.6 531.8 L1698.4 532.9 L1698.2 533.3 L1698.0 534.2 L1697.8 534.6 L1697.6 536.0 L1697.4 536.5 L1697.2 537.4 L1697.0 538.3 L1696.8 539.2 L1696.6 539.2 L1696.3 540.7 L1696.1 541.0 L1695.9 542.1 L1695.7 543.2 L1695.5 543.7 L1695.2 544.1 L1695.0 544.6 L1694.8 545.7 L1694.5 547.1 L1694.3 548.0 L1694.0 547.5 L1693.8 548.4 L1693.5 549.9 L1693.3 550.6 L1693.0 550.6 L1692.8 551.4 L1692.5 552.5 L1692.2 552.9 L1692.0 553.6 L1691.7 555.5 L1691.4 555.5 L1691.1 556.3 L1690.8 556.4 L1690.5 558.5 L1690.2 558.0 L1689.9 559.3 L1689.6 560.2 L1689.3 560.9 L1689.0 562.1 L1688.7 562.5 L1688.4 563.4 L1688.1 564.2 L1687.7 565.6 L1687.4 566.0 L1687.1 566.9 L1686.7 567.2 L1686.4 568.7 L1686.1 568.1 L1685.7 570.0 L1685.4 570.4 L1685.0 571.7 L1684.6 571.5 L1684.3 572.9 L1683.9 573.9 L1683.5 573.4 L1683.2 574.0 L1682.8 574.7 L1682.4 575.7 L1682.0 577.6 L1681.6 576.2 L1681.2 578.2 L1680.8 580.1 L1680.4 579.8 L1680.0 579.1 L1679.6 581.7 L1679.2 581.6 L1678.7 582.1 L1678.3 582.9 L1677.8 583.8 L1677.4 584.0 L1676.9 584.6 L1676.4 585.4 L1676.0 584.7 L1675.5 587.0 L1675.0 586.0 L1674.5 587.0 L1674.0 589.3 L1673.5 590.0 L1673.0 589.8 L1672.5 589.5 L1671.9 591.3 L1671.4 591.1 L1670.9 592.3 L1670.4 592.7 L1669.8 594.5 L1669.3 594.1 L1668.8 594.9 L1668.2 596.5 L1667.7 597.4 L1667.1 598.5 L1666.6 597.8 L1666.0 599.1 L1665.5 599.2 L1664.9 600.1 L1664.4 601.2 L1663.9 601.1 L1663.3 601.4 L1662.7 603.3 L1662.2 602.8 L1661.6 601.4 L1661.1 604.3 L1660.5 605.2 L1660.0 605.8 L1659.4 604.7 L1658.8 606.4 L1658.3 606.3 L1657.7 608.3 L1657.1 606.3 L1656.6 610.0 L1656.0 610.9 L1655.4 610.8 L1654.8 610.5 L1654.2 608.9 L1653.6 611.0 L1653.1 611.9 L1652.5 613.4 L1651.9 612.3 L1651.3 613.0 L1650.7 614.7 L1650.1 613.9 L1649.5 615.1 L1648.9 616.7 L1648.3 616.6 L1647.6 615.5 L1647.0 619.0 L1646.4 616.7 L1645.8 619.8 L1645.2 618.4 L1644.5 620.6 L1643.9 620.2 L1643.3 618.6 L1642.6 620.4 L1642.0 622.4 L1641.4 621.4 L1640.7 623.7 L1640.1 621.9 L1639.4 623.5 L1638.7 622.2 L1638.1 626.4 L1637.4 626.7 L1636.7 624.1 L1636.1 624.3 L1635.4 627.2 L1634.7 627.2 L1634.0 627.2 L1633.3 629.0 L1632.6 627.7 L1631.9 627.9 L1631.3 629.3 L1630.6 627.9 L1629.9 628.8 L1629.2 629.5 L1628.5 630.8 L1627.8 630.8 L1627.1 632.6 L1626.4 633.1 L1625.7 630.7 L1625.0 631.2 L1624.3 632.4 L1623.6 633.8 L1622.9 634.5 L1622.2 632.3 L1621.5 634.7 L1620.8 632.9 L1620.1 636.0 L1619.4 635.8 L1618.7 638.1 L1617.9 638.0 L1617.2 638.8 L1616.5 636.3 L1615.8 638.2 L1615.1 638.2 L1614.4 638.6 L1613.7 639.6 L1613.0 638.4 L1612.2 639.1 L1611.5 640.7 L1610.8 640.8 L1610.1 641.5 L1609.4 640.7 L1608.6 641.2 L1607.9 642.5 L1607.2 641.9 L1606.5 643.2 L1605.7 641.9 L1605.0 643.8 L1604.3 643.9 L1603.5 644.7 L1602.8 647.8 L1602.0 645.2 L1601.3 644.9 L1600.5 646.2 L1599.8 646.4 L1599.1 647.5 L1598.3 645.6 L1597.6 648.7 L1596.8 648.3 L1596.1 647.2 L1595.3 647.8 L1594.6 648.6 L1593.8 649.3 L1593.1 652.0 L1592.3 650.1 L1591.6 649.8 L1590.8 649.5 L1590.0 650.2 L1589.3 650.0 L1588.5 653.4 L1587.7 653.3 L1587.0 653.3 L1586.2 653.0 L1585.4 650.7 L1584.7 651.8 L1583.9 652.9 L1583.1 655.0 L1582.4 652.3 L1581.6 654.3 L1580.8 653.2 L1580.1 653.7 L1579.3 652.4 L1578.5 654.0 L1577.7 656.1 L1577.0 655.7 L1576.2 656.9 L1575.4 655.6 L1574.6 655.3 L1573.9 657.2 L1573.1 655.5 L1572.3 658.4 L1571.5 658.5 L1570.7 657.2 L1570.0 656.0 L1569.2 657.0 L1568.4 655.9 L1567.6 658.1 L1566.8 656.3 L1566.0 657.8 L1565.2 660.0 L1564.5 659.3 L1563.7 659.8 L1562.9 660.3 L1562.1 662.2 L1561.3 660.0 L1560.5 659.4 L1559.7 661.5 L1558.9 661.3 L1558.1 662.3 L1557.4 662.8 L1556.6 660.1 L1555.8 662.6 L1555.0 663.1 L1554.2 662.0 L1553.4 661.0 L1552.6 659.1 L1551.8 663.9 L1551.0 660.1 L1550.2 662.3 L1549.4 662.9 L1548.6 661.9 L1547.8 663.6 L1547.0 664.1 L1546.2 665.2 L1545.4 663.5 L1544.6 664.1 L1543.8 664.6 L1543.0 665.0 L1542.2 663.5 L1541.4 664.1 L1540.6 665.8 L1539.8 664.5 L1539.0 665.3 L1538.2 666.0 L1537.4 666.0 L1536.7 665.6 L1535.9 665.3 L1535.1 665.6 L1534.3 665.1 L1533.5 668.6 L1532.7 667.2 L1531.9 664.0 L1531.1 665.4 L1530.3 665.4 L1529.5 667.2 L1528.7 665.4 L1527.9 667.2 L1527.1 666.0 L1526.3 666.2 L1525.5 667.8 L1524.7 667.2 L1523.9 666.1 L1523.1 669.9 L1522.3 666.5 L1521.5 666.3 L1520.7 666.5 L1519.9 668.7 L1519.1 666.7 L1518.3 666.3 L1517.5 668.8 L1516.7 666.3 L1515.9 667.0 L1515.1 670.9 L1514.3 669.4 L1513.5 669.1 L1512.7 670.3 L1511.9 669.7 L1511.1 666.9 L1510.3 667.8 L1509.5 670.0 L1508.7 668.9 L1507.9 670.3 L1507.1 669.5 L1506.3 668.4 L1505.5 670.3 L1504.7 671.4 L1503.9 667.8 L1503.1 668.3 L1502.3 669.6 L1501.5 670.3 L1500.7 670.7 L1499.9 671.1 L1499.1 671.2 L1498.3 671.4 L1497.5 668.1 L1496.7 670.5 L1495.9 671.3 L1495.1 669.0 L1494.3 669.6 L1493.5 670.8 L1492.7 669.5 L1491.9 672.5 L1491.1 671.9 L1490.3 671.2 L1489.5 671.5 L1488.7 671.0 L1487.9 672.7 L1487.1 672.9 L1486.3 672.4 L1485.5 671.0 L1484.7 672.2 L1483.9 670.6 L1483.1 672.3 L1482.3 671.7 L1481.5 671.9 L1480.7 671.9 L1479.9 672.9 L1479.1 671.8 L1478.3 672.4 L1477.5 671.3 L1476.7 672.6 L1475.9 674.7 L1475.1 671.9 L1474.3 674.2 L1473.5 672.6 L1472.7 672.4 L1471.9 671.6 L1471.1 673.6 L1470.3 675.6 L1469.5 676.3 L1468.7 673.7 L1467.9 675.0 L1467.1 674.7 L1466.3 674.4 L1465.5 673.3 L1464.7 674.8 L1463.9 673.1 L1463.1 675.2 L1462.3 673.5 L1461.5 677.6 L1460.7 673.5 L1459.9 677.4 L1459.1 675.3 L1458.3 675.4 L1457.5 675.0 L1456.7 674.8 L1455.9 673.4 L1455.1 675.7 L1454.3 676.2 L1453.5 675.6 L1452.7 675.4 L1452.0 677.1 L1451.2 673.5 L1450.4 676.4 L1449.6 676.3 L1448.8 677.1 L1448.0 675.7 L1447.2 674.7 L1446.4 676.2 L1445.6 679.4 L1444.8 678.7 L1444.0 676.2 L1443.2 678.8 L1442.4 677.7 L1441.6 677.5 L1440.8 675.5 L1440.0 675.6 L1439.2 676.4 L1438.4 674.8 L1437.6 679.4 L1436.8 677.9 L1436.0 678.5 L1435.2 677.3 L1434.4 678.1 L1433.6 676.8 L1432.8 677.6 L1432.0 679.2 L1431.2 677.5 L1430.4 678.7 L1429.6 679.3 L1428.8 677.1 L1428.0 678.7 L1427.2 680.4 L1426.4 679.3 L1425.6 679.6 L1424.8 680.1 L1424.0 676.8 L1423.2 679.5 L1422.4 677.1 L1421.6 678.7 L1420.8 678.6 L1420.0 678.2 L1419.2 680.8 L1418.4 678.3 L1417.6 679.8 L1416.8 677.8 L1416.0 678.5 L1415.2 679.2 L1414.4 679.6 L1413.6 680.7 L1412.8 677.7 L1412.0 681.9 L1411.2 680.1 L1410.4 680.5 L1409.6 679.4 L1408.8 681.0 L1408.0 680.1 L1407.2 680.0 L1406.4 681.4 L1405.6 677.5 L1404.8 681.2 L1404.0 681.4 L1403.2 680.3 L1402.4 680.1 L1401.6 680.9 L1400.8 681.4 L1400.0 681.6 L1399.2 681.6 L1398.4 681.3 L1397.6 680.4 L1396.8 680.4 L1396.0 682.4 L1395.2 680.3 L1394.4 679.8 L1393.6 681.4 L1392.8 679.7 L1391.9 679.6 L1391.1 681.0 L1390.3 680.1 L1389.5 680.6 L1388.7 682.0 L1387.9 682.5 L1387.1 679.9 L1386.3 679.7 L1385.5 681.8 L1384.7 679.1 L1383.9 681.9 L1383.1 681.5 L1382.3 681.0 L1381.5 681.7 L1380.7 683.9 L1379.9 682.9 L1379.1 683.3 L1378.3 680.7 L1377.5 680.0 L1376.7 681.9 L1375.9 681.5 L1375.1 679.8 L1374.3 681.5 L1373.5 682.0 L1372.7 683.1 L1371.9 680.0 L1371.1 682.0 L1370.2 682.7 L1369.4 681.3 L1368.6 682.1 L1367.8 679.6 L1367.0 679.5 L1366.2 683.0 L1365.4 683.0 L1364.6 681.9 L1363.8 680.4 L1363.0 681.6 L1362.2 682.8 L1361.4 682.1 L1360.6 681.4 L1359.8 681.5 L1359.0 685.8 L1358.2 681.0 L1357.4 684.3 L1356.6 682.1 L1355.8 683.8 L1355.0 683.6 L1354.2 683.2 L1353.4 680.3 L1352.6 681.9 L1351.8 681.7 L1351.0 682.8 L1350.2 683.6 L1349.3 684.9 L1348.5 684.7 L1347.7 685.7 L1346.9 683.8 L1346.1 683.4 L1345.3 683.1 L1344.5 684.1 L1343.7 683.8 L1342.9 682.2 L1342.1 685.3 L1341.3 685.4 L1340.5 681.9 L1339.7 684.1 L1338.9 684.4 L1338.1 685.6 L1337.3 681.6 L1336.5 683.7 L1335.7 684.9 L1334.9 684.3 L1334.1 684.1 L1333.3 684.3 L1332.5 685.0 L1331.7 684.1 L1330.9 684.4 L1330.1 685.7 L1329.3 684.4 L1328.5 682.2 L1327.6 683.9 L1326.8 686.4 L1326.0 686.0 L1325.2 684.1 L1324.4 683.7 L1323.6 684.2 L1322.8 684.0 L1322.0 684.9 L1321.2 687.3 L1320.4 686.1 L1319.6 684.8 L1318.8 683.4 L1318.0 687.2 L1317.2 684.4 L1316.4 684.2 L1315.6 686.0 L1314.8 685.8 L1314.0 684.5 L1313.2 685.4 L1312.4 688.5 L1311.6 685.3 L1310.8 683.1 L1310.0 688.0 L1309.2 685.2 L1308.4 683.9 L1307.6 684.7 L1306.8 685.8 L1306.0 686.5 L1305.2 686.0 L1304.4 686.2 L1303.6 686.5 L1302.8 688.6 L1302.0 686.7 L1301.2 684.5 L1300.4 688.4 L1299.6 685.4 L1298.8 686.5 L1298.0 686.6 L1297.2 687.4 L1296.4 687.4 L1295.6 685.4 L1294.8 689.6 L1294.0 686.1 L1293.2 687.2 L1292.4 688.3 L1291.6 686.2 L1290.8 685.8 L1290.0 687.1 L1289.2 686.3 L1288.4 687.2 L1287.6 685.9 L1286.8 687.4 L1286.0 686.6 L1285.2 687.3 L1284.4 687.7 L1283.6 686.3 L1282.8 687.9 L1282.0 687.6 L1281.2 685.5 L1280.4 689.2 L1279.6 686.6 L1278.8 685.2 L1278.0 686.6 L1277.2 688.0 L1276.4 688.6 L1275.6 689.4 L1274.8 687.1 L1274.0 688.5 L1273.2 689.9 L1272.4 690.9 L1271.6 690.8 L1270.8 688.5 L1270.0 689.4 L1269.2 690.7 L1268.4 688.8 L1267.6 691.8 L1266.8 688.1 L1266.0 689.9 L1265.2 690.0 L1264.4 686.7 L1263.6 689.8 L1262.8 688.4 L1262.0 689.0 L1261.2 689.3 L1260.4 689.4 L1259.6 689.5 L1258.8 688.9 L1258.0 691.0 L1257.2 687.9 L1256.4 690.1 L1255.6 689.9 L1254.8 689.9 L1254.0 691.4 L1253.2 692.4 L1252.4 692.6 L1251.7 692.3 L1250.9 690.6 L1250.1 691.0 L1249.3 690.4 L1248.5 691.0 L1247.7 689.5 L1246.9 688.8 L1246.1 691.4 L1245.3 690.6 L1244.5 690.7 L1243.7 691.9 L1242.9 690.6 L1242.1 694.1 L1241.3 693.0 L1240.5 694.0 L1239.7 693.9 L1238.9 691.6 L1238.1 691.6 L1237.3 689.1 L1236.5 692.0 L1235.7 689.5 L1234.9 692.1 L1234.1 693.9 L1233.3 694.3 L1232.5 690.8 L1231.7 690.2 L1230.9 693.7 L1230.1 691.7 L1229.3 692.3 L1228.5 690.4 L1227.7 692.9 L1226.9 691.9 L1226.1 694.1 L1225.3 693.0 L1224.5 692.0 L1223.7 691.8 L1222.9 692.9 L1222.1 692.1 L1221.3 694.9 L1220.5 694.6 L1219.7 693.4 L1218.9 697.0 L1218.1 693.7 L1217.3 697.1 L1216.5 694.1 L1215.7 695.8 L1214.9 693.6 L1214.1 696.0 L1213.3 695.9 L1212.5 693.5 L1211.7 694.9 L1210.9 694.5 L1210.1 696.3 L1209.3 695.3 L1208.5 694.8 L1207.7 696.7 L1206.9 697.1 L1206.1 699.7 L1205.4 695.8 L1204.6 696.9 L1203.8 696.5 L1203.0 697.4 L1202.2 697.8 L1201.4 699.0 L1200.6 698.3 L1199.8 700.0 L1199.0 698.2 L1198.2 699.9 L1197.4 699.8 L1196.6 697.9 L1195.8 698.6 L1195.0 699.1 L1194.2 698.8 L1193.4 697.7 L1192.6 698.1 L1191.8 700.4 L1191.0 700.0 L1190.2 700.9 L1189.4 700.5 L1188.6 701.5 L1187.8 702.3 L1187.0 702.8 L1186.2 700.2 L1185.4 699.9 L1184.6 700.0 L1183.8 698.4 L1183.0 699.4 L1182.2 698.4 L1181.4 698.3 L1180.6 699.3 L1179.8 701.8 L1179.0 700.5 L1178.2 700.2 L1177.4 701.3 L1176.6 701.5 L1175.8 702.7 L1175.0 702.4 L1174.2 702.0 L1173.4 702.2 L1172.6 702.7 L1171.8 701.8 L1171.0 703.7 L1170.2 701.7 L1169.4 702.3 L1168.6 703.1 L1167.8 701.5 L1167.0 703.0 L1166.2 701.0 L1165.4 702.8 L1164.6 703.8 L1163.8 702.2 L1163.0 702.7 L1162.2 700.8 L1161.4 704.0 L1160.6 703.7 L1159.8 703.4 L1159.0 702.0 L1158.2 704.3 L1157.4 705.2 L1156.6 703.7 L1155.8 704.8 L1155.0 701.7 L1154.2 701.2 L1153.4 705.6 L1152.6 705.3 L1151.8 704.1 L1151.0 704.1 L1150.2 702.1 L1149.5 706.2 L1148.7 706.2 L1147.9 703.9 L1147.1 705.6 L1146.3 703.7 L1145.5 704.4 L1144.7 704.1 L1143.9 703.0 L1143.1 702.7 L1142.3 707.5 L1141.5 704.3 L1140.7 707.6 L1139.9 707.7 L1139.1 703.1 L1138.3 705.6 L1137.5 703.3 L1136.7 702.1 L1135.9 705.4 L1135.1 705.5 L1134.3 704.9 L1133.5 704.1 L1132.7 705.3 L1131.9 703.8 L1131.1 702.1 L1130.3 707.6 L1129.5 705.1 L1128.7 703.9 L1127.8 704.4 L1127.0 703.3 L1126.2 707.0 L1125.4 703.6 L1124.6 702.4 L1123.8 705.6 L1123.0 703.7 L1122.2 707.0 L1121.4 705.2 L1120.6 705.8 L1119.8 702.6 L1119.0 704.2 L1118.2 706.1 L1117.4 704.4 L1116.6 705.5 L1115.8 704.4 L1115.0 706.0 L1114.2 705.6 L1113.4 706.6 L1112.6 705.6 L1111.8 704.3 L1111.0 706.6 L1110.2 705.7 L1109.4 703.8 L1108.6 703.7 L1107.8 706.6 L1107.0 708.6 L1106.2 706.0 L1105.4 705.1 L1104.6 707.3 L1103.8 704.4 L1103.0 708.0 L1102.2 706.2 L1101.4 704.5 L1100.6 705.7 L1099.8 707.8 L1099.0 707.9 L1098.2 706.6 L1097.4 708.3 L1096.6 705.9 L1095.8 706.0 L1095.0 708.4 L1094.2 708.3 L1093.4 706.7 L1092.6 706.2 L1091.8 707.2 L1091.0 704.4 L1090.2 705.3 L1089.4 705.7 L1088.6 706.9 L1087.8 705.8 L1087.0 708.1 L1086.2 706.7 L1085.4 705.2 L1084.5 706.7 L1083.7 709.6 L1082.9 707.9 L1082.1 708.3 L1081.3 707.2 L1080.5 706.8 L1079.7 707.3 L1078.9 706.2 L1078.1 709.1 L1077.3 708.5 L1076.5 707.6 L1075.7 707.2 L1074.9 708.1 L1074.0 705.4 L1073.2 707.2 L1072.4 707.0 L1071.6 705.3 L1070.8 706.3 L1070.0 706.2 L1069.2 705.9 L1068.4 707.2 L1067.6 706.8 L1066.8 706.7 L1066.0 706.5 L1065.2 708.7 L1064.4 708.2 L1063.5 707.2 L1062.7 707.5 L1061.9 708.0 L1061.1 707.2 L1060.3 709.2 L1059.5 707.4 L1058.7 705.8 L1057.9 707.3 L1057.1 709.4 L1056.3 706.0 L1055.5 708.5 L1054.7 705.8 L1053.9 705.9 L1053.0 708.8 L1052.2 709.6 L1051.4 707.5 L1050.6 705.8 L1049.8 706.2 L1049.0 709.4 L1048.2 708.0 L1047.4 708.6 L1046.6 706.9 L1045.8 707.8 L1045.0 708.5 L1044.2 707.6 L1043.4 707.8 L1042.5 705.4 L1041.7 710.1 L1040.9 709.3 L1040.1 708.6 L1039.3 709.1 L1038.5 708.4 L1037.7 705.3 L1036.9 708.4 L1036.1 708.3 L1035.3 709.0 L1034.5 707.8 L1033.7 707.9 L1032.9 708.5 L1032.0 708.4 L1031.2 706.2 L1030.4 709.5 L1029.6 706.8 L1028.8 707.5 L1028.0 709.2 L1027.2 708.6 L1026.4 709.0 L1025.6 711.3 L1024.8 707.6 L1024.0 711.2 L1023.2 707.8 L1022.4 709.8 L1021.6 709.4 L1020.7 709.3 L1019.9 706.7 L1019.1 709.3 L1018.3 710.6 L1017.5 711.4 L1016.7 709.0 L1015.9 711.3 L1015.1 708.2 L1014.3 706.9 L1013.5 709.6 L1012.7 708.9 L1011.9 707.9 L1011.1 708.6 L1010.3 709.0 L1009.5 708.4 L1008.7 709.2 L1007.9 710.7 L1007.1 711.7 L1006.3 709.5 L1005.5 709.0 L1004.7 708.9 L1003.9 708.9 L1003.1 711.5 L1002.3 708.8 L1001.5 709.5 L1000.7 710.3 L999.9 710.7 L999.1 712.1 L998.3 708.3 L997.5 711.9 L996.7 710.6 L995.9 709.0 L995.1 710.9 L994.3 710.8 L993.5 710.4 L992.7 709.7 L991.9 711.8 L991.0 709.9 L990.2 708.0 L989.4 710.8 L988.6 708.7 L987.8 709.3 L987.0 708.7 L986.2 713.5 L985.4 712.9 L984.6 711.4 L983.8 709.5 L983.0 712.3 L982.2 709.1 L981.4 710.6 L980.6 710.1 L979.8 709.7 L979.0 712.6 L978.2 712.0 L977.4 712.3 L976.6 712.3 L975.8 713.0 L975.0 712.2 L974.2 710.3 L973.4 710.7 L972.6 712.4 L971.8 712.4 L971.0 713.3 L970.2 709.9 L969.4 712.4 L968.6 712.2 L967.8 711.8 L967.0 712.4 L966.2 711.3 L965.4 714.0 L964.6 711.7 L963.8 714.5 L963.0 713.0 L962.2 712.4 L961.4 710.8 L960.6 714.1 L959.8 714.7 L959.0 711.5 L958.2 711.9 L957.4 714.2 L956.6 716.2 L955.8 713.3 L955.1 712.0 L954.3 714.3 L953.5 714.3 L952.7 713.4 L951.9 715.1 L951.1 714.5 L950.3 715.4 L949.5 715.6 L948.7 714.2 L947.9 712.9 L947.1 715.8 L946.3 714.2 L945.5 714.2 L944.7 714.5 L943.9 713.5 L943.2 715.1 L942.4 715.8 L941.6 714.9 L940.8 714.8 L940.0 715.3 L939.2 715.2 L938.4 715.1 L937.6 715.2 L936.8 715.6 L936.0 716.7 L935.3 718.9 L934.5 716.9 L933.7 717.3 L932.9 714.9 L932.2 720.7 L931.4 716.9 L930.7 719.0 L929.9 718.6 L929.2 720.4 L928.4 718.6 L927.6 719.3 L926.9 719.4 L926.1 721.8 L925.3 719.2 L924.6 722.5 L923.8 718.9 L923.0 721.1 L922.2 720.9 L921.4 722.0 L920.6 722.1 L919.8 720.8 L919.0 721.2 L918.2 724.5 L917.4 723.9 L916.6 725.1 L915.8 722.7 L915.0 723.2 L914.2 725.0 L913.4 724.8 L912.6 722.8 L911.8 723.4 L911.0 723.0 L910.2 723.0 L909.4 723.3 L908.6 722.5 L907.8 723.1 L907.0 725.7 L906.2 726.5 L905.4 722.0 L904.6 724.6 L903.8 724.9 L903.0 724.5 L902.2 724.2 L901.4 722.4 L900.6 724.9 L899.8 723.6 L898.9 725.9 L898.1 723.7 L897.3 724.1 L896.5 724.8 L895.7 726.8 L894.9 724.2 L894.1 722.5 L893.3 723.0 L892.5 724.7 L891.6 725.2 L890.8 723.9 L890.0 726.1 L889.2 721.4 L888.4 725.4 L887.6 724.9 L886.8 724.8 L886.0 722.4 L885.2 723.6 L884.3 726.8 L883.5 725.2 L882.7 724.3 L881.9 723.1 L881.1 725.5 L880.3 723.1 L879.5 724.5 L878.7 724.4 L877.9 726.7 L877.1 727.6 L876.2 725.2 L875.4 724.2 L874.6 726.6 L873.8 726.2 L873.0 725.9 L872.2 723.8 L871.4 723.4 L870.6 724.9 L869.8 727.8 L869.0 722.8 L868.2 726.4 L867.4 725.5 L866.6 726.2 L865.8 726.1 L865.0 725.3 L864.2 727.6 L863.4 725.8 L862.6 725.9 L861.8 725.6 L861.0 726.5 L860.2 724.5 L859.4 727.6 L858.6 727.3 L857.8 727.3 L857.0 725.7 L856.2 726.3 L855.4 729.0 L854.6 726.2 L853.8 726.2 L853.0 725.7 L852.2 723.7 L851.4 725.5 L850.6 726.4 L849.8 727.1 L849.0 727.0 L848.2 725.1 L847.4 728.8 L846.6 726.9 L845.8 726.9 L845.0 724.6 L844.2 727.6 L843.4 726.6 L842.6 729.8 L841.8 728.9 L841.0 729.3 L840.2 728.6 L839.4 729.5 L838.6 730.7 L837.8 727.2 L837.0 730.0 L836.2 731.0 L835.4 726.3 L834.6 730.6 L833.8 727.8 L833.0 727.9 L832.2 728.6 L831.4 727.8 L830.6 730.6 L829.8 729.4 L829.0 730.2 L828.2 727.4 L827.4 729.3 L826.6 730.2 L825.8 730.1 L825.0 731.7 L824.2 730.6 L823.4 730.2 L822.6 730.7 L821.8 729.1 L821.0 731.2 L820.2 728.8 L819.3 730.4 L818.5 728.1 L817.7 730.6 L816.9 731.0 L816.1 730.8 L815.3 733.1 L814.5 729.7 L813.7 728.8 L812.9 731.3 L812.1 732.9 L811.3 731.2 L810.5 729.7 L809.7 731.0 L808.9 733.8 L808.1 728.8 L807.3 732.7 L806.5 731.9 L805.7 733.0 L804.9 731.3 L804.1 732.8 L803.3 733.8 L802.5 731.8 L801.7 730.9 L800.9 734.2 L800.1 732.0 L799.4 735.8 L798.6 733.9 L797.8 735.3 L797.0 733.0 L796.2 733.0 L795.4 735.1 L794.6 732.8 L793.8 736.7 L793.0 737.2 L792.2 732.3 L791.4 736.4 L790.6 732.8 L789.8 736.6 L789.1 736.1 L788.3 735.9 L787.5 735.1 L786.7 734.5 L785.9 736.9 L785.1 736.9 L784.3 736.0 L783.6 736.6 L782.8 735.1 L782.0 738.4 L781.2 737.3 L780.4 737.5 L779.7 737.4 L778.9 739.4 L778.1 736.1 L777.3 739.8 L776.6 738.0 L775.8 740.4 L775.0 740.4 L774.3 739.4 L773.5 739.9 L772.7 741.3 L771.9 740.3 L771.2 739.6 L770.4 741.8 L769.6 744.0 L768.9 742.6 L768.1 741.5 L767.3 743.0 L766.6 743.0 L765.8 744.8 L765.0 742.6 L764.3 743.7 L763.5 743.1 L762.8 744.9 L762.0 744.8 L761.2 745.8 L760.5 746.8 L759.7 745.7 L759.0 745.8 L758.2 748.1 L757.4 745.7 L756.7 745.7 L755.9 747.3 L755.2 747.8 L754.4 746.0 L753.7 747.0 L752.9 748.9 L752.2 747.9 L751.4 746.9 L750.7 751.0 L749.9 748.7 L749.2 749.7 L748.4 750.2 L747.7 750.9 L746.9 751.3 L746.2 751.2 L745.4 750.6 L744.7 751.7 L743.9 751.0 L743.2 751.5 L742.4 754.1 L741.7 752.8 L740.9 753.3 L740.2 753.2 L739.4 753.9 L738.6 754.6 L737.9 753.9 L737.1 755.0 L736.4 755.0 L735.6 756.7 L734.9 756.8 L734.1 758.5 L733.4 757.9 L732.6 756.4 L731.9 758.5 L731.1 758.5 L730.4 756.3 L729.7 759.9 L728.9 755.9 L728.2 756.4 L727.5 757.8 L726.7 761.9 L726.0 762.2 L725.3 760.3 L724.5 760.9 L723.8 761.5 L723.1 761.2 L722.4 761.6 L721.7 761.9 L721.0 763.0 L720.3 763.8 L719.6 764.6 L718.9 761.5 L718.2 764.0 L717.5 762.9 L716.9 765.2 L716.2 763.5 L715.5 766.9 L714.8 767.6 L714.2 764.8 L713.5 765.9 L712.8 767.6 L712.2 768.7 L711.5 768.8 L710.9 768.9 L710.2 769.1 L709.6 770.2 L708.9 767.9 L708.3 770.1 L707.6 770.0 L707.0 772.0 L706.4 772.5 L705.8 772.2 L705.1 773.1 L704.5 773.1 L703.9 774.1 L703.3 775.7 L702.7 776.3 L702.1 776.0 L701.5 775.6 L700.9 777.7 L700.3 777.4 L699.7 778.0 L699.1 778.7 L698.6 778.5 L698.0 777.7 L697.4 781.3 L696.9 780.8 L696.3 781.7 L695.8 781.5 L695.2 782.4 L694.7 782.5 L694.1 783.9 L693.6 785.1 L693.1 785.9 L692.5 786.0 L692.0 786.6 L691.5 786.3 L691.0 787.3 L690.4 788.8 L689.9 788.6 L689.4 789.8 L688.9 790.8 L688.4 789.9 L687.9 790.9 L687.4 791.4 L686.9 791.6 L686.3 792.6 L685.8 795.0 L685.3 794.8 L684.8 795.5 L684.3 796.2 L683.8 794.6 L683.3 796.1 L682.8 798.8 L682.3 799.1 L681.8 799.0 L681.3 800.3 L680.8 800.0 L680.3 801.7 L679.8 801.9 L679.3 802.0 L678.8 800.9 L678.3 805.1 L677.8 803.4 L677.3 805.1 L676.8 806.1 L676.4 805.0 L675.9 807.2 L675.4 806.6 L674.9 807.4 L674.4 809.4 L674.0 809.1 L673.5 810.5 L673.0 810.6 L672.5 812.4 L672.0 811.9 L671.6 813.0 L671.1 813.9 L670.6 813.2 L670.1 813.3 L669.6 815.4 L669.2 815.9 L668.7 815.9 L668.2 817.7 L667.7 816.7 L667.2 819.3 L666.7 818.5 L666.2 820.0 L665.7 819.5 L665.2 820.9 L664.7 821.8 L664.2 821.7 L663.7 823.6 L663.2 823.8 L662.7 823.5 L662.2 824.4 L661.7 823.5 L661.2 825.8 L660.7 826.8 L660.2 825.9 L659.7 826.9 L659.2 827.9 L658.7 830.3 L658.2 830.2 L657.7 829.5 L657.3 832.7 L656.8 831.5 L656.3 832.8 L655.8 832.9 L655.4 833.6 L654.9 833.5 L654.5 834.5 L654.0 836.4 L653.6 835.9 L653.1 837.4 L652.7 838.0 L652.3 838.1 L651.9 838.5 L651.4 839.4 L651.0 840.5 L650.6 840.9 L650.2 841.2 L649.8 843.5 L649.4 843.4 L649.0 845.1 L648.6 843.8 L648.3 845.7 L647.9 846.1 L647.5 847.1 L647.1 847.3 L646.7 848.8 L646.4 848.8 L646.0 849.7 L645.6 850.5 L645.3 851.6 L644.9 852.2 L644.5 851.9 L644.2 853.1 L643.8 854.9 L643.4 855.5 L643.1 855.8 L642.7 855.8 L642.3 857.2 L642.0 858.6 L641.6 858.7 L641.2 858.9 L640.9 859.7 L640.5 861.1 L640.1 860.4 L639.7 862.8 L639.4 863.3 L639.0 863.9 L638.6 865.3 L638.2 864.5 L637.8 866.0 L637.4 866.8 L637.0 866.3 L636.6 868.0 L636.2 868.1 L635.8 869.3 L635.4 869.9 L635.0 870.2 L634.6 872.0 L634.2 872.5 L633.8 872.6 L633.4 873.6 L633.0 873.9 L632.6 876.4 L632.2 875.7 L631.8 876.9 L631.4 876.7 L631.0 878.1 L630.6 878.2 L630.2 878.2 L629.8 880.4 L629.4 880.7 L629.0 882.2 L628.6 882.2 L628.2 883.4 L627.8 884.2 L627.4 883.6 L627.0 884.4 L626.6 886.0 L626.2 886.4 L625.8 888.6 L625.4 888.3 L625.0 888.2 L624.6 890.3 L624.2 890.6 L623.8 891.4 L623.4 893.1 L623.0 893.1 L622.7 893.7 L622.3 894.1 L621.9 894.7 L621.5 896.3 L621.1 895.4 L620.7 898.2 L620.3 898.3 L620.0 898.4 L619.6 898.8 L619.2 900.5 L618.8 899.4 L618.4 900.8 L618.1 902.9 L617.7 903.3 L617.3 904.0 L616.9 903.7 L616.6 905.1 L616.2 906.4 L615.8 906.0 L615.4 906.9 L615.0 908.4 L614.7 908.7 L614.3 909.4 L613.9 909.5 L613.5 910.4 L613.2 910.8 L612.8 912.1 L612.4 913.2 L612.0 913.8 L611.7 914.8 L611.3 914.1 L610.9 916.1 L610.5 916.7 L610.2 916.8 L609.8 917.8 L609.4 917.9 L609.1 917.9 L608.7 920.5 L608.4 920.4 L608.0 921.4 L607.6 921.7 L607.3 923.1 L606.9 923.4 L606.6 924.7 L606.3 923.8 L605.9 925.5 L605.6 927.0 L605.2 927.5 L604.9 928.6 L604.5 928.4 L604.2 928.9 L603.9 929.8 L603.5 930.8 L603.2 931.7 L602.8 932.3 L602.5 932.6 L602.1 932.7 L601.8 934.8 L601.4 935.5 L601.1 936.2 L600.7 937.8 L600.3 937.2 L600.0 938.2 L599.6 939.5 L599.2 939.5 L598.9 940.0 L598.5 940.9 L598.1 941.1 L597.7 942.3 L597.3 942.2 L596.9 944.1 L596.5 943.7 L596.0 944.4 L595.6 944.4 L595.2 945.5 L594.7 947.9 L594.3 948.6 L593.8 948.7 L593.4 950.1 L592.9 949.9 L592.5 950.1 L592.0 949.6 L591.5 951.7 L591.1 951.0 L590.6 954.3 L590.1 954.5 L589.6 954.6 L589.1 953.9 L588.6 955.9 L588.1 956.4 L587.6 957.9 L587.1 955.9 L586.6 958.9 L586.1 960.9 L585.6 960.1 L585.1 960.8 L584.6 960.5 L584.0 961.6 L583.5 963.4 L583.0 963.3 L582.4 965.0 L581.9 965.0 L581.4 963.8 L580.8 964.0 L580.3 966.6 L579.7 965.4 L579.2 966.1 L578.6 966.5 L578.1 967.8 L577.5 968.2 L576.9 969.7 L576.3 970.9 L575.7 969.8 L575.1 973.0 L574.5 971.5 L573.9 972.5 L573.2 972.3 L572.6 970.7 L572.0 973.8 L571.3 975.2 L570.7 974.2 L570.0 975.9 L569.3 974.6 L568.6 975.1 L568.0 975.7 L567.3 976.8 L566.6 976.7 L565.9 980.4 L565.2 979.1 L564.5 978.3 L563.8 981.7 L563.1 979.4 L562.4 981.4 L561.7 980.2 L561.0 981.3 L560.3 980.7 L559.6 981.0 L558.9 983.0 L558.2 980.0 L557.5 984.5 L556.8 982.7 L556.1 983.9 L555.4 985.1 L554.7 985.2 L553.9 984.2 L553.2 985.2 L552.5 988.1 L551.7 985.8 L551.0 987.5 L550.3 986.6 L549.5 986.5 L548.8 986.0 L548.0 986.8 L547.3 987.4 L546.5 986.4 L545.8 989.3 L545.0 987.2 L544.3 987.8 L543.5 991.2 L542.8 988.4 L542.0 989.4 L541.2 988.4 L540.4 990.6 L539.7 989.7 L538.9 991.6 L538.1 990.6 L537.3 990.6 L536.5 991.4 L535.7 989.3 L534.9 988.9 L534.1 988.7 L533.3 990.9 L532.5 990.7 L531.7 990.4 L530.9 992.4 L530.1 993.4 L529.3 991.1 L528.5 992.2 L527.7 993.6 L526.9 992.4 L526.0 991.8 L525.2 993.1 L524.4 992.5 L523.6 992.1 L522.8 991.7 L522.0 994.4 L521.2 995.6 L520.5 992.9 L519.7 993.1 L518.9 994.8 L518.1 993.6 L517.3 995.9 L516.5 997.0 L515.8 995.5 L515.0 995.7 L514.2 995.4 L513.5 996.1 L512.7 998.2 L512.0 995.1 L511.2 996.6 L510.5 997.1 L509.7 998.8 L509.0 998.0 L508.2 997.8 L507.5 999.8 L506.7 1000.1 L506.0 1001.3 L505.2 999.5 L504.5 1000.0 L503.7 998.9 L502.9 1000.9 L502.2 998.8 L501.4 999.4 L500.7 1002.3 L499.9 1001.7 L499.1 1002.8 L498.4 1002.7 L497.6 1002.1 L496.8 1004.4 L496.1 1005.2 L495.3 1003.8 L494.5 1003.1 L493.8 1003.8 L493.0 1005.4 L492.3 1004.9 L491.5 1006.2 L490.8 1006.5 L490.0 1005.7 L489.3 1006.5 L488.6 1007.7 L487.8 1007.3 L487.1 1007.6 L486.4 1009.1 L485.6 1007.3 L484.9 1007.2 L484.2 1008.9 L483.5 1008.0 L482.8 1010.3 L482.1 1010.7 L481.4 1010.7 L480.7 1010.3 L480.0 1009.6 L479.2 1009.1 L478.5 1010.6 L477.8 1012.3 L477.1 1013.1 L476.4 1013.2 L475.6 1016.2 L474.9 1013.1 L474.2 1015.6 L473.4 1017.4 L472.6 1015.8 L471.9 1016.2 L471.1 1018.1 L470.3 1016.2 L469.5 1016.5 L468.7 1015.3 L467.9 1015.5 L467.2 1014.6 L466.4 1018.2 L465.6 1017.2 L464.8 1015.0 L464.1 1017.8 L463.3 1020.6 L462.6 1018.5 L461.9 1018.4 L461.2 1018.4 L460.5 1019.6 L459.8 1021.3 L459.2 1021.0 L458.5 1021.6 L457.9 1022.7 L457.3 1022.5 L456.6 1025.0 L456.0 1024.6 L455.5 1024.9 L454.9 1023.7 L454.3 1025.6 L453.7 1024.8 L453.1 1024.9 L452.5 1027.2 L452.0 1027.9 L451.4 1028.1 L450.8 1030.0 L450.2 1028.7 L449.6 1029.9 L449.0 1032.0 L448.4 1032.1 L447.8 1032.2 L447.1 1034.1 L446.5 1033.0 L445.9 1032.7 L445.2 1035.3 L444.6 1036.2 L444.0 1035.1 L443.3 1036.5 L442.7 1037.3 L442.1 1037.5 L441.4 1039.1 L440.8 1038.1 L440.2 1038.5 L439.5 1039.7 L438.9 1039.2" fill="none" stroke="#f00" stroke-width="8.6" stroke-linejoin="round" stroke-linecap="butt" shape-rendering="crispEdges"/>
<path d="M435.0 1086.0 L435.0 1085.2 L435.0 1084.4 L435.0 1083.6 L435.0 1082.8 L435.0 1082.0 L435.0 1081.2 L435.0 1080.3 L435.0 1079.5 L435.0 1078.7 L435.0 1077.9 L435.0 1077.1 L435.0 1076.3 L435.0 1075.5 L435.0 1074.7 L435.0 1073.9 L435.0 1073.1 L435.0 1072.3 L435.0 1071.5 L435.0 1070.7 L435.0 1069.9 L435.0 1069.1 L435.0 1068.2 L435.1 1067.4 L435.1 1066.6 L435.1 1065.8 L435.1 1065.0 L435.1 1064.2 L435.1 1063.4 L435.1 1062.6 L435.1 1061.8 L435.1 1061.0 L435.1 1060.2 L435.1 1059.4 L435.1 1058.6 L435.1 1057.8 L435.1 1056.9 L435.1 1056.1 L435.1 1055.3 L435.1 1054.5 L435.1 1053.7 L435.1 1052.9 L435.1 1052.1 L435.1 1051.3 L435.1 1050.5 L435.1 1049.7 L435.1 1048.9 L435.1 1048.1 L435.1 1047.3 L435.1 1046.5 L435.1 1045.6 L435.0 1044.8 L435.0 1044.0 L435.0 1043.2 L435.0 1042.4 L435.0 1041.6 L435.0 1040.8 L435.0 1040.0 L435.0 1039.2 L435.0 1038.4 L435.0 1037.6 L435.0 1036.8 L434.9 1036.0 L434.9 1035.2 L434.9 1034.4 L434.9 1033.5 L434.9 1032.8 L434.8 1032.0 L434.8 1031.2 L434.8 1030.4 L434.8 1029.6 L434.8 1028.8 L434.7 1028.0 L434.7 1027.2 L434.7 1026.4 L434.7 1025.6 L434.6 1024.8 L434.6 1024.0 L434.6 1023.2 L434.6 1022.4 L434.5 1021.6 L434.5 1020.8 L434.5 1020.0 L434.5 1019.2 L434.4 1018.4 L434.4 1017.6 L434.4 1016.8 L434.3 1016.0 L434.3 1015.2 L434.3 1014.4 L434.3 1013.6 L434.3 1012.8 L434.2 1012.1 L434.2 1011.2 L434.2 1010.3 L434.2 1009.6 L434.1 1008.8 L434.1 1007.9 L434.1 1007.2 L434.1 1006.4 L434.1 1005.6 L434.1 1004.8 L434.0 1004.0 L434.0 1003.2 L434.0 1002.4 L434.0 1001.6 L434.0 1000.8 L434.0 1000.0 L434.0 999.2 L434.0 998.4 L434.0 997.6 L434.0 996.8 L434.0 996.0 L434.0 995.2 L434.0 994.4 L434.0 993.6 L434.0 992.8 L434.0 992.0 L433.9 991.2 L433.9 990.4 L433.9 989.6 L433.9 988.8 L433.9 988.0 L433.9 987.2 L433.9 986.4 L433.9 985.6 L433.9 984.8 L433.9 984.0 L433.9 983.2 L433.9 982.4 L433.9 981.6 L433.9 980.8 L433.9 980.0 L433.9 979.2 L433.9 978.4 L433.9 977.6 L433.9 976.8 L433.9 976.0 L433.9 975.2 L433.9 974.4 L433.9 973.6 L433.9 972.8 L433.9 972.0 L433.9 971.2 L433.9 970.4 L433.9 969.6 L433.9 968.8 L433.9 968.0 L433.9 967.2 L433.9 966.4 L433.9 965.6 L433.9 964.8 L433.9 964.0 L433.9 963.2 L433.9 962.4 L433.9 961.6 L433.9 960.8 L433.9 960.0 L433.9 959.2 L433.9 958.4 L433.9 957.6 L433.9 956.8 L433.9 956.0 L433.9 955.2 L433.9 954.4 L433.9 953.6 L433.9 952.8 L433.9 952.0 L433.9 951.2 L433.9 950.4 L433.9 949.6 L433.9 948.8 L433.9 948.0 L433.9 947.2 L433.9 946.4 L433.9 945.6 L433.9 944.8 L433.9 944.0 L433.9 943.2 L433.9 942.4 L433.9 941.6 L433.9 940.8 L433.9 940.0 L433.9 939.2 L433.9 938.4 L433.9 937.6 L433.9 936.8 L433.9 936.0 L433.9 935.2 L433.9 934.4 L433.9 933.6 L433.9 932.8 L434.0 932.0 L434.0 931.2 L434.0 930.4 L434.0 929.6 L434.0 928.8 L434.0 928.0 L434.0 927.2 L434.0 926.4 L434.0 925.6 L434.0 924.8 L434.0 924.0 L434.0 923.2 L434.0 922.4 L434.0 921.6 L434.0 920.8 L434.0 920.0 L434.0 919.2 L434.0 918.4 L434.0 917.6 L434.0 916.8 L434.0 916.0 L434.0 915.2 L434.0 914.4 L434.0 913.6 L434.0 912.8 L434.0 912.0 L434.0 911.2 L434.0 910.4 L434.0 909.6 L434.0 908.8 L434.0 908.0 L434.0 907.2 L434.0 906.4 L434.0 905.6 L434.0 904.8 L434.0 904.0 L434.0 903.2 L434.0 902.4 L434.0 901.6 L434.0 900.8 L434.0 900.0 L434.0 899.2 L434.0 898.4 L434.0 897.6 L434.0 896.8 L434.0 896.0 L434.0 895.2 L434.0 894.4 L434.0 893.6 L434.0 892.8 L434.0 892.0 L434.0 891.2 L434.0 890.4 L434.0 889.6 L434.0 888.8 L434.0 888.0 L434.0 887.2 L434.0 886.3 L434.0 885.5 L434.0 884.7 L434.0 883.9 L434.0 883.1 L434.0 882.3 L434.0 881.5 L434.0 880.7 L434.0 879.9 L434.0 879.1 L434.0 878.3 L434.0 877.5 L434.0 876.7 L434.0 875.9 L434.0 875.1 L434.0 874.3 L434.0 873.5 L434.0 872.7 L434.0 871.9 L434.0 871.1 L434.0 870.3 L434.0 869.5 L434.0 868.7 L434.0 867.9 L434.0 867.1 L434.0 866.3 L434.0 865.5 L434.0 864.7 L434.0 863.9 L434.0 863.1 L434.0 862.3 L434.0 861.5 L434.0 860.7 L434.0 859.9 L434.0 859.1 L434.0 858.2 L433.9 857.4 L433.9 856.6 L433.9 855.8 L433.9 855.0 L433.9 854.2 L433.9 853.4 L433.9 852.6 L433.9 851.8 L433.9 851.0 L433.9 850.2 L433.9 849.4 L433.9 848.6 L433.9 847.8 L433.9 847.0 L433.9 846.2 L433.9 845.4 L433.9 844.6 L433.9 843.8 L433.9 843.0 L433.9 842.2 L433.9 841.4 L433.9 840.6 L433.9 839.8 L433.9 839.0 L433.9 838.2 L433.9 837.4 L433.9 836.6 L433.9 835.8 L433.9 835.0 L433.9 834.2 L433.9 833.4 L433.9 832.6 L433.9 831.8 L433.9 830.9 L433.9 830.1 L433.9 829.3 L433.9 828.5 L433.9 827.7 L433.9 826.9 L433.9 826.1 L433.9 825.3 L433.9 824.5 L433.9 823.7 L433.9 822.9 L433.9 822.1 L433.9 821.3 L433.9 820.5 L433.9 819.7 L433.9 818.9 L433.9 818.1 L433.9 817.3 L433.9 816.5 L433.9 815.7 L433.9 814.9 L433.9 814.1 L433.9 813.3 L433.9 812.5 L433.9 811.7 L433.9 810.9 L433.9 810.1 L433.9 809.3 L433.9 808.5 L433.9 807.7 L433.9 806.9 L433.9 806.0 L433.9 805.2 L433.9 804.5 L433.9 803.7 L433.9 802.8 L434.0 802.0 L434.0 801.2 L434.0 800.4 L434.0 799.6 L434.0 798.8 L434.0 798.0 L434.0 797.2 L434.0 796.4 L434.0 795.6 L434.0 794.8 L434.0 794.0 L434.0 793.2 L434.0 792.4 L434.0 791.6 L434.0 790.8 L434.0 790.0 L434.0 789.2 L434.0 788.4 L434.0 787.6 L434.0 786.8 L434.0 786.0 L434.0 785.2 L434.0 784.4 L434.0 783.6 L434.0 782.8 L434.1 782.0 L434.1 781.1 L434.1 780.4 L434.1 779.6 L434.1 778.8 L434.1 777.9 L434.1 777.1 L434.1 776.4 L434.1 775.5 L434.1 774.8 L434.1 773.9 L434.1 773.1 L434.1 772.3 L434.2 771.5 L434.2 770.7 L434.2 769.9 L434.2 769.1 L434.2 768.3 L434.2 767.5 L434.2 766.7 L434.2 765.9 L434.2 765.1 L434.2 764.3 L434.2 763.5 L434.3 762.7 L434.3 761.9 L434.3 761.1 L434.3 760.2 L434.3 759.5 L434.3 758.7 L434.3 757.8 L434.3 757.1 L434.3 756.2 L434.4 755.5 L434.4 754.6 L434.4 753.8 L434.4 753.0 L434.4 752.2 L434.4 751.4 L434.4 750.6 L434.4 749.8 L434.4 749.0 L434.5 748.2 L434.5 747.4 L434.5 746.6 L434.5 745.8 L434.5 745.0 L434.5 744.2 L434.5 743.4 L434.5 742.6 L434.5 741.8 L434.6 741.0 L434.6 740.2 L434.6 739.4 L434.6 738.6 L434.6 737.7 L434.6 737.0 L434.6 736.1 L434.6 735.3 L434.6 734.6 L434.7 733.8 L434.7 732.9 L434.7 732.2 L434.7 731.3 L434.7 730.5 L434.7 729.7 L434.7 728.9 L434.7 728.1 L434.7 727.3 L434.7 726.5 L434.8 725.7 L434.8 724.9 L434.8 724.1 L434.8 723.3 L434.8 722.5 L434.8 721.7 L434.8 720.9 L434.8 720.1 L434.8 719.3 L434.8 718.5 L434.9 717.7 L434.9 716.9 L434.9 716.1 L434.9 715.3 L434.9 714.5 L434.9 713.7 L434.9 712.8 L434.9 712.1 L434.9 711.3 L434.9 710.4 L434.9 709.7 L434.9 708.8 L434.9 708.0 L435.0 707.2 L435.0 706.4 L435.0 705.6 L435.0 704.8 L435.0 704.0 L435.0 703.2 L435.0 702.4 L435.0 701.6 L435.0 700.8 L435.0 700.0 L435.0 699.2 L435.0 698.4 L435.0 697.6 L435.0 696.8 L435.0 696.0 L435.0 695.2 L435.0 694.4 L435.0 693.6 L435.0 692.8 L435.0 692.0 L435.0 691.2 L435.0 690.4 L435.0 689.6 L435.0 688.8 L435.0 688.0 L435.1 687.2 L435.1 686.4 L435.1 685.6 L435.1 684.8 L435.1 684.0 L435.1 683.2 L435.1 682.4 L435.1 681.6 L435.1 680.8 L435.1 680.0 L435.1 679.2 L435.1 678.4 L435.1 677.6 L435.1 676.8 L435.1 676.0 L435.1 675.2 L435.1 674.4 L435.1 673.6 L435.1 672.8 L435.1 672.0 L435.1 671.2 L435.1 670.4 L435.1 669.6 L435.1 668.8 L435.1 668.0 L435.1 667.2 L435.1 666.4 L435.1 665.6 L435.1 664.8 L435.1 664.0 L435.1 663.2 L435.1 662.4 L435.1 661.6 L435.1 660.8 L435.1 660.0 L435.1 659.2 L435.1 658.4 L435.1 657.6 L435.1 656.8 L435.1 656.0 L435.1 655.2 L435.1 654.4 L435.1 653.6 L435.1 652.8 L435.1 652.0 L435.1 651.2 L435.1 650.4 L435.1 649.6 L435.1 648.8 L435.1 648.0 L435.1 647.2 L435.1 646.4 L435.0 645.6 L435.0 644.8 L435.0 644.0 L435.0 643.2 L435.0 642.4 L435.0 641.6 L435.0 640.8 L435.0 640.0 L435.0 639.2 L435.0 638.4 L435.0 637.6 L435.0 636.8 L435.0 636.0 L435.0 635.2 L435.0 634.4 L435.0 633.6 L435.0 632.8 L435.0 632.0 L435.0 631.2 L435.0 630.4 L435.0 629.6 L435.0 628.8 L435.0 628.0 L435.0 627.2 L435.0 626.4 L435.0 625.6 L435.0 624.8 L435.0 624.0 L435.0 623.2 L435.0 622.4 L435.0 621.6 L435.0 620.8 L435.0 620.0 L435.0 619.2 L435.0 618.4 L435.0 617.6 L435.0 616.8 L435.0 616.0 L435.0 615.2 L435.0 614.4 L435.0 613.6 L435.0 612.8 L435.0 612.0 L435.0 611.2 L435.0 610.4 L435.0 609.6 L435.0 608.8 L435.0 608.0 L435.0 607.2 L435.0 606.4 L435.0 605.6 L435.0 604.8 L435.0 604.0 L435.0 603.2 L435.0 602.4 L435.0 601.6 L435.0 600.8 L435.0 600.0 L435.0 599.2 L435.0 598.4 L435.0 597.6 L435.0 596.8 L435.0 596.0 L435.0 595.2 L435.0 594.4 L435.0 593.5 L435.0 592.7 L435.0 591.9 L435.0 591.2 L434.9 590.3 L434.9 589.5 L434.9 588.7 L434.9 587.9 L434.9 587.1 L434.9 586.3 L434.9 585.5 L434.9 584.7 L434.9 583.9 L434.9 583.1 L434.9 582.3 L434.9 581.5 L434.9 580.7 L434.9 579.9 L434.9 579.1 L434.9 578.3 L434.9 577.5 L434.9 576.6 L434.9 575.9 L434.9 575.1 L434.9 574.2 L434.9 573.4 L434.9 572.6 L435.0 571.8 L435.0 571.0 L435.0 570.2 L435.0 569.5 L435.0 568.7 L435.1 567.8 L435.1 567.0 L435.1 566.2 L435.2 565.4 L435.2 564.5 L435.2 563.8 L435.3 563.0 L435.3 562.2 L435.3 561.4 L435.4 560.5 L435.4 559.6 L435.5 559.0 L435.5 558.2 L435.5 557.4 L435.6 556.6 L435.6 555.8 L435.7 555.0 L435.7 554.1 L435.8 553.3 L435.8 552.6 L435.9 551.9 L435.9 551.1 L435.9 550.2 L436.0 549.4 L436.0 548.4 L436.1 547.9 L436.1 547.0 L436.2 546.2 L436.2 545.4 L436.3 544.6 L436.3 543.8 L436.4 543.0 L436.5 542.2 L436.5 541.3 L436.6 540.6 L436.6 539.9 L436.7 539.0 L436.7 538.3 L436.8 537.3 L436.8 536.5 L436.9 535.8 L436.9 535.0 L437.0 534.1 L437.0 533.4 L437.1 532.5 L437.2 531.7 L437.2 531.0 L437.3 530.2 L437.3 529.6 L437.4 528.7 L437.4 527.8 L437.5 527.0 L437.5 526.0 L437.6 525.6 L437.7 524.5 L437.7 523.8 L437.8 523.2 L437.8 522.2 L437.9 521.4 L437.9 520.6 L438.0 519.8 L438.0 518.9 L438.1 518.2 L438.1 517.5 L438.2 516.7 L438.2 515.9 L438.3 514.9 L438.4 514.3 L438.4 513.5 L438.5 512.7 L438.5 511.6 L438.6 510.9 L438.6 510.2 L438.7 509.3 L438.7 508.4 L438.8 507.7 L438.8 506.7 L438.9 506.0 L438.9 505.2 L439.0 504.4 L439.0 503.4 L439.1 502.8 L439.2 501.8 L439.2 500.9 L439.3 500.2 L439.3 499.5 L439.4 498.6 L439.4 497.9 L439.5 496.9 L439.6 496.3 L439.6 495.2 L439.7 494.7 L439.7 493.9 L439.8 493.1 L439.9 491.9 L439.9 491.4 L440.0 490.4 L440.0 489.7 L440.1 488.8 L440.2 488.0 L440.2 487.4 L440.3 486.4 L440.4 485.7 L440.4 484.9 L440.5 484.0 L440.6 483.2 L440.7 482.2 L440.7 481.5 L440.8 480.8 L440.9 480.0 L441.0 478.9 L441.1 478.1 L441.1 477.3 L441.2 476.5 L441.3 475.8 L441.4 475.0 L441.5 474.3 L441.6 473.0 L441.7 472.6 L441.8 471.8 L441.9 471.2 L442.0 470.3 L442.1 469.4 L442.2 468.0 L442.3 467.7 L442.4 466.8 L442.5 466.3 L442.7 465.0 L442.8 464.4 L442.9 463.6 L443.0 462.7 L443.1 462.0 L443.2 461.2 L443.4 460.1 L443.5 459.6 L443.6 458.5 L443.7 457.7 L443.9 456.9 L444.0 456.6 L444.1 455.4 L444.3 454.5 L444.4 453.8 L444.6 452.7 L444.7 452.2 L444.8 451.4 L445.0 450.2 L445.2 449.8 L445.3 449.0 L445.5 447.9 L445.6 447.6 L445.8 446.8 L445.9 446.0 L446.1 444.3 L446.2 444.1 L446.4 443.7 L446.5 443.2 L446.7 442.0 L446.9 441.5 L447.0 439.7 L447.2 439.3 L447.3 438.8 L447.5 437.9 L447.7 437.1 L447.9 436.0 L448.0 436.0 L448.2 434.8 L448.4 434.5 L448.6 433.5 L448.7 432.5 L448.9 431.4 L449.1 431.0 L449.3 430.6 L449.5 429.5 L449.7 428.4 L449.9 427.3 L450.1 426.6 L450.3 426.3 L450.5 425.8 L450.7 424.5 L450.9 423.7 L451.1 422.5 L451.4 422.2 L451.6 421.7 L451.8 420.0 L452.0 420.3 L452.3 419.8 L452.5 417.7 L452.7 417.4 L452.9 416.8 L453.2 415.3 L453.4 415.7 L453.7 414.1 L453.9 414.0 L454.1 412.7 L454.4 411.7 L454.6 411.7 L454.9 410.2 L455.1 409.3 L455.4 408.5 L455.7 407.7 L455.9 407.5 L456.2 406.3 L456.5 405.9 L456.8 404.8 L457.0 404.1 L457.3 403.1 L457.6 401.3 L457.9 401.7 L458.2 400.9 L458.5 400.1 L458.8 399.4 L459.1 399.1 L459.5 397.9 L459.8 397.8 L460.1 396.0 L460.5 395.1 L460.9 394.7 L461.2 394.2 L461.6 393.7 L462.0 393.3 L462.3 393.2 L462.7 391.9 L463.1 390.5 L463.5 390.3 L463.9 388.5 L464.3 389.6 L464.7 388.0 L465.1 388.4 L465.4 386.3 L465.8 386.8 L466.2 385.2 L466.6 384.6 L467.0 384.4 L467.4 382.1 L467.8 380.7 L468.1 380.0 L468.5 380.7 L468.9 379.9 L469.2 378.9 L469.6 377.6 L469.9 377.0 L470.2 375.7 L470.6 375.6 L470.9 375.7 L471.2 374.4 L471.6 372.6 L471.9 372.1 L472.2 372.2 L472.6 371.1 L472.9 371.4 L473.2 370.8 L473.6 369.3 L473.9 368.0 L474.2 367.5 L474.6 366.1 L474.9 365.7 L475.3 366.1 L475.6 363.9 L476.0 363.8 L476.4 363.7 L476.7 362.8 L477.1 361.2 L477.5 360.8 L477.9 361.9 L478.3 359.2 L478.7 358.9 L479.1 358.1 L479.5 359.4 L479.9 357.0 L480.4 356.9 L480.8 355.5 L481.3 354.7 L481.7 353.8 L482.2 354.6 L482.7 353.2 L483.1 350.8 L483.6 353.1 L484.1 350.9 L484.6 352.1 L485.1 350.3 L485.6 349.0 L486.1 349.9 L486.6 348.1 L487.2 349.5 L487.7 347.0 L488.2 345.5 L488.7 346.7 L489.3 343.9 L489.8 344.6 L490.3 343.8 L490.8 344.2 L491.4 343.0 L491.9 341.5 L492.4 343.0 L493.0 340.6 L493.5 340.5 L494.0 339.7 L494.6 340.6 L495.1 339.2 L495.7 336.9 L496.2 337.8 L496.7 335.6 L497.3 334.0 L497.8 335.5 L498.4 333.9 L498.9 333.2 L499.5 333.2 L500.0 332.9 L500.6 332.8 L501.1 331.8 L501.7 332.5 L502.3 329.6 L502.8 331.3 L503.4 330.0 L503.9 329.0 L504.5 328.7 L505.1 326.2 L505.7 327.2 L506.2 325.5 L506.8 326.0 L507.4 325.4 L508.0 325.6 L508.6 323.8 L509.2 323.2 L509.8 323.2 L510.4 321.8 L511.0 323.7 L511.6 323.4 L512.2 321.3 L512.9 318.1 L513.5 319.1 L514.1 319.4 L514.8 317.8 L515.4 317.3 L516.0 318.8 L516.7 316.4 L517.3 318.3 L518.0 314.6 L518.7 314.3 L519.3 316.7 L520.0 315.1 L520.7 314.8 L521.3 314.4 L522.0 314.3 L522.7 311.8 L523.4 314.7 L524.0 313.7 L524.7 310.5 L525.4 312.2 L526.1 310.8 L526.8 311.9 L527.4 311.3 L528.1 309.2 L528.8 308.9 L529.5 308.7 L530.2 307.8 L530.9 306.6 L531.6 308.5 L532.3 306.1 L533.0 308.1 L533.7 307.2 L534.4 306.3 L535.1 305.9 L535.8 305.2 L536.5 304.1 L537.2 302.4 L538.0 303.9 L538.7 305.0 L539.4 302.1 L540.1 301.6 L540.8 303.0 L541.6 303.1 L542.3 301.3 L543.0 302.3 L543.7 298.6 L544.5 301.2 L545.2 299.3 L545.9 300.5 L546.6 300.9 L547.3 299.6 L548.1 300.3 L548.8 299.4 L549.5 297.1 L550.2 296.0 L550.9 295.1 L551.6 295.5 L552.3 294.2 L553.0 294.5 L553.7 297.4 L554.4 294.9 L555.1 294.0 L555.8 294.4 L556.5 294.6 L557.2 293.3 L557.9 293.4 L558.6 291.2 L559.3 290.1 L560.0 293.0 L560.7 291.9 L561.4 289.1 L562.1 287.9 L562.8 288.7 L563.5 289.3 L564.1 287.9 L564.8 290.7 L565.5 288.8 L566.2 288.9 L566.9 287.4 L567.6 287.1 L568.3 284.6 L569.0 285.7 L569.7 283.6 L570.4 284.5 L571.1 287.4 L571.8 284.0 L572.5 284.5 L573.2 284.2 L573.9 283.6 L574.6 282.3 L575.3 283.6 L576.0 283.1 L576.7 281.3 L577.4 281.3 L578.2 281.6 L578.9 282.2 L579.6 278.7 L580.3 281.6 L581.0 280.7 L581.7 279.2 L582.4 279.2 L583.1 276.5 L583.9 277.1 L584.6 276.6 L585.3 277.3 L586.0 275.6 L586.7 275.7 L587.4 276.4 L588.2 276.7 L588.9 277.4 L589.6 276.5 L590.3 276.1 L591.0 273.5 L591.7 275.8 L592.4 271.9 L593.2 273.7 L593.9 272.4 L594.6 271.0 L595.3 273.2 L596.0 272.3 L596.7 268.6 L597.4 269.4 L598.2 268.2 L598.9 268.9 L599.6 269.5 L600.3 270.9 L601.0 270.0 L601.7 267.3 L602.4 267.8 L603.1 266.4 L603.8 269.0 L604.5 266.6 L605.2 266.8 L605.9 264.1 L606.6 264.7 L607.3 264.0 L608.0 265.0 L608.7 261.6 L609.4 264.4 L610.1 263.4 L610.8 262.4 L611.5 259.9 L612.2 262.5 L612.9 261.4 L613.6 260.4 L614.3 261.6 L615.0 260.8 L615.6 260.4 L616.3 258.2 L617.0 258.7 L617.7 258.0 L618.4 257.1 L619.1 257.6 L619.8 258.1 L620.5 256.2 L621.2 257.0 L621.9 256.6 L622.6 253.0 L623.3 256.2 L624.0 254.9 L624.7 255.4 L625.4 253.5 L626.1 254.3 L626.8 252.2 L627.5 252.0 L628.2 252.3 L628.9 251.8 L629.6 250.0 L630.3 253.7 L631.0 252.0 L631.7 250.6 L632.4 251.3 L633.1 250.5 L633.8 248.2 L634.5 248.6 L635.1 249.2 L635.8 248.5 L636.5 249.9 L637.2 245.7 L637.9 246.9 L638.6 247.2 L639.3 247.3 L640.0 245.8 L640.7 245.7 L641.4 243.8 L642.1 242.8 L642.8 244.5 L643.5 242.8 L644.2 243.2 L644.9 242.3 L645.6 243.0 L646.3 241.1 L647.0 242.2 L647.6 239.6 L648.3 240.7 L649.0 239.2 L649.7 242.5 L650.4 239.1 L651.1 238.1 L651.8 240.3 L652.5 237.1 L653.2 236.2 L653.9 236.8 L654.6 237.5 L655.3 235.7 L656.0 235.1 L656.6 235.0 L657.3 234.6 L658.0 233.4 L658.7 234.5 L659.4 233.3 L660.1 233.2 L660.8 233.6 L661.5 232.3 L662.1 231.5 L662.8 229.8 L663.5 231.8 L664.2 230.3 L664.9 231.5 L665.6 230.1 L666.3 228.8 L667.0 227.9 L667.7 229.5 L668.4 225.4 L669.0 229.4 L669.7 226.5 L670.4 226.1 L671.1 225.5 L671.8 225.3 L672.6 226.1 L673.3 227.0 L674.0 225.7 L674.7 226.8 L675.4 224.3 L676.1 220.9 L676.8 222.5 L677.5 224.7 L678.3 223.6 L679.0 223.2 L679.7 222.1 L680.4 221.3 L681.2 220.7 L681.9 217.9 L682.6 217.9 L683.3 221.6 L684.1 220.1 L684.8 217.2 L685.5 218.3 L686.3 218.4 L687.0 217.6 L687.7 219.1 L688.5 218.1 L689.2 217.5 L690.0 216.9 L690.7 216.0 L691.5 217.4 L692.2 214.7 L692.9 217.8 L693.7 214.9 L694.4 212.8 L695.2 215.3 L695.9 213.9 L696.7 215.6 L697.5 212.3 L698.2 214.2 L699.0 213.7 L699.7 210.9 L700.5 214.2 L701.3 209.6 L702.0 213.4 L702.8 212.4 L703.5 209.4 L704.3 210.7 L705.1 211.4 L705.8 210.3 L706.6 209.3 L707.4 208.8 L708.2 212.0 L708.9 208.2 L709.7 209.6 L710.5 207.7 L711.3 208.7 L712.1 208.5 L712.8 208.7 L713.6 208.2 L714.4 207.8 L715.2 206.8 L716.0 206.0 L716.8 209.4 L717.6 206.5 L718.4 205.8 L719.2 206.8 L719.9 205.0 L720.7 206.3 L721.5 206.8 L722.3 209.1 L723.1 208.2 L723.9 206.0 L724.7 204.7 L725.5 208.0 L726.3 205.2 L727.1 205.8 L727.9 202.8 L728.7 206.7 L729.5 199.9 L730.3 205.1 L731.1 207.8 L731.9 203.1 L732.7 205.2 L733.5 203.9 L734.4 207.3 L735.2 205.0 L736.0 204.3 L736.8 204.1 L737.6 203.0 L738.4 204.3 L739.2 203.8 L740.0 203.3 L740.8 201.4 L741.7 205.1 L742.5 202.7 L743.3 205.0 L744.1 203.4 L744.9 202.9 L745.7 201.7 L746.5 204.6 L747.4 204.2 L748.2 203.3 L749.0 203.7 L749.8 203.6 L750.6 204.0 L751.4 205.0 L752.2 203.3 L753.0 202.6 L753.8 206.1 L754.6 201.1 L755.4 200.9 L756.2 201.0 L757.1 204.9 L757.9 204.8 L758.7 204.8 L759.5 204.9 L760.3 203.5 L761.1 204.3 L761.9 205.9 L762.7 202.5 L763.5 204.0 L764.3 205.2 L765.1 206.0 L765.9 205.4 L766.7 204.2 L767.5 205.3 L768.4 206.3 L769.2 205.5 L770.0 202.1 L770.8 202.8 L771.6 207.6 L772.4 208.2 L773.2 206.7 L774.0 207.7 L774.8 207.1 L775.6 207.1 L776.4 204.8 L777.2 205.5 L778.0 206.6 L778.8 208.7 L779.6 206.8 L780.4 205.3 L781.3 207.4 L782.1 205.8 L782.9 208.0 L783.7 206.5 L784.5 206.7 L785.3 207.6 L786.1 208.6 L786.9 206.5 L787.7 206.7 L788.5 205.5 L789.3 208.8 L790.1 207.6 L790.9 205.3 L791.7 205.7 L792.5 206.9 L793.3 206.6 L794.1 206.3 L795.0 207.4 L795.8 209.8 L796.6 209.1 L797.4 210.2 L798.2 206.5 L799.0 209.2 L799.8 209.1 L800.6 211.7 L801.4 211.5 L802.2 209.7 L803.0 208.8 L803.8 210.1 L804.6 208.0 L805.5 209.1 L806.3 210.7 L807.1 209.0 L807.9 209.5 L808.7 208.4 L809.5 209.2 L810.3 208.9 L811.1 210.7 L811.9 207.4 L812.7 209.4 L813.5 208.2 L814.4 210.8 L815.2 211.4 L816.0 211.7 L816.8 209.3 L817.6 212.3 L818.4 213.0 L819.2 210.5 L820.0 211.7 L820.8 210.9 L821.6 213.1 L822.5 211.9 L823.3 212.6 L824.1 209.4 L824.9 209.0 L825.7 211.2 L826.5 209.3 L827.3 209.8 L828.1 212.8 L829.0 210.9 L829.8 211.2 L830.6 211.7 L831.4 208.7 L832.2 213.0 L833.0 214.3 L833.8 211.2 L834.7 212.1 L835.5 213.7 L836.3 210.8 L837.1 210.6 L837.9 212.3 L838.7 210.6 L839.5 212.9 L840.4 209.9 L841.2 211.5 L842.0 211.1 L842.8 210.6 L843.6 208.9 L844.4 212.5 L845.2 213.4 L846.1 210.1 L846.9 210.1 L847.7 210.8 L848.5 209.3 L849.3 212.3 L850.1 210.9 L851.0 210.0 L851.8 212.2 L852.6 209.8 L853.4 213.8 L854.2 212.0 L855.0 212.3 L855.8 210.1 L856.7 210.6 L857.5 209.7 L858.3 210.3 L859.1 209.8 L859.9 212.9 L860.7 211.5 L861.6 209.0 L862.4 209.8 L863.2 211.0 L864.0 209.2 L864.8 212.6 L865.6 212.7 L866.4 211.6 L867.2 211.1 L868.0 213.1 L868.8 209.4 L869.6 211.1 L870.4 212.3 L871.2 212.8 L872.0 211.5 L872.8 210.0 L873.6 210.4 L874.4 208.3 L875.2 211.2 L876.0 210.4 L876.8 210.9 L877.6 210.0 L878.4 209.6 L879.2 211.9 L880.0 209.3 L880.8 208.1 L881.6 210.5 L882.4 211.0 L883.2 209.6 L884.0 210.9 L884.8 208.4 L885.6 210.0 L886.4 210.4 L887.2 208.5 L888.0 207.4 L888.8 211.0 L889.7 208.4 L890.5 210.1 L891.3 210.3 L892.1 208.5 L892.9 210.2 L893.7 209.7 L894.5 212.2 L895.3 211.4 L896.1 213.3 L896.9 208.9 L897.7 209.7 L898.5 211.1 L899.3 210.4 L900.1 211.2 L900.9 211.6 L901.7 212.0 L902.5 211.8 L903.3 211.8 L904.1 208.1 L904.9 210.2 L905.7 210.8 L906.5 208.4 L907.3 210.1 L908.1 212.3 L908.9 207.2 L909.7 212.2 L910.5 209.4 L911.3 208.7 L912.1 210.9 L912.9 208.6 L913.7 210.0 L914.5 209.7 L915.3 209.6 L916.1 210.6 L916.9 210.2 L917.7 209.5 L918.5 210.1 L919.3 210.0 L920.1 209.7 L920.9 210.9 L921.7 210.2 L922.5 209.9 L923.3 209.5 L924.1 209.1 L924.9 209.3 L925.7 208.6 L926.5 210.0 L927.3 210.3 L928.1 210.8 L928.9 210.8 L929.7 211.0 L930.5 211.0 L931.3 208.9 L932.1 209.5 L932.9 211.6 L933.7 209.7 L934.5 211.4 L935.3 209.4 L936.1 210.2 L936.9 211.1 L937.7 210.0 L938.6 209.4 L939.4 211.3 L940.2 209.1 L941.0 209.6 L941.8 210.7 L942.6 210.1 L943.4 209.6 L944.2 212.0 L945.0 210.3 L945.8 210.0 L946.6 211.9 L947.4 210.5 L948.2 212.0 L949.0 211.7 L949.8 209.2 L950.6 208.7 L951.4 209.1 L952.2 208.8 L953.0 208.8 L953.8 207.2 L954.6 209.7 L955.4 209.6 L956.2 211.3 L957.0 207.6 L957.8 211.7 L958.6 208.5 L959.4 211.7 L960.2 209.4 L961.0 210.2 L961.8 211.0 L962.6 209.0 L963.4 207.1 L964.2 211.1 L965.0 210.0 L965.8 208.7 L966.6 212.0 L967.4 209.7 L968.2 211.5 L969.0 211.3 L969.8 212.2 L970.6 212.1 L971.4 210.4 L972.2 212.2 L973.0 210.6 L973.8 211.9 L974.6 210.9 L975.4 211.0 L976.2 211.6 L977.0 209.8 L977.8 209.6 L978.6 210.6 L979.4 208.0 L980.2 210.4 L981.0 210.7 L981.8 210.5 L982.6 211.8 L983.4 210.3 L984.2 209.1 L985.0 210.6 L985.8 208.9 L986.6 211.1 L987.4 211.4 L988.2 210.7 L989.0 210.6 L989.8 210.7 L990.6 213.1 L991.4 209.8 L992.2 210.6 L993.0 211.2 L993.8 210.8 L994.6 208.8 L995.4 210.8 L996.2 209.5 L997.0 211.7 L997.8 212.3 L998.6 211.8 L999.4 210.9 L1000.2 211.1 L1001.0 211.9 L1001.8 211.8 L1002.6 210.4 L1003.4 213.0 L1004.2 208.7 L1005.0 211.0 L1005.8 212.3 L1006.6 212.9 L1007.4 209.9 L1008.2 212.7 L1009.0 211.5 L1009.8 212.3 L1010.7 211.1 L1011.5 210.7 L1012.3 210.8 L1013.1 211.7 L1013.9 209.3 L1014.7 208.5 L1015.5 208.5 L1016.3 212.2 L1017.1 211.6 L1017.9 210.8 L1018.7 211.1 L1019.5 211.2 L1020.3 212.4 L1021.1 212.4 L1021.9 214.5 L1022.7 211.7 L1023.5 212.0 L1024.3 211.9 L1025.1 211.6 L1025.9 212.6 L1026.7 212.9 L1027.5 209.4 L1028.3 210.5 L1029.1 211.3 L1029.9 210.9 L1030.7 212.3 L1031.5 211.7 L1032.3 213.4 L1033.1 212.1 L1033.9 210.9 L1034.7 210.9 L1035.5 211.7 L1036.3 213.4 L1037.1 213.7 L1037.9 213.7 L1038.7 212.3 L1039.5 210.9 L1040.3 212.9 L1041.1 211.6 L1041.9 212.3 L1042.7 213.7 L1043.5 209.3 L1044.3 211.8 L1045.1 212.5 L1045.9 213.4 L1046.7 212.8 L1047.5 212.9 L1048.3 212.8 L1049.1 212.2 L1049.9 211.4 L1050.7 213.1 L1051.5 213.3 L1052.3 213.4 L1053.1 214.9 L1053.9 211.4 L1054.7 214.7 L1055.5 213.3 L1056.3 213.3 L1057.1 213.3 L1057.9 211.5 L1058.7 212.1 L1059.5 213.7 L1060.3 214.3 L1061.1 214.4 L1061.9 215.6 L1062.7 213.0 L1063.5 212.4 L1064.3 214.0 L1065.1 212.2 L1065.9 215.1 L1066.7 213.1 L1067.5 210.9 L1068.3 213.2 L1069.2 213.2 L1070.0 210.8 L1070.8 212.3 L1071.6 212.1 L1072.4 209.6 L1073.2 212.1 L1074.0 211.2 L1074.8 211.2 L1075.6 212.9 L1076.4 211.2 L1077.2 213.5 L1078.0 213.0 L1078.9 210.9 L1079.7 213.2 L1080.5 211.0 L1081.3 210.4 L1082.1 212.3 L1082.9 215.2 L1083.7 211.8 L1084.5 212.6 L1085.3 212.8 L1086.1 212.1 L1086.9 212.8 L1087.7 214.1 L1088.6 210.8 L1089.4 211.4 L1090.2 214.9 L1091.0 209.4 L1091.8 212.2 L1092.6 210.7 L1093.4 212.8 L1094.2 212.3 L1095.0 213.4 L1095.8 213.0 L1096.6 210.1 L1097.4 214.9 L1098.3 214.1 L1099.1 211.0 L1099.9 212.6 L1100.7 211.5 L1101.5 210.9 L1102.3 210.8 L1103.1 212.6 L1103.9 209.4 L1104.7 213.3 L1105.5 210.7 L1106.3 212.5 L1107.1 210.1 L1107.9 210.7 L1108.8 210.4 L1109.6 210.1 L1110.4 209.6 L1111.2 209.6 L1112.0 210.0 L1112.8 212.8 L1113.6 213.3 L1114.4 210.8 L1115.2 210.6 L1116.0 211.5 L1116.8 213.4 L1117.6 211.7 L1118.4 211.7 L1119.3 211.3 L1120.1 207.7 L1120.9 212.3 L1121.7 209.8 L1122.5 209.9 L1123.3 211.0 L1124.1 210.5 L1124.9 210.7 L1125.7 209.8 L1126.5 208.8 L1127.3 209.0 L1128.1 209.8 L1129.0 209.2 L1129.8 209.1 L1130.6 210.1 L1131.4 208.6 L1132.2 210.1 L1133.0 209.4 L1133.8 209.9 L1134.6 208.7 L1135.4 207.6 L1136.2 208.0 L1137.0 206.4 L1137.8 208.3 L1138.6 209.1 L1139.5 208.4 L1140.3 208.8 L1141.1 207.9 L1141.9 207.4 L1142.7 206.0 L1143.5 207.0 L1144.3 206.9 L1145.1 207.0 L1145.9 207.1 L1146.7 210.3 L1147.5 209.2 L1148.3 208.7 L1149.1 207.3 L1150.0 210.5 L1150.8 207.4 L1151.6 208.3 L1152.4 206.7 L1153.2 208.8 L1154.0 206.6 L1154.8 207.6 L1155.6 206.0 L1156.4 205.4 L1157.2 207.3 L1158.0 206.8 L1158.8 204.5 L1159.6 205.9 L1160.5 204.7 L1161.3 206.7 L1162.1 207.5 L1162.9 206.4 L1163.7 207.3 L1164.5 206.8 L1165.3 207.8 L1166.1 205.2 L1166.9 207.5 L1167.7 207.8 L1168.5 207.1 L1169.3 204.3 L1170.2 205.7 L1171.0 206.5 L1171.8 206.6 L1172.6 206.5 L1173.4 204.4 L1174.2 206.3 L1175.0 207.0 L1175.8 205.2 L1176.6 203.1 L1177.4 202.7 L1178.2 206.7 L1179.0 205.3 L1179.8 207.9 L1180.7 204.0 L1181.5 205.0 L1182.3 207.4 L1183.1 205.4 L1183.9 204.6 L1184.7 204.3 L1185.5 205.6 L1186.3 205.9 L1187.1 204.2 L1187.9 202.7 L1188.7 203.6 L1189.5 202.7 L1190.3 201.4 L1191.2 206.2 L1192.0 205.2 L1192.8 203.3 L1193.6 203.4 L1194.4 203.2 L1195.2 206.1 L1196.0 202.8 L1196.8 203.6 L1197.6 203.0 L1198.4 203.4 L1199.2 203.6 L1200.0 202.9 L1200.9 205.9 L1201.7 203.7 L1202.5 203.2 L1203.3 202.2 L1204.1 203.6 L1204.9 203.8 L1205.7 203.7 L1206.5 202.3 L1207.3 203.4 L1208.1 205.1 L1208.9 201.2 L1209.7 203.3 L1210.6 203.5 L1211.4 202.1 L1212.2 203.8 L1213.0 205.5 L1213.8 203.2 L1214.6 203.8 L1215.4 202.8 L1216.2 204.0 L1217.0 202.6 L1217.8 200.6 L1218.6 200.5 L1219.4 200.7 L1220.3 202.5 L1221.1 203.3 L1221.9 203.3 L1222.7 203.1 L1223.5 205.6 L1224.3 204.1 L1225.1 203.3 L1225.9 201.6 L1226.7 203.7 L1227.5 201.8 L1228.3 203.4 L1229.1 205.1 L1229.9 201.2 L1230.8 203.0 L1231.6 202.1 L1232.4 203.2 L1233.2 200.2 L1234.0 203.8 L1234.8 202.9 L1235.6 202.7 L1236.4 202.0 L1237.2 201.4 L1238.0 200.6 L1238.8 200.6 L1239.6 202.2 L1240.5 202.1 L1241.3 200.6 L1242.1 204.3 L1242.9 201.8 L1243.7 203.1 L1244.5 203.8 L1245.3 201.6 L1246.1 202.7 L1246.9 202.9 L1247.7 201.6 L1248.5 203.2 L1249.3 202.8 L1250.2 204.0 L1251.0 203.9 L1251.8 204.7 L1252.6 201.0 L1253.4 201.7 L1254.2 201.6 L1255.0 205.6 L1255.8 204.7 L1256.6 202.2 L1257.4 202.1 L1258.2 202.8 L1259.0 202.0 L1259.9 202.9 L1260.7 204.0 L1261.5 199.6 L1262.3 200.0 L1263.1 204.4 L1263.9 201.4 L1264.7 202.1 L1265.5 202.6 L1266.3 202.9 L1267.1 203.0 L1267.9 201.7 L1268.7 203.5 L1269.5 205.1 L1270.3 201.3 L1271.1 199.7 L1271.9 199.7 L1272.7 201.8 L1273.5 200.9 L1274.3 204.4 L1275.1 202.5 L1275.9 202.7 L1276.7 201.6 L1277.5 203.7 L1278.3 203.2 L1279.1 204.6 L1279.9 202.4 L1280.7 204.5 L1281.5 203.1 L1282.3 204.9 L1283.1 201.8 L1283.9 202.5 L1284.7 202.3 L1285.5 201.7 L1286.3 202.5 L1287.1 202.9 L1287.9 204.2 L1288.7 201.5 L1289.5 200.5 L1290.3 205.3 L1291.1 205.1 L1291.9 203.0 L1292.7 202.1 L1293.5 203.9 L1294.3 201.7 L1295.1 203.1 L1295.9 203.7 L1296.8 205.0 L1297.6 200.3 L1298.4 203.3 L1299.2 202.1 L1300.0 201.1 L1300.8 203.5 L1301.6 204.2 L1302.4 203.0 L1303.2 204.3 L1304.0 205.9 L1304.8 206.5 L1305.6 203.0 L1306.4 204.4 L1307.2 204.8 L1308.0 206.6 L1308.8 204.9 L1309.6 205.0 L1310.4 204.5 L1311.2 203.0 L1312.0 202.4 L1312.8 203.4 L1313.6 204.6 L1314.4 206.3 L1315.2 201.4 L1316.0 205.4 L1316.8 201.1 L1317.6 205.9 L1318.4 205.9 L1319.2 205.6 L1320.0 204.0 L1320.8 205.1 L1321.6 203.5 L1322.4 204.4 L1323.2 203.9 L1324.0 202.4 L1324.8 203.6 L1325.6 202.3 L1326.4 203.0 L1327.2 203.5 L1328.0 203.3 L1328.8 203.7 L1329.6 202.1 L1330.4 205.9 L1331.2 202.1 L1332.0 201.5 L1332.8 204.3 L1333.7 205.7 L1334.5 203.4 L1335.3 201.8 L1336.1 204.1 L1336.9 205.0 L1337.7 204.2 L1338.5 203.6 L1339.3 204.9 L1340.1 201.9 L1340.9 203.5 L1341.7 205.0 L1342.5 205.4 L1343.4 202.4 L1344.2 205.8 L1345.0 203.1 L1345.8 205.6 L1346.6 201.5 L1347.4 204.5 L1348.2 203.6 L1349.0 203.4 L1349.8 204.3 L1350.6 205.2 L1351.4 205.7 L1352.2 202.7 L1353.1 203.3 L1353.9 203.6 L1354.7 205.3 L1355.5 202.2 L1356.3 206.8 L1357.1 205.9 L1357.9 204.6 L1358.7 204.7 L1359.5 203.6 L1360.3 206.2 L1361.1 203.0 L1361.9 204.0 L1362.8 204.2 L1363.6 204.6 L1364.4 201.2 L1365.2 205.5 L1366.0 204.7 L1366.8 204.2 L1367.6 203.9 L1368.4 201.2 L1369.2 202.9 L1370.0 202.6 L1370.8 204.4 L1371.6 206.4 L1372.4 205.3 L1373.3 204.1 L1374.1 204.7 L1374.9 202.8 L1375.7 205.7 L1376.5 202.0 L1377.3 204.2 L1378.1 201.0 L1378.9 203.4 L1379.7 202.2 L1380.5 204.5 L1381.3 203.9 L1382.1 203.0 L1383.0 202.9 L1383.8 205.6 L1384.6 205.9 L1385.4 202.4 L1386.2 205.2 L1387.0 202.5 L1387.8 206.1 L1388.6 204.3 L1389.4 205.0 L1390.2 200.7 L1391.0 205.5 L1391.8 202.3 L1392.7 200.9 L1393.5 204.8 L1394.3 204.0 L1395.1 203.5 L1395.9 203.2 L1396.7 201.8 L1397.5 204.0 L1398.3 204.2 L1399.1 203.6 L1399.9 203.0 L1400.7 203.0 L1401.5 202.3 L1402.4 202.5 L1403.2 203.3 L1404.0 204.0 L1404.8 203.1 L1405.6 203.0 L1406.4 202.6 L1407.2 202.6 L1408.0 201.0 L1408.8 202.6 L1409.6 202.0 L1410.4 203.0 L1411.2 201.3 L1412.0 204.3 L1412.9 202.3 L1413.7 202.9 L1414.5 201.6 L1415.3 205.3 L1416.1 201.9 L1416.9 202.9 L1417.7 201.6 L1418.5 202.8 L1419.3 201.0 L1420.1 201.3 L1420.9 199.0 L1421.7 201.2 L1422.5 200.4 L1423.4 203.3 L1424.2 202.2 L1425.0 202.7 L1425.8 199.1 L1426.6 202.8 L1427.4 204.5 L1428.2 201.3 L1429.0 200.6 L1429.8 202.4 L1430.6 201.7 L1431.4 200.0 L1432.2 198.5 L1433.0 200.8 L1433.9 200.1 L1434.7 201.7 L1435.5 200.0 L1436.3 200.6 L1437.1 202.0 L1437.9 199.0 L1438.7 202.4 L1439.5 200.4 L1440.3 201.8 L1441.1 202.4 L1441.9 202.4 L1442.7 199.2 L1443.5 200.5 L1444.3 198.2 L1445.2 197.5 L1446.0 201.6 L1446.8 200.6 L1447.6 199.3 L1448.4 200.6 L1449.2 202.3 L1450.0 199.5 L1450.8 200.0 L1451.6 198.6 L1452.4 199.3 L1453.2 197.6 L1454.0 200.8 L1454.8 197.1 L1455.6 200.8 L1456.5 199.8 L1457.3 200.2 L1458.1 200.6 L1458.9 199.7 L1459.7 199.6 L1460.5 199.4 L1461.3 198.2 L1462.1 199.7 L1462.9 199.0 L1463.7 198.4 L1464.5 198.1 L1465.3 196.1 L1466.1 198.1 L1466.9 201.5 L1467.7 199.7 L1468.5 198.4 L1469.4 197.7 L1470.2 196.4 L1471.0 198.1 L1471.8 198.9 L1472.6 197.6 L1473.4 199.2 L1474.2 200.7 L1475.0 201.1 L1475.8 195.7 L1476.6 199.8 L1477.4 199.4 L1478.2 196.9 L1479.0 198.4 L1479.8 195.8 L1480.6 198.4 L1481.4 194.7 L1482.2 197.4 L1483.0 197.9 L1483.8 196.7 L1484.6 197.6 L1485.4 199.0 L1486.2 198.9 L1487.0 197.4 L1487.8 196.0 L1488.6 196.9 L1489.4 197.3 L1490.2 197.2 L1491.0 196.1 L1491.8 196.3 L1492.6 195.9 L1493.4 197.9 L1494.2 194.1 L1495.0 195.6 L1495.8 194.7 L1496.6 193.5 L1497.4 194.4 L1498.2 194.7 L1499.0 195.3 L1499.8 193.1 L1500.6 195.6 L1501.4 195.2 L1502.2 194.4 L1503.0 194.7 L1503.8 194.7 L1504.6 192.8 L1505.4 195.6 L1506.2 193.6 L1507.0 193.8 L1507.8 194.3 L1508.6 192.8 L1509.4 195.7 L1510.2 192.3 L1511.0 190.9 L1511.8 192.9 L1512.6 193.1 L1513.4 189.9 L1514.2 192.1 L1515.0 191.3 L1515.8 192.6 L1516.6 193.3 L1517.4 192.5 L1518.2 191.2 L1519.0 193.6 L1519.8 190.6 L1520.6 190.8 L1521.4 192.3 L1522.2 191.7 L1523.0 189.9 L1523.8 190.4 L1524.6 188.8 L1525.5 191.1 L1526.3 190.7 L1527.1 192.5 L1527.9 190.3 L1528.7 186.8 L1529.5 189.7 L1530.3 191.9 L1531.1 189.5 L1531.9 189.3 L1532.7 188.1 L1533.5 188.9 L1534.3 188.4 L1535.1 187.9 L1535.9 188.8 L1536.7 188.9 L1537.5 188.9 L1538.3 189.2 L1539.1 188.8 L1539.9 187.7 L1540.7 186.4 L1541.5 189.7 L1542.3 187.1 L1543.1 188.9 L1543.9 186.2 L1544.7 188.6 L1545.5 188.5 L1546.3 184.8 L1547.1 186.9 L1547.9 186.8 L1548.7 187.1 L1549.5 185.4 L1550.2 185.7 L1551.0 186.2 L1551.8 184.6 L1552.6 185.3 L1553.4 183.4 L1554.2 183.9 L1555.0 185.7 L1555.7 182.5 L1556.5 183.1 L1557.3 183.1 L1558.1 183.4 L1558.8 182.8 L1559.6 183.2 L1560.4 181.5 L1561.2 181.4 L1561.9 181.6 L1562.7 181.7 L1563.5 180.0 L1564.3 184.2 L1565.0 181.1 L1565.8 179.6 L1566.6 177.8 L1567.3 178.4 L1568.1 179.9 L1568.9 180.3 L1569.7 179.5 L1570.4 178.3 L1571.2 177.5 L1572.0 178.2 L1572.7 179.0 L1573.5 178.3 L1574.3 177.4 L1575.0 180.4 L1575.8 177.2 L1576.5 177.3 L1577.3 177.5 L1578.1 176.6 L1578.8 178.6 L1579.6 177.1 L1580.4 178.8 L1581.1 173.4 L1581.9 175.2 L1582.6 176.1 L1583.4 175.5 L1584.1 177.4 L1584.9 174.5 L1585.6 175.5 L1586.4 173.4 L1587.2 174.9 L1587.9 173.3 L1588.7 174.8 L1589.4 172.3 L1590.2 173.8 L1590.9 172.0 L1591.6 171.8 L1592.4 170.8 L1593.1 168.4 L1593.8 168.9 L1594.6 170.0 L1595.3 170.7 L1596.0 169.3 L1596.8 172.0 L1597.5 169.5 L1598.2 168.8 L1598.9 168.5 L1599.7 168.2 L1600.4 170.4 L1601.1 168.3 L1601.8 164.7 L1602.5 168.0 L1603.2 167.0 L1603.9 164.8 L1604.7 167.8 L1605.4 165.4 L1606.1 165.6 L1606.8 166.3 L1607.5 161.9 L1608.2 163.3 L1608.9 162.7 L1609.6 164.0 L1610.3 162.6 L1611.0 162.1 L1611.7 162.6 L1612.5 158.7 L1613.2 161.8 L1613.9 160.6 L1614.6 159.4 L1615.3 159.3 L1616.0 158.8 L1616.7 161.0 L1617.4 158.3 L1618.2 158.4 L1618.9 156.5 L1619.6 156.0 L1620.4 156.8 L1621.1 156.8 L1621.8 157.3 L1622.6 157.6 L1623.3 156.3 L1624.0 155.4 L1624.8 153.4 L1625.5 154.4 L1626.2 153.6 L1627.0 154.8 L1627.7 155.0 L1628.4 153.6 L1629.2 152.4 L1629.9 150.6 L1630.6 152.2 L1631.3 152.0 L1632.0 150.6 L1632.8 151.9 L1633.5 151.0 L1634.2 151.2 L1634.9 150.4 L1635.6 149.7 L1636.3 147.7 L1637.0 146.8 L1637.7 148.6 L1638.3 146.4 L1639.0 146.6 L1639.7 145.3 L1640.3 146.6 L1641.0 146.5 L1641.6 144.9 L1642.3 145.6 L1642.9 144.5 L1643.6 144.5 L1644.2 143.3 L1644.8 141.5 L1645.4 143.5 L1646.0 142.9 L1646.7 142.4 L1647.3 142.3 L1647.9 139.9 L1648.5 139.4 L1649.1 140.6 L1649.7 138.7 L1650.3 138.3 L1650.9 137.5 L1651.5 136.8 L1652.1 137.7 L1652.7 135.3 L1653.3 136.3 L1653.8 135.0 L1654.4 133.7 L1655.0 133.5 L1655.6 133.7 L1656.2 131.7 L1656.8 134.1 L1657.3 130.8 L1657.9 131.5 L1658.5 128.6 L1659.1 130.1 L1659.7 130.1 L1660.2 129.0 L1660.8 128.8 L1661.4 128.4 L1662.0 126.9 L1662.5 126.9 L1663.1 125.7 L1663.7 126.3 L1664.3 125.6 L1664.8 125.6 L1665.4 125.4 L1666.0 124.1 L1666.6 122.5 L1667.2 120.9 L1667.8 121.2 L1668.4 120.9 L1669.0 121.4 L1669.6 118.3 L1670.2 119.9 L1670.8 119.1 L1671.4 117.5 L1672.0 118.3 L1672.6 116.8 L1673.1 118.8 L1673.7 116.5 L1674.3 116.4 L1674.9 114.8 L1675.5 114.3 L1676.1 113.4 L1676.7 113.1 L1677.3 113.3 L1677.8 110.3 L1678.4 109.4 L1679.0 112.3 L1679.6 111.1 L1680.1 111.0 L1680.7 109.7 L1681.3 108.1 L1681.8 108.4 L1682.4 109.3 L1682.9 107.2 L1683.5 105.0 L1684.0 106.3 L1684.5 106.8 L1685.1 104.5 L1685.6 102.4 L1686.1 104.4 L1686.6 101.6 L1687.1 101.8 L1687.6 100.3 L1688.1 101.0 L1688.6 99.5 L1689.0 98.9 L1689.5 97.7 L1690.0 96.5 L1690.4 96.7 L1690.9 97.2 L1691.3 94.7 L1691.7 93.5 L1692.2 94.6 L1692.6 93.0 L1693.0 91.7 L1693.5 92.0 L1693.9 90.8 L1694.3 90.7 L1694.7 91.3 L1695.1 89.3 L1695.6 88.3 L1696.0 88.3 L1696.4 87.2 L1696.8 85.4 L1697.3 85.6 L1697.7 85.1 L1698.2 83.3 L1698.6 83.6 L1699.0 82.9 L1699.5 82.7 L1699.9 82.0 L1700.3 80.3 L1700.7 80.1 L1701.2 80.4 L1701.6 78.7 L1702.0 77.5 L1702.4 77.5 L1702.9 77.1 L1703.3 75.4 L1703.7 75.8 L1704.2 73.1 L1704.6 74.9 L1705.0 73.3 L1705.5 72.8 L1705.9 71.6 L1706.3 72.1 L1706.8 69.8 L1707.2 70.4 L1707.7 67.8 L1708.1 69.3 L1708.6 68.5 L1709.1 67.4 L1709.6 66.8 L1710.1 66.9 L1710.7 64.5 L1711.2 63.9 L1711.8 64.0 L1712.3 62.0 L1712.9 61.5 L1713.4 61.0 L1714.0 61.7 L1714.5 59.0 L1715.1 58.8 L1715.6 59.8 L1716.1 58.6 L1716.6 56.1 L1717.1 57.5 L1717.5 55.1 L1717.9 56.0 L1718.2 58.0 L1718.4 58.7 L1718.5 59.8 L1718.6 60.9 L1718.6 62.0 L1718.6 62.8 L1718.6 63.6 L1718.6 64.4 L1718.6 65.2 L1718.6 66.0 L1718.6 66.8 L1718.6 67.6 L1718.6 68.4 L1718.6 69.2 L1718.7 70.0 L1718.7 70.8 L1718.7 71.6 L1718.7 72.4 L1718.7 73.2 L1718.7 74.0 L1718.7 74.8 L1718.7 75.6 L1718.7 76.4 L1718.7 77.2 L1718.7 78.0 L1718.7 78.8 L1718.7 79.6 L1718.7 80.4 L1718.7 81.2 L1718.7 82.0 L1718.7 82.8 L1718.7 83.7 L1718.7 84.4 L1718.7 85.3 L1718.7 86.1 L1718.7 86.9 L1718.7 87.7 L1718.7 88.5 L1718.7 89.3 L1718.7 90.1 L1718.7 90.9 L1718.7 91.7 L1718.7 92.5 L1718.7 93.3 L1718.7 94.1 L1718.7 94.9 L1718.7 95.7 L1718.7 96.5 L1718.8 97.3 L1718.8 98.1 L1718.8 98.9 L1718.8 99.7 L1718.8 100.5 L1718.8 101.3 L1718.8 102.1 L1718.8 102.9 L1718.8 103.7 L1718.8 104.5 L1718.8 105.3 L1718.8 106.1 L1718.8 106.9 L1718.8 107.7 L1718.8 108.5 L1718.8 109.3 L1718.8 110.1 L1718.8 110.9 L1718.8 111.7 L1718.8 112.5 L1718.8 113.3 L1718.8 114.1 L1718.8 114.9 L1718.8 115.7 L1718.8 116.5 L1718.8 117.3 L1718.8 118.1 L1718.8 119.0 L1718.8 119.7 L1718.7 120.6 L1718.7 121.4 L1718.7 122.2 L1718.7 123.0 L1718.7 123.8 L1718.7 124.6 L1718.7 125.4 L1718.7 126.2 L1718.7 127.0 L1718.7 127.8 L1718.7 128.6 L1718.7 129.4 L1718.7 130.2 L1718.7 131.0 L1718.7 131.8 L1718.7 132.6 L1718.7 133.4 L1718.7 134.2 L1718.7 135.0 L1718.7 135.8 L1718.7 136.6 L1718.7 137.4 L1718.7 138.2 L1718.7 139.0 L1718.7 139.8 L1718.7 140.6 L1718.7 141.4 L1718.7 142.2 L1718.7 143.0 L1718.7 143.8 L1718.7 144.6 L1718.7 145.4 L1718.7 146.2 L1718.7 147.0 L1718.7 147.8 L1718.7 148.6 L1718.7 149.4 L1718.7 150.2 L1718.7 151.1 L1718.7 151.8 L1718.7 152.7 L1718.7 153.5 L1718.7 154.3 L1718.7 155.1 L1718.7 155.9 L1718.7 156.7 L1718.7 157.5 L1718.7 158.3 L1718.7 159.1 L1718.7 159.9 L1718.7 160.7 L1718.7 161.5 L1718.7 162.3 L1718.7 163.1 L1718.7 163.9 L1718.7 164.7 L1718.6 165.5 L1718.6 166.3 L1718.6 167.1 L1718.6 167.9 L1718.6 168.7 L1718.6 169.5 L1718.6 170.3 L1718.6 171.1 L1718.6 171.9 L1718.6 172.7 L1718.6 173.5 L1718.6 174.3 L1718.6 175.1 L1718.6 175.9 L1718.6 176.7 L1718.6 177.5 L1718.6 178.3 L1718.6 179.1 L1718.6 179.9 L1718.6 180.7 L1718.6 181.5 L1718.6 182.3 L1718.6 183.2 L1718.6 184.0 L1718.6 184.8 L1718.6 185.6 L1718.6 186.4 L1718.6 187.2 L1718.6 188.0 L1718.6 188.8 L1718.6 189.6 L1718.6 190.4 L1718.6 191.2 L1718.6 192.0 L1718.6 192.8 L1718.6 193.6 L1718.6 194.4 L1718.6 195.2 L1718.6 196.0 L1718.6 196.8 L1718.6 197.6 L1718.6 198.4 L1718.6 199.2 L1718.6 200.0 L1718.6 200.8 L1718.6 201.6 L1718.6 202.4 L1718.6 203.2 L1718.6 204.0 L1718.6 204.8 L1718.6 205.6 L1718.6 206.4 L1718.6 207.2 L1718.6 208.0 L1718.6 208.8 L1718.6 209.6 L1718.6 210.4 L1718.6 211.2 L1718.6 212.0 L1718.6 212.8 L1718.6 213.6 L1718.6 214.4 L1718.6 215.2 L1718.6 216.0 L1718.6 216.8 L1718.6 217.6 L1718.6 218.4 L1718.6 219.2 L1718.6 220.1 L1718.6 220.8 L1718.6 221.7 L1718.6 222.5 L1718.6 223.3 L1718.6 224.1 L1718.6 224.9 L1718.6 225.7 L1718.6 226.5 L1718.6 227.3 L1718.6 228.1 L1718.6 228.9 L1718.6 229.7 L1718.6 230.5 L1718.6 231.3 L1718.6 232.1 L1718.7 232.9 L1718.7 233.7 L1718.7 234.5 L1718.7 235.3 L1718.7 236.1 L1718.7 236.9 L1718.7 237.7 L1718.7 238.5 L1718.7 239.3 L1718.7 240.1 L1718.7 240.9 L1718.7 241.7 L1718.7 242.5 L1718.7 243.3 L1718.7 244.1 L1718.7 244.9 L1718.7 245.7 L1718.7 246.5 L1718.7 247.3 L1718.7 248.1 L1718.7 248.9 L1718.7 249.7 L1718.7 250.5 L1718.7 251.3 L1718.7 252.1 L1718.7 252.9 L1718.7 253.7 L1718.7 254.5 L1718.7 255.3 L1718.7 256.1 L1718.7 257.0 L1718.7 257.7 L1718.7 258.5 L1718.7 259.3 L1718.7 260.2 L1718.7 261.0 L1718.7 261.8 L1718.8 262.6 L1718.8 263.4 L1718.8 264.2 L1718.8 265.0 L1718.8 265.8 L1718.8 266.6 L1718.8 267.4 L1718.8 268.2 L1718.8 269.0 L1718.8 269.8 L1718.8 270.6 L1718.8 271.4 L1718.8 272.2 L1718.8 273.0 L1718.8 273.8 L1718.8 274.6 L1718.8 275.4 L1718.8 276.2 L1718.8 277.0 L1718.8 277.8 L1718.8 278.6 L1718.8 279.4 L1718.8 280.2 L1718.8 281.0 L1718.8 281.8 L1718.8 282.6 L1718.8 283.4 L1718.8 284.2 L1718.8 285.0 L1718.8 285.8 L1718.8 286.6 L1718.8 287.4 L1718.8 288.2 L1718.8 289.0 L1718.8 289.8 L1718.8 290.6 L1718.8 291.4 L1718.9 292.2 L1718.9 293.0 L1718.9 293.8 L1718.9 294.6 L1718.9 295.4 L1718.9 296.2 L1718.9 297.1 L1718.9 297.9 L1718.9 298.7 L1718.9 299.5 L1718.9 300.3 L1718.9 301.1 L1718.9 301.9 L1718.9 302.7 L1718.9 303.5 L1718.9 304.3 L1718.9 305.1 L1718.9 305.9 L1718.9 306.7 L1718.9 307.5 L1718.9 308.3 L1718.9 309.1 L1718.9 309.9 L1718.9 310.7 L1718.9 311.5 L1718.9 312.3 L1718.9 313.1 L1718.9 313.9 L1718.9 314.7 L1718.9 315.5 L1718.9 316.3 L1718.9 317.1 L1718.9 317.9 L1718.9 318.7 L1718.9 319.5 L1718.9 320.3 L1718.9 321.1 L1718.9 321.9 L1718.9 322.7 L1718.9 323.5 L1718.9 324.3 L1718.9 325.1 L1718.9 325.9 L1718.9 326.7 L1718.9 327.5 L1718.9 328.3 L1718.9 329.1 L1718.9 329.9 L1718.9 330.7 L1718.9 331.5 L1718.9 332.3 L1718.9 333.1 L1718.9 333.9 L1718.9 334.7 L1718.9 335.5 L1718.9 336.3 L1718.9 337.1 L1718.9 337.9 L1718.9 338.7 L1718.9 339.5 L1718.9 340.3 L1718.9 341.2 L1718.9 342.0 L1718.9 342.8 L1718.9 343.6 L1718.9 344.4 L1718.9 345.2 L1718.9 346.0 L1718.9 346.8 L1718.9 347.6 L1718.9 348.4 L1718.9 349.2 L1718.9 350.0 L1718.9 350.8 L1718.8 351.6 L1718.8 352.4 L1718.8 353.2 L1718.8 354.0 L1718.8 354.8 L1718.8 355.6 L1718.8 356.4 L1718.8 357.2 L1718.8 358.0 L1718.8 358.8 L1718.8 359.6 L1718.8 360.4 L1718.8 361.2 L1718.8 362.0 L1718.8 362.8 L1718.8 363.6 L1718.8 364.4 L1718.8 365.2 L1718.8 366.0 L1718.8 366.8 L1718.8 367.6 L1718.8 368.4 L1718.8 369.2 L1718.7 370.0 L1718.7 370.8 L1718.7 371.6 L1718.7 372.4 L1718.7 373.2 L1718.7 374.0 L1718.7 374.8 L1718.7 375.6 L1718.7 376.4 L1718.7 377.2 L1718.7 378.0 L1718.7 378.8 L1718.7 379.6 L1718.7 380.4 L1718.6 381.2 L1718.6 382.0 L1718.6 382.8 L1718.6 383.6 L1718.6 384.4 L1718.6 385.2 L1718.6 386.0 L1718.5 386.9 L1718.2 387.4 L1717.8 388.4 L1717.4 390.1 L1716.9 389.6 L1716.6 391.4 L1716.5 392.1 L1716.5 392.8 L1716.4 393.6 L1716.4 394.4 L1716.4 395.2 L1716.4 396.0 L1716.4 396.8 L1716.3 397.6 L1716.3 398.4 L1716.3 399.2 L1716.3 400.0 L1716.3 400.8 L1716.3 401.6 L1716.3 402.4 L1716.3 403.2 L1716.3 404.0 L1716.3 404.8 L1716.3 405.7 L1716.3 406.5 L1716.3 407.3 L1716.3 408.1 L1716.3 408.9 L1716.3 409.7 L1716.3 410.5 L1716.3 411.3 L1716.3 412.1 L1716.3 412.9 L1716.3 413.7 L1716.3 414.5 L1716.3 415.3 L1716.3 416.1 L1716.3 416.9 L1716.3 417.7 L1716.4 418.6 L1716.4 419.4 L1716.4 420.2 L1716.4 421.0 L1716.4 421.8 L1716.4 422.6 L1716.4 423.4 L1716.4 424.2 L1716.4 425.0 L1716.4 425.8 L1716.4 426.6 L1716.5 427.4 L1716.5 428.2 L1716.5 429.0 L1716.5 429.8 L1716.5 430.7 L1716.5 431.5 L1716.5 432.3 L1716.5 433.1 L1716.5 433.9 L1716.5 434.7 L1716.5 435.5 L1716.5 436.3 L1716.5 437.1 L1716.5 437.9 L1716.5 438.7 L1716.5 439.5 L1716.5 440.3 L1716.5 441.1 L1716.5 441.9 L1716.5 442.8 L1716.5 443.5 L1716.4 444.4 L1716.4 445.2 L1716.4 446.0 L1716.4 446.8 L1716.4 447.6 L1716.3 448.4 L1716.3 449.1 L1716.3 450.1 L1716.3 450.9 L1716.2 451.6 L1716.2 452.5 L1716.2 453.2 L1716.1 454.2 L1716.1 455.0 L1716.0 455.9 L1716.0 456.4 L1716.0 457.4 L1715.9 458.2 L1715.8 459.1 L1715.8 459.8 L1715.7 460.7 L1715.7 461.4 L1715.6 462.2 L1715.5 463.1 L1715.5 463.7 L1715.4 464.7 L1715.3 465.4 L1715.3 466.3 L1715.2 467.1 L1715.1 468.0 L1715.0 468.9 L1715.0 469.6 L1714.9 470.4 L1714.8 471.3 L1714.7 472.0 L1714.6 472.6 L1714.5 473.6 L1714.5 474.4 L1714.4 475.3 L1714.3 476.1 L1714.2 476.8 L1714.1 477.8 L1714.0 478.7 L1713.9 479.3 L1713.8 480.2 L1713.7 480.9 L1713.6 482.0 L1713.5 482.4 L1713.4 483.3 L1713.3 484.2 L1713.2 484.9 L1713.1 485.8 L1713.0 487.0 L1712.9 487.7 L1712.8 488.0 L1712.7 489.1 L1712.5 489.7 L1712.4 490.5 L1712.3 491.4 L1712.2 492.0 L1712.1 492.6 L1711.9 493.6 L1711.8 494.6 L1711.7 495.1 L1711.6 496.0 L1711.4 496.7 L1711.3 497.5 L1711.2 498.4 L1711.0 499.8 L1710.9 500.0 L1710.8 500.9 L1710.6 501.6 L1710.5 502.8 L1710.3 503.7 L1710.2 503.8 L1710.1 504.9 L1709.9 505.3 L1709.8 506.6 L1709.6 507.1 L1709.5 507.6 L1709.3 508.8 L1709.1 509.6 L1709.0 510.7 L1708.8 511.0 L1708.7 511.8 L1708.5 513.1 L1708.3 513.8 L1708.2 514.6 L1708.0 515.5 L1707.8 515.7 L1707.7 516.7 L1707.5 517.2 L1707.3 518.3 L1707.1 519.5 L1707.0 519.3 L1706.8 520.0 L1706.6 521.4 L1706.4 522.6 L1706.2 523.1 L1706.0 523.3 L1705.9 524.5 L1705.7 525.5 L1705.5 526.6 L1705.3 526.8 L1705.1 527.1 L1704.9 528.9 L1704.7 529.3 L1704.5 530.1 L1704.3 531.1 L1704.1 531.9 L1703.9 532.6 L1703.7 532.5 L1703.5 534.6 L1703.2 535.1 L1703.0 536.0 L1702.8 536.8 L1702.6 537.2 L1702.4 538.4 L1702.2 539.3 L1701.9 539.7 L1701.7 540.5 L1701.5 541.1 L1701.2 541.5 L1701.0 542.8 L1700.8 543.6 L1700.5 544.8 L1700.3 544.3 L1700.0 545.3 L1699.8 547.0 L1699.5 547.5 L1699.3 548.1 L1699.0 548.6 L1698.8 549.3 L1698.5 551.4 L1698.2 551.4 L1698.0 551.8 L1697.7 552.3 L1697.4 554.3 L1697.2 554.7 L1696.9 555.4 L1696.6 556.7 L1696.3 556.8 L1696.0 557.6 L1695.8 558.1 L1695.5 559.7 L1695.2 560.0 L1694.9 560.5 L1694.6 560.9 L1694.3 561.8 L1694.0 563.0 L1693.7 564.1 L1693.4 564.7 L1693.1 565.0 L1692.8 565.2 L1692.5 567.2 L1692.2 567.2 L1691.9 567.8 L1691.6 569.4 L1691.3 568.9 L1691.0 570.6 L1690.7 570.7 L1690.4 572.1 L1690.1 573.3 L1689.8 573.5 L1689.5 574.7 L1689.1 574.4 L1688.8 576.0 L1688.5 576.2 L1688.2 576.9 L1687.9 578.4 L1687.6 578.6 L1687.2 579.1 L1686.9 579.1 L1686.6 580.8 L1686.3 581.7 L1686.0 583.2 L1685.6 583.4 L1685.3 584.0 L1685.0 584.6 L1684.6 584.9 L1684.3 585.3 L1684.0 587.6 L1683.6 587.7 L1683.3 589.3 L1682.9 589.4 L1682.6 589.3 L1682.2 591.0 L1681.9 591.5 L1681.5 592.8 L1681.1 592.8 L1680.8 593.4 L1680.4 594.3 L1680.0 595.3 L1679.7 595.1 L1679.3 597.1 L1678.9 597.5 L1678.5 599.0 L1678.1 598.0 L1677.7 597.8 L1677.3 599.8 L1676.9 600.6 L1676.5 602.2 L1676.1 601.6 L1675.6 602.6 L1675.2 603.4 L1674.8 605.0 L1674.3 604.0 L1673.9 605.5 L1673.5 607.1 L1673.0 606.2 L1672.6 606.7 L1672.1 608.4 L1671.7 608.4 L1671.2 610.1 L1670.7 608.7 L1670.3 611.6 L1669.8 611.6 L1669.3 613.2 L1668.9 612.8 L1668.4 614.1 L1667.9 614.6 L1667.4 615.3 L1666.9 615.3 L1666.5 616.7 L1666.0 615.4 L1665.5 618.0 L1665.0 617.3 L1664.5 618.9 L1664.0 620.6 L1663.5 621.4 L1663.0 621.1 L1662.5 620.3 L1662.0 622.4 L1661.5 623.5 L1661.0 623.3 L1660.5 622.8 L1660.0 625.9 L1659.5 626.6 L1659.0 625.7 L1658.5 627.2 L1658.0 627.3 L1657.4 627.6 L1656.9 628.3 L1656.4 629.4 L1655.9 630.2 L1655.3 632.3 L1654.8 631.2 L1654.3 632.4 L1653.7 631.9 L1653.2 631.1 L1652.7 632.8 L1652.1 634.2 L1651.6 635.9 L1651.0 635.9 L1650.5 635.0 L1649.9 637.4 L1649.4 637.3 L1648.8 639.4 L1648.2 637.9 L1647.7 637.6 L1647.1 639.1 L1646.6 639.9 L1646.0 638.8 L1645.4 641.4 L1644.8 640.1 L1644.3 642.0 L1643.7 642.6 L1643.1 643.2 L1642.5 642.7 L1641.9 645.7 L1641.3 645.9 L1640.7 645.2 L1640.1 645.0 L1639.5 648.3 L1638.9 647.6 L1638.3 647.7 L1637.7 648.0 L1637.1 649.2 L1636.5 649.5 L1635.9 649.6 L1635.2 650.8 L1634.6 652.0 L1634.0 652.0 L1633.4 652.5 L1632.8 654.4 L1632.1 655.2 L1631.5 653.3 L1630.9 654.9 L1630.2 654.3 L1629.6 653.9 L1629.0 656.4 L1628.3 657.7 L1627.7 655.5 L1627.0 657.3 L1626.4 657.7 L1625.8 657.2 L1625.1 659.4 L1624.5 657.7 L1623.9 659.2 L1623.2 659.9 L1622.6 661.8 L1621.9 661.7 L1621.3 661.5 L1620.6 663.7 L1620.0 663.2 L1619.3 662.5 L1618.7 662.8 L1618.0 665.3 L1617.4 666.4 L1616.7 664.1 L1616.1 665.9 L1615.4 665.8 L1614.7 666.9 L1614.1 666.5 L1613.4 666.0 L1612.7 667.5 L1612.1 669.7 L1611.4 670.4 L1610.7 668.5 L1610.0 667.1 L1609.3 670.0 L1608.7 670.7 L1608.0 670.3 L1607.3 670.8 L1606.6 673.1 L1605.9 670.0 L1605.2 671.7 L1604.5 674.2 L1603.8 672.4 L1603.1 676.0 L1602.3 674.4 L1601.6 676.2 L1600.9 675.9 L1600.2 674.9 L1599.4 676.5 L1598.7 676.0 L1598.0 677.0 L1597.2 678.2 L1596.5 676.4 L1595.8 678.2 L1595.0 678.9 L1594.3 677.5 L1593.5 678.0 L1592.8 678.5 L1592.0 680.3 L1591.3 678.7 L1590.5 678.5 L1589.7 680.3 L1589.0 679.6 L1588.2 682.9 L1587.5 680.4 L1586.7 680.7 L1585.9 681.3 L1585.2 680.8 L1584.4 683.4 L1583.6 681.8 L1582.9 684.8 L1582.1 683.4 L1581.3 684.5 L1580.6 683.8 L1579.8 684.7 L1579.0 686.4 L1578.3 683.7 L1577.5 685.1 L1576.7 686.3 L1576.0 684.2 L1575.2 685.2 L1574.4 686.6 L1573.7 686.8 L1572.9 685.3 L1572.1 685.0 L1571.3 689.4 L1570.5 686.6 L1569.8 687.5 L1569.0 685.8 L1568.2 689.0 L1567.4 688.8 L1566.6 688.4 L1565.8 687.8 L1565.0 688.4 L1564.3 687.0 L1563.5 689.8 L1562.7 689.0 L1561.9 686.3 L1561.1 689.2 L1560.3 690.9 L1559.5 687.7 L1558.7 688.9 L1557.9 688.2 L1557.2 689.8 L1556.4 693.0 L1555.6 692.9 L1554.8 691.9 L1554.0 690.3 L1553.2 690.8 L1552.5 692.2 L1551.7 692.8 L1550.9 693.2 L1550.1 692.2 L1549.3 692.1 L1548.6 693.0 L1547.8 690.4 L1547.0 691.4 L1546.2 694.5 L1545.4 694.5 L1544.6 690.3 L1543.9 693.9 L1543.1 696.2 L1542.3 692.7 L1541.5 693.8 L1540.7 690.7 L1540.0 694.7 L1539.2 695.1 L1538.4 693.6 L1537.6 694.5 L1536.8 693.3 L1536.1 697.8 L1535.3 696.0 L1534.5 693.9 L1533.7 696.5 L1532.9 693.3 L1532.1 698.5 L1531.4 695.1 L1530.6 694.2 L1529.8 698.0 L1529.0 697.4 L1528.2 697.8 L1527.4 697.3 L1526.7 696.2 L1525.9 695.5 L1525.1 696.6 L1524.3 698.1 L1523.5 698.3 L1522.7 698.4 L1521.9 697.7 L1521.1 698.6 L1520.4 698.4 L1519.6 697.7 L1518.8 700.0 L1518.0 697.9 L1517.2 697.9 L1516.4 698.9 L1515.6 701.7 L1514.8 701.2 L1514.0 700.3 L1513.2 698.9 L1512.4 699.6 L1511.6 700.0 L1510.8 700.4 L1510.0 697.5 L1509.2 702.0 L1508.4 699.9 L1507.6 701.0 L1506.8 700.7 L1506.0 700.5 L1505.2 699.4 L1504.4 698.9 L1503.6 700.0 L1502.8 699.5 L1502.0 700.8 L1501.2 705.6 L1500.4 702.2 L1499.6 701.7 L1498.8 701.2 L1498.0 698.8 L1497.2 702.5 L1496.4 703.4 L1495.6 700.2 L1494.8 705.3 L1494.0 703.3 L1493.2 700.8 L1492.4 701.0 L1491.6 701.3 L1490.8 703.7 L1490.0 703.7 L1489.2 700.5 L1488.4 702.0 L1487.6 701.7 L1486.8 700.3 L1486.0 703.1 L1485.2 701.8 L1484.4 702.0 L1483.6 704.7 L1482.8 706.7 L1482.0 703.2 L1481.2 701.7 L1480.4 704.7 L1479.6 702.9 L1478.8 705.2 L1478.0 706.0 L1477.2 703.4 L1476.4 705.2 L1475.6 706.6 L1474.8 701.9 L1474.0 705.2 L1473.2 705.4 L1472.4 703.1 L1471.6 704.9 L1470.8 704.7 L1470.0 705.6 L1469.2 704.5 L1468.4 705.1 L1467.6 706.5 L1466.8 705.6 L1466.0 705.2 L1465.2 705.2 L1464.4 705.7 L1463.6 707.1 L1462.8 707.8 L1462.0 705.6 L1461.3 706.6 L1460.5 706.8 L1459.7 706.8 L1458.9 706.3 L1458.1 709.0 L1457.3 707.5 L1456.5 704.9 L1455.7 709.1 L1454.9 705.4 L1454.1 707.8 L1453.3 708.3 L1452.5 708.9 L1451.7 706.3 L1450.9 710.6 L1450.1 707.7 L1449.3 708.1 L1448.5 710.8 L1447.7 708.4 L1446.9 709.8 L1446.1 709.4 L1445.3 710.9 L1444.5 707.7 L1443.7 712.0 L1442.9 710.5 L1442.1 710.3 L1441.3 706.8 L1440.5 709.8 L1439.7 707.5 L1438.9 709.3 L1438.1 710.6 L1437.3 711.4 L1436.5 709.5 L1435.8 711.6 L1435.0 711.9 L1434.2 711.7 L1433.4 710.1 L1432.6 711.5 L1431.8 709.1 L1431.0 711.8 L1430.2 709.6 L1429.4 710.0 L1428.6 713.1 L1427.8 710.9 L1427.0 710.9 L1426.2 709.5 L1425.4 710.7 L1424.7 710.9 L1423.9 712.6 L1423.1 711.4 L1422.3 711.6 L1421.5 712.3 L1420.7 714.9 L1419.9 715.0 L1419.1 712.1 L1418.3 711.8 L1417.5 711.9 L1416.7 713.3 L1415.9 712.6 L1415.1 712.7 L1414.3 712.8 L1413.5 712.6 L1412.7 713.7 L1411.9 713.7 L1411.2 712.0 L1410.4 712.3 L1409.6 713.8 L1408.8 712.9 L1408.0 711.9 L1407.2 714.1 L1406.4 713.0 L1405.6 715.2 L1404.8 714.4 L1404.0 713.9 L1403.2 713.6 L1402.4 715.4 L1401.6 711.4 L1400.8 713.6 L1400.0 715.4 L1399.2 717.0 L1398.4 715.3 L1397.6 713.2 L1396.8 712.5 L1396.0 712.8 L1395.2 714.9 L1394.5 718.8 L1393.7 716.8 L1392.9 715.8 L1392.1 716.6 L1391.3 715.9 L1390.5 716.5 L1389.7 718.5 L1388.9 714.0 L1388.1 713.5 L1387.3 715.2 L1386.5 714.4 L1385.7 714.4 L1384.9 717.1 L1384.1 716.7 L1383.3 717.3 L1382.5 716.3 L1381.7 716.5 L1380.9 717.0 L1380.1 715.9 L1379.3 717.5 L1378.5 716.3 L1377.7 717.4 L1376.9 718.8 L1376.1 717.9 L1375.3 717.9 L1374.5 716.3 L1373.8 717.8 L1373.0 717.1 L1372.2 716.4 L1371.4 718.9 L1370.6 717.1 L1369.8 719.7 L1369.0 716.5 L1368.2 715.1 L1367.4 714.9 L1366.6 716.9 L1365.8 718.1 L1365.0 717.8 L1364.2 717.6 L1363.4 717.5 L1362.6 717.4 L1361.8 719.0 L1361.0 717.6 L1360.2 719.7 L1359.4 719.8 L1358.6 716.7 L1357.8 717.0 L1357.0 721.7 L1356.2 716.7 L1355.4 719.3 L1354.6 720.6 L1353.8 718.9 L1353.0 718.8 L1352.2 720.5 L1351.5 720.0 L1350.7 720.2 L1349.9 721.8 L1349.1 721.4 L1348.3 719.5 L1347.5 718.6 L1346.7 720.9 L1345.9 720.0 L1345.1 718.1 L1344.3 721.2 L1343.5 718.3 L1342.7 718.8 L1341.9 718.5 L1341.1 720.1 L1340.3 723.2 L1339.5 718.1 L1338.7 718.5 L1337.9 718.4 L1337.1 720.7 L1336.3 719.3 L1335.5 721.8 L1334.7 722.7 L1333.9 721.5 L1333.1 720.0 L1332.3 723.3 L1331.5 720.4 L1330.7 722.6 L1329.9 720.9 L1329.1 721.0 L1328.3 722.2 L1327.6 721.4 L1326.8 723.1 L1326.0 723.4 L1325.2 722.6 L1324.4 722.2 L1323.6 722.8 L1322.8 719.7 L1322.0 723.4 L1321.2 723.0 L1320.4 721.2 L1319.6 723.2 L1318.8 722.4 L1318.0 722.6 L1317.2 722.4 L1316.4 721.9 L1315.6 722.9 L1314.8 721.5 L1314.0 723.9 L1313.2 720.9 L1312.4 722.4 L1311.6 724.9 L1310.8 723.4 L1310.0 724.2 L1309.2 725.1 L1308.4 722.7 L1307.6 722.7 L1306.8 722.1 L1306.0 722.3 L1305.2 724.0 L1304.4 721.7 L1303.6 724.0 L1302.8 724.7 L1302.0 725.5 L1301.2 724.8 L1300.4 723.9 L1299.6 724.6 L1298.8 724.8 L1298.0 724.1 L1297.2 724.4 L1296.4 721.6 L1295.6 723.3 L1294.8 724.2 L1294.0 724.8 L1293.2 723.8 L1292.4 725.6 L1291.6 724.0 L1290.8 723.5 L1290.0 724.0 L1289.2 728.0 L1288.4 724.2 L1287.6 724.0 L1286.8 725.5 L1286.0 726.4 L1285.2 724.2 L1284.4 725.9 L1283.6 724.0 L1282.8 725.0 L1282.0 726.1 L1281.2 726.9 L1280.4 725.8 L1279.6 724.6 L1278.8 726.0 L1278.0 725.1 L1277.3 726.8 L1276.5 726.2 L1275.7 727.0 L1274.9 725.1 L1274.1 728.2 L1273.3 725.4 L1272.5 724.1 L1271.7 726.9 L1270.9 728.9 L1270.1 726.5 L1269.3 727.4 L1268.5 725.3 L1267.7 726.6 L1266.9 726.7 L1266.1 727.7 L1265.3 727.9 L1264.5 727.6 L1263.7 726.0 L1262.9 725.5 L1262.1 729.6 L1261.3 726.3 L1260.5 725.2 L1259.7 728.1 L1258.9 727.6 L1258.1 727.0 L1257.3 728.9 L1256.5 730.7 L1255.7 729.9 L1254.9 728.6 L1254.1 727.8 L1253.3 728.8 L1252.5 728.2 L1251.7 725.6 L1250.9 727.2 L1250.1 728.6 L1249.3 731.3 L1248.5 727.6 L1247.7 728.5 L1246.9 726.4 L1246.1 729.2 L1245.3 728.8 L1244.5 730.1 L1243.7 728.4 L1242.9 726.0 L1242.1 730.4 L1241.3 730.4 L1240.5 728.1 L1239.7 728.9 L1238.9 731.8 L1238.1 728.4 L1237.3 728.6 L1236.5 731.4 L1235.7 732.2 L1234.9 730.7 L1234.1 731.1 L1233.3 729.6 L1232.5 729.8 L1231.7 730.5 L1230.9 731.8 L1230.1 732.1 L1229.3 730.8 L1228.5 732.0 L1227.7 731.6 L1226.9 732.5 L1226.1 732.2 L1225.3 730.3 L1224.5 731.8 L1223.7 730.8 L1222.9 729.1 L1222.1 730.8 L1221.3 732.2 L1220.5 730.4 L1219.7 732.5 L1218.9 731.5 L1218.1 729.7 L1217.3 731.1 L1216.5 731.7 L1215.7 729.8 L1214.9 731.2 L1214.1 732.5 L1213.3 732.9 L1212.5 732.9 L1211.7 732.9 L1210.9 730.1 L1210.1 732.2 L1209.4 731.7 L1208.6 733.6 L1207.8 731.5 L1207.0 730.9 L1206.2 731.3 L1205.4 731.9 L1204.6 732.4 L1203.8 734.1 L1203.0 735.3 L1202.2 731.3 L1201.4 733.8 L1200.6 731.1 L1199.8 733.6 L1199.0 731.4 L1198.2 733.9 L1197.4 735.3 L1196.6 734.1 L1195.8 732.5 L1195.0 733.8 L1194.2 734.6 L1193.4 733.2 L1192.6 732.4 L1191.8 736.3 L1191.0 732.6 L1190.2 732.7 L1189.4 733.6 L1188.6 735.4 L1187.8 734.8 L1187.0 735.5 L1186.2 734.9 L1185.4 734.4 L1184.6 734.6 L1183.8 738.0 L1183.0 738.1 L1182.2 734.6 L1181.4 734.6 L1180.6 737.7 L1179.8 733.5 L1179.0 737.1 L1178.2 734.5 L1177.4 736.6 L1176.6 738.6 L1175.8 733.8 L1175.0 735.4 L1174.2 735.5 L1173.4 736.1 L1172.6 735.3 L1171.8 734.4 L1171.0 733.2 L1170.2 736.6 L1169.4 735.5 L1168.6 737.9 L1167.8 734.0 L1167.0 738.4 L1166.2 735.5 L1165.4 737.1 L1164.6 736.1 L1163.8 736.0 L1163.0 736.4 L1162.2 738.4 L1161.4 737.6 L1160.6 737.7 L1159.8 738.1 L1159.0 737.1 L1158.2 736.5 L1157.4 740.5 L1156.6 734.2 L1155.8 738.4 L1155.0 737.7 L1154.2 738.1 L1153.4 739.3 L1152.6 736.8 L1151.8 736.6 L1151.0 737.6 L1150.2 736.7 L1149.4 739.9 L1148.6 739.9 L1147.8 736.7 L1147.0 736.8 L1146.2 739.3 L1145.4 736.4 L1144.6 738.8 L1143.8 737.9 L1143.0 737.4 L1142.2 740.2 L1141.4 738.0 L1140.6 737.5 L1139.8 738.5 L1139.0 737.4 L1138.2 738.0 L1137.4 736.0 L1136.6 738.6 L1135.8 738.8 L1135.0 737.9 L1134.2 738.4 L1133.4 740.6 L1132.6 738.5 L1131.8 738.8 L1131.0 738.6 L1130.2 738.2 L1129.4 738.0 L1128.6 739.4 L1127.8 738.2 L1127.0 736.7 L1126.2 737.7 L1125.4 739.2 L1124.6 739.5 L1123.8 739.5 L1123.0 740.4 L1122.2 738.7 L1121.4 738.4 L1120.6 739.1 L1119.8 737.2 L1119.0 738.9 L1118.2 739.3 L1117.4 738.4 L1116.6 739.6 L1115.8 737.1 L1115.0 739.6 L1114.2 736.6 L1113.4 738.2 L1112.6 739.6 L1111.8 739.4 L1111.0 739.1 L1110.2 739.0 L1109.4 740.2 L1108.6 740.3 L1107.8 738.7 L1107.0 737.8 L1106.2 740.7 L1105.4 738.5 L1104.6 736.7 L1103.8 740.5 L1103.0 737.9 L1102.2 736.9 L1101.4 739.4 L1100.6 738.4 L1099.8 740.3 L1099.0 741.3 L1098.2 738.3 L1097.4 739.4 L1096.6 739.8 L1095.8 739.0 L1095.0 739.1 L1094.2 741.0 L1093.4 740.5 L1092.6 739.1 L1091.8 738.1 L1091.0 740.4 L1090.2 740.5 L1089.4 740.4 L1088.6 741.4 L1087.8 738.4 L1087.0 737.6 L1086.2 738.9 L1085.4 738.6 L1084.5 741.5 L1083.7 738.2 L1082.9 740.7 L1082.1 739.6 L1081.3 737.6 L1080.5 740.3 L1079.7 738.1 L1078.9 740.7 L1078.1 738.4 L1077.3 741.1 L1076.5 740.1 L1075.7 740.3 L1074.8 739.5 L1074.0 738.7 L1073.2 739.5 L1072.4 740.3 L1071.6 738.0 L1070.8 738.8 L1070.0 741.6 L1069.2 739.1 L1068.4 740.2 L1067.6 742.1 L1066.8 740.2 L1066.0 741.2 L1065.1 739.2 L1064.3 742.7 L1063.5 741.4 L1062.7 741.8 L1061.9 737.9 L1061.1 740.3 L1060.3 740.1 L1059.5 736.9 L1058.7 742.9 L1057.9 739.3 L1057.1 741.1 L1056.3 740.9 L1055.4 740.2 L1054.6 742.1 L1053.8 738.9 L1053.0 739.4 L1052.2 738.3 L1051.4 740.4 L1050.6 743.0 L1049.8 741.9 L1049.0 739.2 L1048.2 740.6 L1047.4 738.7 L1046.6 739.4 L1045.8 742.0 L1044.9 742.0 L1044.1 739.3 L1043.3 739.4 L1042.5 739.7 L1041.7 740.4 L1040.9 739.9 L1040.1 741.5 L1039.3 741.2 L1038.5 741.3 L1037.7 738.0 L1036.9 739.7 L1036.1 741.4 L1035.3 737.6 L1034.4 740.3 L1033.6 742.5 L1032.8 740.2 L1032.0 740.4 L1031.2 740.7 L1030.4 738.8 L1029.6 739.5 L1028.8 741.4 L1028.0 741.6 L1027.2 739.2 L1026.4 738.5 L1025.6 740.9 L1024.8 743.3 L1024.0 739.7 L1023.2 742.2 L1022.3 741.0 L1021.5 741.5 L1020.7 740.4 L1019.9 743.1 L1019.1 740.8 L1018.3 740.2 L1017.5 742.9 L1016.7 738.6 L1015.9 741.0 L1015.1 742.2 L1014.3 743.0 L1013.5 741.3 L1012.7 740.7 L1011.9 739.1 L1011.1 743.7 L1010.3 741.8 L1009.5 742.6 L1008.7 740.5 L1007.9 743.9 L1007.1 741.5 L1006.3 743.8 L1005.5 741.3 L1004.7 742.3 L1003.9 742.5 L1003.1 742.4 L1002.3 742.6 L1001.5 744.9 L1000.7 742.4 L999.9 744.1 L999.1 744.4 L998.3 741.1 L997.6 744.0 L996.8 744.4 L996.0 746.2 L995.2 743.9 L994.4 745.5 L993.6 745.4 L992.8 746.6 L992.0 746.9 L991.2 744.4 L990.4 745.1 L989.6 743.8 L988.8 744.5 L988.0 745.2 L987.2 745.6 L986.4 744.9 L985.6 743.6 L984.8 747.1 L984.0 746.0 L983.2 746.4 L982.4 747.4 L981.6 748.7 L980.8 749.1 L980.0 746.3 L979.2 747.4 L978.4 746.7 L977.6 746.3 L976.8 748.9 L976.0 746.6 L975.2 748.3 L974.4 746.0 L973.6 746.6 L972.8 749.4 L972.0 746.7 L971.2 745.8 L970.4 748.3 L969.6 746.9 L968.8 747.3 L968.0 747.1 L967.2 749.4 L966.4 749.3 L965.6 746.4 L964.8 747.3 L964.0 747.8 L963.2 746.9 L962.4 744.8 L961.6 747.9 L960.8 748.7 L960.0 745.1 L959.2 746.8 L958.4 748.3 L957.6 745.1 L956.8 745.6 L956.0 749.1 L955.2 747.1 L954.4 748.1 L953.6 749.7 L952.8 748.2 L952.0 749.4 L951.2 747.3 L950.4 749.2 L949.6 747.0 L948.8 746.7 L948.0 749.2 L947.2 750.0 L946.4 747.1 L945.6 747.2 L944.8 748.7 L944.0 748.5 L943.2 751.2 L942.4 747.4 L941.6 747.4 L940.8 751.3 L940.0 748.6 L939.2 749.2 L938.4 748.3 L937.6 752.3 L936.8 748.7 L936.0 751.0 L935.1 751.4 L934.3 748.9 L933.5 749.9 L932.7 751.3 L931.9 750.5 L931.1 750.1 L930.3 748.0 L929.5 749.2 L928.7 748.9 L927.9 751.7 L927.1 751.2 L926.3 752.0 L925.5 750.8 L924.6 750.4 L923.8 748.7 L923.0 751.7 L922.2 752.4 L921.4 751.9 L920.6 750.0 L919.8 751.9 L919.0 748.6 L918.2 750.9 L917.4 753.2 L916.6 750.7 L915.8 753.2 L915.0 751.1 L914.2 750.6 L913.3 751.9 L912.5 753.5 L911.7 752.6 L910.9 752.5 L910.1 752.1 L909.3 750.8 L908.5 752.7 L907.7 751.4 L906.9 750.2 L906.1 753.3 L905.3 752.7 L904.5 753.4 L903.7 752.3 L902.9 754.4 L902.1 753.7 L901.3 752.7 L900.4 751.7 L899.6 752.7 L898.8 754.6 L898.0 754.2 L897.2 753.6 L896.4 756.1 L895.6 751.4 L894.8 755.5 L894.0 752.5 L893.2 753.2 L892.4 753.9 L891.6 753.5 L890.8 751.8 L890.0 753.8 L889.2 751.1 L888.3 755.0 L887.5 753.4 L886.7 754.1 L885.9 754.6 L885.1 755.4 L884.3 752.7 L883.5 753.3 L882.7 753.5 L881.9 754.5 L881.1 753.0 L880.3 753.8 L879.5 754.0 L878.7 756.9 L877.9 752.3 L877.1 753.1 L876.2 753.6 L875.4 754.9 L874.6 754.7 L873.8 756.2 L873.0 755.8 L872.2 755.5 L871.4 753.9 L870.6 753.3 L869.8 753.6 L869.0 754.8 L868.2 753.6 L867.4 755.4 L866.6 756.5 L865.8 757.9 L865.0 756.2 L864.2 758.0 L863.4 754.2 L862.6 758.4 L861.8 758.5 L861.0 754.2 L860.2 757.3 L859.4 757.4 L858.6 754.4 L857.8 755.9 L857.0 757.7 L856.2 755.2 L855.4 755.5 L854.6 757.1 L853.8 755.4 L852.9 754.6 L852.1 757.0 L851.3 757.7 L850.5 757.6 L849.7 755.9 L848.9 755.2 L848.1 754.6 L847.3 756.0 L846.5 757.0 L845.7 757.8 L844.9 756.8 L844.1 757.0 L843.3 756.8 L842.5 753.7 L841.7 755.2 L840.9 756.9 L840.1 755.7 L839.3 758.2 L838.6 758.6 L837.8 755.6 L837.0 756.0 L836.2 754.8 L835.4 757.4 L834.6 757.5 L833.8 757.2 L833.0 757.7 L832.2 757.8 L831.4 760.7 L830.6 757.7 L829.8 758.0 L829.0 758.7 L828.3 757.9 L827.5 757.8 L826.7 759.1 L825.9 757.3 L825.1 760.5 L824.3 758.6 L823.6 759.7 L822.8 759.6 L822.0 762.3 L821.2 760.9 L820.5 759.1 L819.7 758.8 L818.9 763.8 L818.1 761.6 L817.3 762.5 L816.6 762.9 L815.8 761.4 L815.0 761.3 L814.2 761.2 L813.5 763.2 L812.7 763.6 L811.9 760.1 L811.1 762.5 L810.3 762.1 L809.6 762.2 L808.8 762.0 L808.0 763.1 L807.2 764.9 L806.4 764.2 L805.6 766.0 L804.9 761.9 L804.1 765.5 L803.3 765.4 L802.5 766.7 L801.7 764.9 L800.9 765.3 L800.1 766.2 L799.3 764.3 L798.5 764.4 L797.7 765.3 L796.9 763.7 L796.1 767.4 L795.3 768.8 L794.6 765.9 L793.8 767.7 L793.0 768.2 L792.2 768.2 L791.4 768.4 L790.6 768.4 L789.8 768.5 L789.1 769.4 L788.3 766.6 L787.5 769.0 L786.7 771.4 L786.0 770.5 L785.2 770.7 L784.4 769.1 L783.7 770.7 L782.9 771.3 L782.1 772.4 L781.4 769.4 L780.6 769.9 L779.8 768.7 L779.1 773.1 L778.3 771.0 L777.5 772.7 L776.8 771.4 L776.0 771.8 L775.3 772.6 L774.5 773.4 L773.8 774.7 L773.1 774.6 L772.3 773.9 L771.6 774.6 L770.8 775.2 L770.1 776.1 L769.4 776.0 L768.6 775.2 L767.9 778.7 L767.2 777.0 L766.4 779.5 L765.7 777.9 L764.9 777.4 L764.2 779.7 L763.5 778.1 L762.7 778.8 L762.0 782.5 L761.3 781.1 L760.5 780.9 L759.8 781.3 L759.1 779.8 L758.3 782.1 L757.6 780.1 L756.9 781.8 L756.1 783.4 L755.4 781.3 L754.6 781.9 L753.9 784.2 L753.2 783.4 L752.5 785.7 L751.7 786.8 L751.0 785.3 L750.3 785.0 L749.5 788.9 L748.8 786.9 L748.1 787.9 L747.4 788.7 L746.7 786.9 L746.0 786.8 L745.3 789.5 L744.6 789.7 L743.9 788.7 L743.2 787.9 L742.5 789.8 L741.8 791.8 L741.2 791.1 L740.5 791.3 L739.8 792.3 L739.1 791.0 L738.5 794.4 L737.8 791.3 L737.2 794.1 L736.5 795.3 L735.8 795.4 L735.2 794.9 L734.5 796.6 L733.9 798.0 L733.2 797.3 L732.6 797.6 L732.0 797.1 L731.3 800.1 L730.7 799.6 L730.1 799.8 L729.4 797.9 L728.8 799.4 L728.2 801.6 L727.6 801.9 L726.9 803.6 L726.3 801.2 L725.7 804.7 L725.1 803.4 L724.5 804.0 L723.9 805.2 L723.3 805.5 L722.7 807.2 L722.1 807.1 L721.5 807.0 L720.9 807.7 L720.3 807.9 L719.8 808.2 L719.2 810.8 L718.6 809.2 L718.0 809.3 L717.5 811.6 L716.9 811.3 L716.3 811.8 L715.8 814.2 L715.2 812.3 L714.7 813.0 L714.1 814.7 L713.5 815.1 L713.0 816.0 L712.4 817.0 L711.9 817.2 L711.3 817.7 L710.8 816.9 L710.2 819.3 L709.7 820.4 L709.1 820.1 L708.6 821.6 L708.1 820.7 L707.5 821.6 L707.0 824.1 L706.4 822.5 L705.9 824.2 L705.3 826.4 L704.8 825.9 L704.3 824.8 L703.7 826.6 L703.2 825.5 L702.6 828.0 L702.1 827.9 L701.5 829.1 L701.0 829.8 L700.4 830.9 L699.9 832.0 L699.3 831.3 L698.8 831.2 L698.2 832.2 L697.7 834.2 L697.2 833.5 L696.6 834.5 L696.1 836.0 L695.6 834.6 L695.1 836.4 L694.5 835.8 L694.0 838.2 L693.5 838.9 L693.0 839.5 L692.5 840.2 L692.0 840.1 L691.5 841.4 L691.0 842.9 L690.5 841.3 L690.0 842.4 L689.5 844.5 L689.0 843.6 L688.6 845.3 L688.1 846.3 L687.6 846.7 L687.2 847.1 L686.7 850.3 L686.2 847.8 L685.8 847.6 L685.3 849.8 L684.8 850.7 L684.4 850.8 L683.9 851.8 L683.5 853.4 L683.0 854.4 L682.6 853.0 L682.1 853.9 L681.7 856.0 L681.2 856.8 L680.8 856.6 L680.4 858.3 L679.9 858.3 L679.5 857.0 L679.0 858.3 L678.6 858.1 L678.2 860.5 L677.7 862.5 L677.3 862.0 L676.9 863.4 L676.4 862.9 L676.0 863.3 L675.6 865.0 L675.1 864.9 L674.7 865.6 L674.3 866.1 L673.9 867.6 L673.4 867.7 L673.0 869.0 L672.6 869.3 L672.2 871.5 L671.7 870.4 L671.3 871.3 L670.9 871.1 L670.5 874.2 L670.1 874.8 L669.6 873.4 L669.2 874.4 L668.8 875.7 L668.4 876.6 L668.0 876.0 L667.6 878.2 L667.2 877.9 L666.8 880.3 L666.4 880.2 L666.0 881.0 L665.6 880.6 L665.2 882.6 L664.8 883.3 L664.4 882.5 L664.0 884.4 L663.6 885.3 L663.2 884.8 L662.8 886.2 L662.4 886.4 L662.0 887.6 L661.6 887.6 L661.2 889.7 L660.8 889.9 L660.4 890.4 L660.0 891.5 L659.6 891.4 L659.2 892.8 L658.8 892.9 L658.4 894.9 L658.0 895.1 L657.6 895.4 L657.2 896.8 L656.8 896.5 L656.4 897.9 L656.0 897.8 L655.6 898.7 L655.2 899.9 L654.8 901.2 L654.4 902.1 L654.0 901.9 L653.6 902.2 L653.3 903.7 L652.9 903.3 L652.5 904.9 L652.1 905.5 L651.7 906.2 L651.3 907.1 L650.9 907.1 L650.5 907.3 L650.1 910.3 L649.8 909.9 L649.4 911.5 L649.0 910.9 L648.6 911.3 L648.2 912.6 L647.8 912.5 L647.4 914.1 L647.1 914.0 L646.7 915.2 L646.3 916.0 L645.9 917.0 L645.5 918.3 L645.1 918.6 L644.8 919.0 L644.4 918.6 L644.0 921.8 L643.6 921.3 L643.2 921.0 L642.8 922.7 L642.4 923.0 L642.1 923.8 L641.7 925.0 L641.3 926.2 L640.9 926.5 L640.5 928.1 L640.1 926.8 L639.7 927.5 L639.3 929.3 L639.0 929.3 L638.6 931.1 L638.2 932.5 L637.8 932.0 L637.4 931.7 L637.1 932.8 L636.7 934.0 L636.3 934.7 L635.9 935.3 L635.6 935.3 L635.2 937.3 L634.8 937.9 L634.4 938.6 L634.1 939.2 L633.7 939.3 L633.3 941.6 L632.9 942.3 L632.6 942.4 L632.2 942.9 L631.8 943.8 L631.4 944.4 L631.0 945.6 L630.6 945.9 L630.2 947.1 L629.8 947.4 L629.4 946.5 L629.0 949.6 L628.6 949.6 L628.2 949.4 L627.7 949.4 L627.3 952.0 L626.9 951.6 L626.4 952.0 L626.0 953.9 L625.6 953.9 L625.1 954.3 L624.6 953.9 L624.2 956.1 L623.7 956.7 L623.2 957.2 L622.7 957.9 L622.2 959.3 L621.7 960.0 L621.2 958.8 L620.7 960.7 L620.1 959.9 L619.6 961.1 L619.1 962.6 L618.5 963.9 L618.0 964.3 L617.5 964.1 L616.9 964.4 L616.4 966.7 L615.8 967.4 L615.3 966.2 L614.7 967.4 L614.2 968.6 L613.6 968.3 L613.1 968.0 L612.5 970.2 L612.0 971.9 L611.5 970.5 L610.9 971.6 L610.4 972.4 L609.8 972.9 L609.3 972.6 L608.8 973.2 L608.2 973.7 L607.7 975.6 L607.2 977.3 L606.6 977.1 L606.1 976.7 L605.5 977.2 L605.0 979.1 L604.5 979.6 L603.9 980.8 L603.3 981.7 L602.8 981.4 L602.2 979.5 L601.6 981.4 L601.0 982.6 L600.4 981.5 L599.8 983.9 L599.2 984.2 L598.6 984.3 L598.0 984.3 L597.3 987.3 L596.7 985.9 L596.0 984.9 L595.3 988.5 L594.6 987.4 L593.9 987.4 L593.2 987.7 L592.5 987.6 L591.8 989.1 L591.1 987.3 L590.3 989.6 L589.6 988.8 L588.8 994.0 L588.1 988.0 L587.3 991.2 L586.6 991.1 L585.8 991.6 L585.0 990.3 L584.3 991.5 L583.5 992.0 L582.7 993.6 L581.9 992.8 L581.1 992.1 L580.4 994.7 L579.6 995.2 L578.8 994.0 L578.0 995.7 L577.2 994.5 L576.4 995.5 L575.6 995.6 L574.8 997.3 L574.0 997.4 L573.2 997.4 L572.5 997.1 L571.7 998.3 L570.9 997.2 L570.1 994.5 L569.3 999.0 L568.5 997.6 L567.7 998.0 L566.9 1000.4 L566.1 995.9 L565.3 997.5 L564.5 1000.0 L563.7 997.5 L562.9 997.9 L562.1 997.1 L561.2 998.3 L560.4 1000.4 L559.6 997.6 L558.8 1000.4 L558.0 998.8 L557.2 999.7 L556.3 996.8 L555.5 1000.5 L554.7 1002.0 L553.9 1001.6 L553.1 999.9 L552.3 1001.6 L551.4 999.7 L550.6 1001.8 L549.8 1002.4 L549.0 999.9 L548.2 1001.0 L547.4 1001.1 L546.6 1001.4 L545.8 1001.9 L545.0 1000.9 L544.2 1001.0 L543.4 1002.3 L542.6 1002.5 L541.9 1002.3 L541.1 1003.1 L540.3 1003.4 L539.5 1004.5 L538.8 1004.1 L538.0 1003.2 L537.2 1006.5 L536.5 1005.3 L535.7 1005.0 L534.9 1005.6 L534.2 1008.0 L533.4 1005.1 L532.7 1007.3 L531.9 1005.4 L531.1 1006.8 L530.4 1006.8 L529.6 1006.2 L528.8 1009.0 L528.1 1006.5 L527.3 1010.8 L526.5 1010.3 L525.8 1011.2 L525.0 1009.8 L524.3 1009.0 L523.5 1009.8 L522.7 1008.4 L522.0 1011.4 L521.2 1011.5 L520.5 1011.2 L519.7 1010.7 L518.9 1010.7 L518.2 1014.5 L517.4 1013.2 L516.7 1012.7 L515.9 1014.7 L515.2 1015.0 L514.5 1015.1 L513.7 1015.3 L513.0 1017.5 L512.3 1015.4 L511.5 1016.0 L510.8 1015.9 L510.1 1018.4 L509.4 1015.2 L508.6 1018.2 L507.9 1018.6 L507.2 1018.1 L506.5 1017.4 L505.7 1019.4 L505.0 1019.3 L504.3 1019.1 L503.6 1019.0 L502.9 1020.0 L502.2 1021.0 L501.5 1019.6 L500.8 1021.5 L500.1 1020.4 L499.4 1024.9 L498.7 1021.8 L498.0 1024.1 L497.3 1023.7 L496.6 1025.6 L495.9 1025.1 L495.3 1022.8 L494.6 1027.0 L493.9 1023.8 L493.2 1026.1 L492.5 1027.4 L491.9 1027.8 L491.2 1027.7 L490.5 1029.3 L489.8 1028.5 L489.2 1029.7 L488.5 1030.0 L487.8 1029.5 L487.1 1031.5 L486.4 1030.0 L485.7 1032.4 L485.0 1031.9 L484.4 1032.1 L483.7 1032.4 L483.0 1033.7 L482.3 1034.2 L481.6 1033.9 L480.9 1033.8 L480.2 1035.1 L479.5 1034.9 L478.8 1034.8 L478.1 1036.7 L477.5 1034.5 L476.8 1036.2 L476.1 1039.1 L475.4 1037.3 L474.7 1039.2 L474.0 1039.2 L473.3 1039.0 L472.7 1038.4 L472.0 1041.3 L471.3 1041.4 L470.7 1040.1 L470.0 1039.9 L469.3 1041.5 L468.6 1043.5 L468.0 1044.9 L467.3 1045.6 L466.6 1043.3 L465.9 1044.3 L465.3 1047.1 L464.6 1046.0 L464.0 1045.5 L463.3 1046.6 L462.6 1047.3 L462.0 1046.9 L461.3 1048.1 L460.7 1048.7 L460.1 1049.1 L459.4 1049.3 L458.8 1050.5 L458.2 1050.4 L457.6 1050.0 L457.0 1052.6 L456.4 1052.5 L455.7 1053.2 L455.1 1052.5 L454.5 1054.8 L453.9 1054.9 L453.3 1054.7 L452.6 1056.1 L452.0 1056.9 L451.4 1056.5 L450.8 1057.5 L450.2 1057.5 L449.6 1057.1 L449.0 1059.3 L448.5 1059.0 L447.9 1059.5 L447.3 1059.6 L446.8 1061.1 L446.2 1061.8 L445.7 1063.9 L445.2 1063.8 L444.7 1063.3 L444.2 1063.8 L443.7 1065.1 L443.2 1065.5 L442.8 1066.6 L442.3 1066.9 L441.9 1068.1 L441.5 1069.6 L441.2 1069.5 L440.8 1070.3 L440.5 1070.9 L440.1 1071.5 L439.8 1071.8 L439.5 1072.3 L439.2 1074.0 L438.9 1075.2 L438.6 1074.6 L438.3 1075.4 L438.0 1077.7 L437.7 1077.9 L437.4 1078.8 L437.1 1079.4 L436.8 1079.2 L436.5 1079.9 L436.2 1081.8 L435.8 1082.2 L435.5 1083.0" fill="none" stroke="#00f" stroke-width="8.6" stroke-linejoin="round" stroke-linecap="butt" shape-rendering="crispEdges"/>
<rect x="353" y="45" width="1447.7" height="1045.6" fill="none" stroke="#000" stroke-width="4.3"/>
<line x1="330" x2="353" y1="93.3" y2="93.3" stroke="#000" stroke-width="4.3"/>
<line x1="330" x2="353" y1="289.0" y2="289.0" stroke="#000" stroke-width="4.3"/>
<line x1="330" x2="353" y1="484.9" y2="484.9" stroke="#000" stroke-width="4.3"/>
<line x1="330" x2="353" y1="680.5" y2="680.5" stroke="#000" stroke-width="4.3"/>
<line x1="330" x2="353" y1="876.3" y2="876.3" stroke="#000" stroke-width="4.3"/>
<line x1="330" x2="353" y1="1072" y2="1072" stroke="#000" stroke-width="4.3"/>
<line x1="433" x2="433" y1="1090.6" y2="1115.5" stroke="#000" stroke-width="4.3"/>
<line x1="754.2" x2="754.2" y1="1090.6" y2="1115.5" stroke="#000" stroke-width="4.3"/>
<line x1="1075.7" x2="1075.7" y1="1090.6" y2="1115.5" stroke="#000" stroke-width="4.3"/>
<line x1="1397.4" x2="1397.4" y1="1090.6" y2="1115.5" stroke="#000" stroke-width="4.3"/>
<line x1="1718.7" x2="1718.7" y1="1090.6" y2="1115.5" stroke="#000" stroke-width="4.3"/>
<g font-family='"Liberation Serif", serif' font-size="82.4" fill="#000" filter="url(#soft)">
<text x="161.7 205.7 227.3 270.8" y="119.5 119.5 119.5 119.5">0.04</text>
<text x="161.7 205.7 227.3 270.8" y="315.1 315.1 315.1 315.1">0.02</text>
<text x="161.7 205.7 227.3 270.8" y="510.7 510.7 510.7 510.7">0.00</text>
<text x="131.6 161.7 205.7 227.3 270.8" y="707.8 706.4 706.4 706.4 706.4">-0.02</text>
<text x="131.6 161.7 205.7 227.3 270.8" y="903.5 902.1 902.1 902.1 902.1">-0.04</text>
<text x="131.6 161.7 205.7 227.3 270.8" y="1097.4 1096.0 1096.0 1096.0 1096.0">-0.06</text>
<text x="378.7 420.6 444.0" y="1194.9">0.0</text>
<text x="699.9 741.8 765.2" y="1194.9">0.2</text>
<text x="1021.4 1063.3 1086.7" y="1194.9">0.4</text>
<text x="1343.1 1385.0 1408.4" y="1194.9">0.6</text>
<text x="1664.4 1706.3 1729.7" y="1194.9">0.8</text>
</g>
<g font-family='"Liberation Serif", serif' font-size="83.3" fill="#000" filter="url(#soft)">
<text x="1050.8" y="1281.4" text-anchor="middle" textLength="455" lengthAdjust="spacing">Potential (V)</text>
<text transform="translate(101,568) rotate(-90)" text-anchor="middle" textLength="813" lengthAdjust="spacing">Current Density (A g<tspan font-size="54" dy="-47.2">-1</tspan><tspan dy="47.2">)</tspan></text>
</g>
<g font-family='"Liberation Sans", sans-serif' font-size="67" fill="#000" filter="url(#soft)">
<path d="M1175 867.8H1333V874.0H1331V876.2H1177V874.0H1175Z" fill="#000"/>
<text transform="translate(1347,892.3) scale(1,1.03)" stroke="#000" stroke-width="1">Pristine</text>
<path d="M1175 949.8H1333V956.0H1331V958.2H1177V956.0H1175Z" fill="#f00"/>
<text transform="translate(1347,974.3) scale(1,1.03)" stroke="#000" stroke-width="1">DMSO-treated</text>
<path d="M1175 1031.8H1333V1038.0H1331V1040.2H1177V1038.0H1175Z" fill="#00f"/>
<text transform="translate(1347,1056.3) scale(1,1.03)" stroke="#000" stroke-width="1">EG-treated</text>
</g>
</svg></body></html>
